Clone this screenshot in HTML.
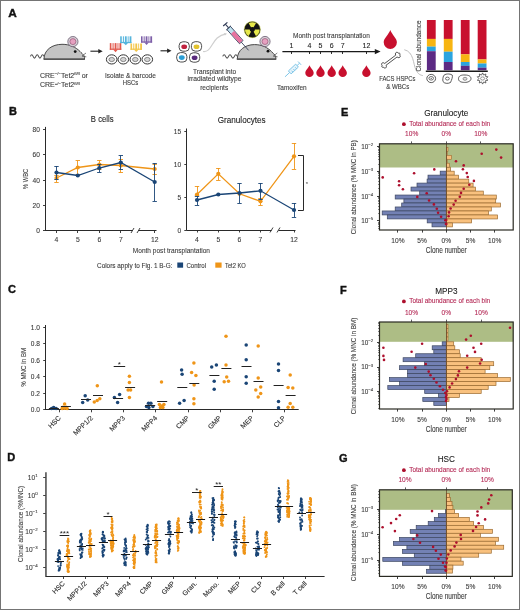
<!DOCTYPE html>
<html><head><meta charset="utf-8"><style>
html,body{margin:0;padding:0;background:#fff;}
svg{display:block;font-family:"Liberation Sans", sans-serif;will-change:transform;}
</style></head><body>
<svg width="520" height="610" viewBox="0 0 520 610">
<rect width="520" height="610" fill="#fff"/>
<rect x="0" y="0" width="520" height="1" fill="#747474"/>
<rect x="0" y="0" width="1" height="610" fill="#747474"/>
<rect x="519" y="0" width="1" height="610" fill="#747474"/>
<rect x="0" y="609" width="520" height="1" fill="#747474"/>
<text x="9" y="115.4" font-size="11" text-anchor="start" fill="#111" font-weight="bold"  stroke="#111" stroke-width="0.4">B</text>
<text x="8" y="293.4" font-size="11" text-anchor="start" fill="#111" font-weight="bold"  stroke="#111" stroke-width="0.4">C</text>
<text x="7.3" y="461.4" font-size="11" text-anchor="start" fill="#111" font-weight="bold"  stroke="#111" stroke-width="0.4">D</text>
<text x="341" y="115.5" font-size="11" text-anchor="start" fill="#111" font-weight="bold"  stroke="#111" stroke-width="0.4">E</text>
<text x="340" y="293.5" font-size="11" text-anchor="start" fill="#111" font-weight="bold"  stroke="#111" stroke-width="0.4">F</text>
<text x="339" y="461.5" font-size="11" text-anchor="start" fill="#111" font-weight="bold"  stroke="#111" stroke-width="0.4">G</text>
<text x="8.2" y="16.6" font-size="11.8" text-anchor="start" fill="#111" font-weight="bold"  stroke="#111" stroke-width="0.4">A</text>
<line x1="45.5" y1="126.9" x2="45.5" y2="231.0" stroke="#2a2a2a" stroke-width="1"/>
<line x1="43.0" y1="129.5" x2="45.5" y2="129.5" stroke="#2a2a2a" stroke-width="0.9"/>
<text x="39.9" y="131.9" font-size="6.6" text-anchor="end" fill="#3a3a3a" font-weight="normal"  stroke="#3a3a3a" stroke-width="0.1">80</text>
<line x1="43.0" y1="154.5" x2="45.5" y2="154.5" stroke="#2a2a2a" stroke-width="0.9"/>
<text x="39.9" y="157.2" font-size="6.6" text-anchor="end" fill="#3a3a3a" font-weight="normal"  stroke="#3a3a3a" stroke-width="0.1">60</text>
<line x1="43.0" y1="180.5" x2="45.5" y2="180.5" stroke="#2a2a2a" stroke-width="0.9"/>
<text x="39.9" y="182.5" font-size="6.6" text-anchor="end" fill="#3a3a3a" font-weight="normal"  stroke="#3a3a3a" stroke-width="0.1">40</text>
<line x1="43.0" y1="205.5" x2="45.5" y2="205.5" stroke="#2a2a2a" stroke-width="0.9"/>
<text x="39.9" y="207.7" font-size="6.6" text-anchor="end" fill="#3a3a3a" font-weight="normal"  stroke="#3a3a3a" stroke-width="0.1">20</text>
<line x1="43.0" y1="230.5" x2="45.5" y2="230.5" stroke="#2a2a2a" stroke-width="0.9"/>
<text x="39.9" y="233.0" font-size="6.6" text-anchor="end" fill="#3a3a3a" font-weight="normal"  stroke="#3a3a3a" stroke-width="0.1">0</text>
<line x1="45.5" y1="230.5" x2="132.5" y2="230.5" stroke="#2a2a2a" stroke-width="1"/>
<line x1="138.5" y1="230.5" x2="156.5" y2="230.5" stroke="#2a2a2a" stroke-width="1"/>
<line x1="131.0" y1="233.0" x2="134.0" y2="228.0" stroke="#2a2a2a" stroke-width="0.9"/>
<line x1="137.0" y1="233.0" x2="140.0" y2="228.0" stroke="#2a2a2a" stroke-width="0.9"/>
<line x1="56.5" y1="230.5" x2="56.5" y2="233.0" stroke="#2a2a2a" stroke-width="0.9"/>
<text x="56.5" y="242.3" font-size="6.8" text-anchor="middle" fill="#3a3a3a" font-weight="normal"  stroke="#3a3a3a" stroke-width="0.1">4</text>
<line x1="77.5" y1="230.5" x2="77.5" y2="233.0" stroke="#2a2a2a" stroke-width="0.9"/>
<text x="77.8" y="242.3" font-size="6.8" text-anchor="middle" fill="#3a3a3a" font-weight="normal"  stroke="#3a3a3a" stroke-width="0.1">5</text>
<line x1="99.5" y1="230.5" x2="99.5" y2="233.0" stroke="#2a2a2a" stroke-width="0.9"/>
<text x="99.3" y="242.3" font-size="6.8" text-anchor="middle" fill="#3a3a3a" font-weight="normal"  stroke="#3a3a3a" stroke-width="0.1">6</text>
<line x1="120.5" y1="230.5" x2="120.5" y2="233.0" stroke="#2a2a2a" stroke-width="0.9"/>
<text x="120.8" y="242.3" font-size="6.8" text-anchor="middle" fill="#3a3a3a" font-weight="normal"  stroke="#3a3a3a" stroke-width="0.1">7</text>
<line x1="154.5" y1="230.5" x2="154.5" y2="233.0" stroke="#2a2a2a" stroke-width="0.9"/>
<text x="154.7" y="242.3" font-size="6.8" text-anchor="middle" fill="#3a3a3a" font-weight="normal"  stroke="#3a3a3a" stroke-width="0.1">12</text>
<polyline points="56.5,178 77.8,167.5 99.3,164.5 120.8,165.5 154.7,169" fill="none" stroke="#ef9518" stroke-width="1.3"/>
<line x1="56.5" y1="175" x2="56.5" y2="182" stroke="#ef9518" stroke-width="0.9"/>
<line x1="54.3" y1="175.5" x2="58.7" y2="175.5" stroke="#ef9518" stroke-width="0.9"/>
<line x1="54.3" y1="182.5" x2="58.7" y2="182.5" stroke="#ef9518" stroke-width="0.9"/>
<circle cx="56.5" cy="178" r="2.1" fill="#ef9518"/>
<line x1="77.5" y1="160.5" x2="77.5" y2="174" stroke="#ef9518" stroke-width="0.9"/>
<line x1="75.6" y1="160.5" x2="80.0" y2="160.5" stroke="#ef9518" stroke-width="0.9"/>
<line x1="75.6" y1="174.5" x2="80.0" y2="174.5" stroke="#ef9518" stroke-width="0.9"/>
<circle cx="77.8" cy="167.5" r="2.1" fill="#ef9518"/>
<line x1="99.5" y1="160.5" x2="99.5" y2="169" stroke="#ef9518" stroke-width="0.9"/>
<line x1="97.1" y1="160.5" x2="101.5" y2="160.5" stroke="#ef9518" stroke-width="0.9"/>
<line x1="97.1" y1="169.5" x2="101.5" y2="169.5" stroke="#ef9518" stroke-width="0.9"/>
<circle cx="99.3" cy="164.5" r="2.1" fill="#ef9518"/>
<line x1="120.5" y1="159.5" x2="120.5" y2="172.5" stroke="#ef9518" stroke-width="0.9"/>
<line x1="118.6" y1="159.5" x2="123.0" y2="159.5" stroke="#ef9518" stroke-width="0.9"/>
<line x1="118.6" y1="172.5" x2="123.0" y2="172.5" stroke="#ef9518" stroke-width="0.9"/>
<circle cx="120.8" cy="165.5" r="2.1" fill="#ef9518"/>
<line x1="154.5" y1="164" x2="154.5" y2="174" stroke="#ef9518" stroke-width="0.9"/>
<line x1="152.5" y1="164.5" x2="156.89999999999998" y2="164.5" stroke="#ef9518" stroke-width="0.9"/>
<line x1="152.5" y1="174.5" x2="156.89999999999998" y2="174.5" stroke="#ef9518" stroke-width="0.9"/>
<circle cx="154.7" cy="169" r="2.1" fill="#ef9518"/>
<polyline points="56.5,172.5 77.8,175.5 99.3,168 120.8,162.5 154.7,182" fill="none" stroke="#1a4576" stroke-width="1.3"/>
<line x1="56.5" y1="166" x2="56.5" y2="179" stroke="#1a4576" stroke-width="0.9"/>
<line x1="54.3" y1="166.5" x2="58.7" y2="166.5" stroke="#1a4576" stroke-width="0.9"/>
<line x1="54.3" y1="179.5" x2="58.7" y2="179.5" stroke="#1a4576" stroke-width="0.9"/>
<circle cx="56.5" cy="172.5" r="2.1" fill="#1a4576"/>
<line x1="77.8" y1="175.5" x2="77.8" y2="175.5" stroke="#1a4576" stroke-width="0.9"/>
<line x1="75.6" y1="175.5" x2="80.0" y2="175.5" stroke="#1a4576" stroke-width="0.9"/>
<line x1="75.6" y1="175.5" x2="80.0" y2="175.5" stroke="#1a4576" stroke-width="0.9"/>
<circle cx="77.8" cy="175.5" r="2.1" fill="#1a4576"/>
<line x1="99.5" y1="164" x2="99.5" y2="172" stroke="#1a4576" stroke-width="0.9"/>
<line x1="97.1" y1="164.5" x2="101.5" y2="164.5" stroke="#1a4576" stroke-width="0.9"/>
<line x1="97.1" y1="172.5" x2="101.5" y2="172.5" stroke="#1a4576" stroke-width="0.9"/>
<circle cx="99.3" cy="168" r="2.1" fill="#1a4576"/>
<line x1="120.5" y1="155.5" x2="120.5" y2="169.5" stroke="#1a4576" stroke-width="0.9"/>
<line x1="118.6" y1="155.5" x2="123.0" y2="155.5" stroke="#1a4576" stroke-width="0.9"/>
<line x1="118.6" y1="169.5" x2="123.0" y2="169.5" stroke="#1a4576" stroke-width="0.9"/>
<circle cx="120.8" cy="162.5" r="2.1" fill="#1a4576"/>
<line x1="154.5" y1="163" x2="154.5" y2="201" stroke="#1a4576" stroke-width="0.9"/>
<line x1="152.5" y1="163.5" x2="156.89999999999998" y2="163.5" stroke="#1a4576" stroke-width="0.9"/>
<line x1="152.5" y1="201.5" x2="156.89999999999998" y2="201.5" stroke="#1a4576" stroke-width="0.9"/>
<circle cx="154.7" cy="182" r="2.1" fill="#1a4576"/>
<text x="102.2" y="122" font-size="8.6" text-anchor="middle" fill="#222" font-weight="normal" textLength="22.7" lengthAdjust="spacingAndGlyphs"  stroke="#222" stroke-width="0.1">B cells</text>
<text transform="translate(27.6,178.9) rotate(-90)" font-size="7.8" text-anchor="middle" fill="#3a3a3a" textLength="20.5" lengthAdjust="spacingAndGlyphs" stroke="#3a3a3a" stroke-width="0.1">% WBC</text>
<line x1="186.5" y1="128.5" x2="186.5" y2="230.5" stroke="#2a2a2a" stroke-width="1"/>
<line x1="184.3" y1="131.5" x2="186.8" y2="131.5" stroke="#2a2a2a" stroke-width="0.9"/>
<text x="181.20000000000002" y="133.5" font-size="6.6" text-anchor="end" fill="#3a3a3a" font-weight="normal"  stroke="#3a3a3a" stroke-width="0.1">15</text>
<line x1="184.3" y1="164.5" x2="186.8" y2="164.5" stroke="#2a2a2a" stroke-width="0.9"/>
<text x="181.20000000000002" y="166.7" font-size="6.6" text-anchor="end" fill="#3a3a3a" font-weight="normal"  stroke="#3a3a3a" stroke-width="0.1">10</text>
<line x1="184.3" y1="197.5" x2="186.8" y2="197.5" stroke="#2a2a2a" stroke-width="0.9"/>
<text x="181.20000000000002" y="199.7" font-size="6.6" text-anchor="end" fill="#3a3a3a" font-weight="normal"  stroke="#3a3a3a" stroke-width="0.1">5</text>
<line x1="184.3" y1="230.5" x2="186.8" y2="230.5" stroke="#2a2a2a" stroke-width="0.9"/>
<text x="181.20000000000002" y="232.5" font-size="6.6" text-anchor="end" fill="#3a3a3a" font-weight="normal"  stroke="#3a3a3a" stroke-width="0.1">0</text>
<line x1="186.8" y1="230.5" x2="271.5" y2="230.5" stroke="#2a2a2a" stroke-width="1"/>
<line x1="278.5" y1="230.5" x2="295.5" y2="230.5" stroke="#2a2a2a" stroke-width="1"/>
<line x1="270.0" y1="232.5" x2="273.0" y2="227.5" stroke="#2a2a2a" stroke-width="0.9"/>
<line x1="277.0" y1="232.5" x2="280.0" y2="227.5" stroke="#2a2a2a" stroke-width="0.9"/>
<line x1="197.5" y1="230" x2="197.5" y2="232.5" stroke="#2a2a2a" stroke-width="0.9"/>
<text x="197" y="241.8" font-size="6.8" text-anchor="middle" fill="#3a3a3a" font-weight="normal"  stroke="#3a3a3a" stroke-width="0.1">4</text>
<line x1="218.5" y1="230" x2="218.5" y2="232.5" stroke="#2a2a2a" stroke-width="0.9"/>
<text x="218.3" y="241.8" font-size="6.8" text-anchor="middle" fill="#3a3a3a" font-weight="normal"  stroke="#3a3a3a" stroke-width="0.1">5</text>
<line x1="239.5" y1="230" x2="239.5" y2="232.5" stroke="#2a2a2a" stroke-width="0.9"/>
<text x="239.5" y="241.8" font-size="6.8" text-anchor="middle" fill="#3a3a3a" font-weight="normal"  stroke="#3a3a3a" stroke-width="0.1">6</text>
<line x1="260.5" y1="230" x2="260.5" y2="232.5" stroke="#2a2a2a" stroke-width="0.9"/>
<text x="260.5" y="241.8" font-size="6.8" text-anchor="middle" fill="#3a3a3a" font-weight="normal"  stroke="#3a3a3a" stroke-width="0.1">7</text>
<line x1="294.5" y1="230" x2="294.5" y2="232.5" stroke="#2a2a2a" stroke-width="0.9"/>
<text x="294" y="241.8" font-size="6.8" text-anchor="middle" fill="#3a3a3a" font-weight="normal"  stroke="#3a3a3a" stroke-width="0.1">12</text>
<polyline points="197,194.5 218.3,173.8 239.5,193.8 260.5,201.3 294,156.3" fill="none" stroke="#ef9518" stroke-width="1.3"/>
<line x1="197.5" y1="186" x2="197.5" y2="195" stroke="#ef9518" stroke-width="0.9"/>
<line x1="194.8" y1="186.5" x2="199.2" y2="186.5" stroke="#ef9518" stroke-width="0.9"/>
<line x1="194.8" y1="195.5" x2="199.2" y2="195.5" stroke="#ef9518" stroke-width="0.9"/>
<circle cx="197" cy="194.5" r="2.1" fill="#ef9518"/>
<line x1="218.5" y1="168" x2="218.5" y2="180" stroke="#ef9518" stroke-width="0.9"/>
<line x1="216.10000000000002" y1="168.5" x2="220.5" y2="168.5" stroke="#ef9518" stroke-width="0.9"/>
<line x1="216.10000000000002" y1="180.5" x2="220.5" y2="180.5" stroke="#ef9518" stroke-width="0.9"/>
<circle cx="218.3" cy="173.8" r="2.1" fill="#ef9518"/>
<line x1="239.5" y1="193.5" x2="239.5" y2="193.5" stroke="#ef9518" stroke-width="0.9"/>
<line x1="237.3" y1="193.5" x2="241.7" y2="193.5" stroke="#ef9518" stroke-width="0.9"/>
<line x1="237.3" y1="193.5" x2="241.7" y2="193.5" stroke="#ef9518" stroke-width="0.9"/>
<circle cx="239.5" cy="193.8" r="2.1" fill="#ef9518"/>
<line x1="260.5" y1="198" x2="260.5" y2="205" stroke="#ef9518" stroke-width="0.9"/>
<line x1="258.3" y1="198.5" x2="262.7" y2="198.5" stroke="#ef9518" stroke-width="0.9"/>
<line x1="258.3" y1="205.5" x2="262.7" y2="205.5" stroke="#ef9518" stroke-width="0.9"/>
<circle cx="260.5" cy="201.3" r="2.1" fill="#ef9518"/>
<line x1="294.5" y1="143" x2="294.5" y2="169" stroke="#ef9518" stroke-width="0.9"/>
<line x1="291.8" y1="143.5" x2="296.2" y2="143.5" stroke="#ef9518" stroke-width="0.9"/>
<line x1="291.8" y1="169.5" x2="296.2" y2="169.5" stroke="#ef9518" stroke-width="0.9"/>
<circle cx="294" cy="156.3" r="2.1" fill="#ef9518"/>
<polyline points="197,200 218.3,194.5 239.5,193 260.5,190.8 294,210" fill="none" stroke="#1a4576" stroke-width="1.3"/>
<line x1="197.5" y1="196" x2="197.5" y2="205" stroke="#1a4576" stroke-width="0.9"/>
<line x1="194.8" y1="196.5" x2="199.2" y2="196.5" stroke="#1a4576" stroke-width="0.9"/>
<line x1="194.8" y1="205.5" x2="199.2" y2="205.5" stroke="#1a4576" stroke-width="0.9"/>
<circle cx="197" cy="200" r="2.1" fill="#1a4576"/>
<line x1="218.3" y1="194.5" x2="218.3" y2="194.5" stroke="#1a4576" stroke-width="0.9"/>
<line x1="216.10000000000002" y1="194.5" x2="220.5" y2="194.5" stroke="#1a4576" stroke-width="0.9"/>
<line x1="216.10000000000002" y1="194.5" x2="220.5" y2="194.5" stroke="#1a4576" stroke-width="0.9"/>
<circle cx="218.3" cy="194.5" r="2.1" fill="#1a4576"/>
<line x1="239.5" y1="183" x2="239.5" y2="203" stroke="#1a4576" stroke-width="0.9"/>
<line x1="237.3" y1="183.5" x2="241.7" y2="183.5" stroke="#1a4576" stroke-width="0.9"/>
<line x1="237.3" y1="203.5" x2="241.7" y2="203.5" stroke="#1a4576" stroke-width="0.9"/>
<circle cx="239.5" cy="193" r="2.1" fill="#1a4576"/>
<line x1="260.5" y1="183" x2="260.5" y2="199" stroke="#1a4576" stroke-width="0.9"/>
<line x1="258.3" y1="183.5" x2="262.7" y2="183.5" stroke="#1a4576" stroke-width="0.9"/>
<line x1="258.3" y1="199.5" x2="262.7" y2="199.5" stroke="#1a4576" stroke-width="0.9"/>
<circle cx="260.5" cy="190.8" r="2.1" fill="#1a4576"/>
<line x1="294.5" y1="203" x2="294.5" y2="217" stroke="#1a4576" stroke-width="0.9"/>
<line x1="291.8" y1="203.5" x2="296.2" y2="203.5" stroke="#1a4576" stroke-width="0.9"/>
<line x1="291.8" y1="217.5" x2="296.2" y2="217.5" stroke="#1a4576" stroke-width="0.9"/>
<circle cx="294" cy="210" r="2.1" fill="#1a4576"/>
<text x="241.7" y="122.5" font-size="8.6" text-anchor="middle" fill="#222" font-weight="normal" textLength="48" lengthAdjust="spacingAndGlyphs"  stroke="#222" stroke-width="0.1">Granulocytes</text>
<polyline points="298,155.5 303.5,155.5 303.5,210.5 298,210.5" fill="none" stroke="#2a2a2a" stroke-width="1"/>
<text x="306.8" y="186" font-size="6" text-anchor="middle" fill="#3a3a3a" font-weight="normal"  stroke="#3a3a3a" stroke-width="0">*</text>
<text x="132.8" y="253" font-size="8.1" text-anchor="start" fill="#3a3a3a" font-weight="normal" textLength="77.2" lengthAdjust="spacingAndGlyphs"  stroke="#3a3a3a" stroke-width="0.1">Month post transplantation</text>
<text x="97" y="267.5" font-size="7" text-anchor="start" fill="#3a3a3a" font-weight="normal" textLength="75.5" lengthAdjust="spacingAndGlyphs"  stroke="#3a3a3a" stroke-width="0.1">Colors apply to Fig. 1 B-G:</text>
<rect x="177.3" y="262.5" width="5.8" height="5.2" fill="#1a4576"/>
<text x="186.4" y="267.5" font-size="7" text-anchor="start" fill="#3a3a3a" font-weight="normal" textLength="19.6" lengthAdjust="spacingAndGlyphs"  stroke="#3a3a3a" stroke-width="0.1">Control</text>
<rect x="215.3" y="262.5" width="6.3" height="5.2" fill="#ef9518"/>
<text x="225" y="267.5" font-size="7" text-anchor="start" fill="#3a3a3a" font-weight="normal" textLength="20.8" lengthAdjust="spacingAndGlyphs"  stroke="#3a3a3a" stroke-width="0.1">Tet2 KO</text>
<line x1="45.5" y1="325" x2="45.5" y2="410.0" stroke="#2a2a2a" stroke-width="1"/>
<line x1="43.2" y1="327.5" x2="45.9" y2="327.5" stroke="#2a2a2a" stroke-width="0.9"/>
<text x="40" y="329.7" font-size="6.6" text-anchor="end" fill="#3a3a3a" font-weight="normal"  stroke="#3a3a3a" stroke-width="0.1">1.0</text>
<line x1="43.2" y1="343.5" x2="45.9" y2="343.5" stroke="#2a2a2a" stroke-width="0.9"/>
<text x="40" y="346.2" font-size="6.6" text-anchor="end" fill="#3a3a3a" font-weight="normal"  stroke="#3a3a3a" stroke-width="0.1">0.8</text>
<line x1="43.2" y1="360.5" x2="45.9" y2="360.5" stroke="#2a2a2a" stroke-width="0.9"/>
<text x="40" y="362.7" font-size="6.6" text-anchor="end" fill="#3a3a3a" font-weight="normal"  stroke="#3a3a3a" stroke-width="0.1">0.6</text>
<line x1="43.2" y1="376.5" x2="45.9" y2="376.5" stroke="#2a2a2a" stroke-width="0.9"/>
<text x="40" y="379.2" font-size="6.6" text-anchor="end" fill="#3a3a3a" font-weight="normal"  stroke="#3a3a3a" stroke-width="0.1">0.4</text>
<line x1="43.2" y1="393.5" x2="45.9" y2="393.5" stroke="#2a2a2a" stroke-width="0.9"/>
<text x="40" y="395.7" font-size="6.6" text-anchor="end" fill="#3a3a3a" font-weight="normal"  stroke="#3a3a3a" stroke-width="0.1">0.2</text>
<line x1="43.2" y1="409.5" x2="45.9" y2="409.5" stroke="#2a2a2a" stroke-width="0.9"/>
<text x="40" y="411.9" font-size="6.6" text-anchor="end" fill="#3a3a3a" font-weight="normal"  stroke="#3a3a3a" stroke-width="0.1">0.0</text>
<line x1="45.9" y1="409.5" x2="298.7" y2="409.5" stroke="#2a2a2a" stroke-width="1"/>
<text transform="translate(26,367.3) rotate(-90)" font-size="7.8" text-anchor="middle" fill="#3a3a3a" textLength="39" lengthAdjust="spacingAndGlyphs" stroke="#3a3a3a" stroke-width="0.1">% MNC in BM</text>
<line x1="59.5" y1="409.5" x2="59.5" y2="412.3" stroke="#2a2a2a" stroke-width="0.9"/>
<circle cx="51.6" cy="408.6" r="1.75" fill="#1a4576"/>
<circle cx="54.1" cy="408.3" r="1.75" fill="#1a4576"/>
<circle cx="56.1" cy="408.6" r="1.75" fill="#1a4576"/>
<circle cx="53.6" cy="407.4" r="1.75" fill="#1a4576"/>
<circle cx="62.1" cy="408.6" r="1.75" fill="#ef9518"/>
<circle cx="64.6" cy="408.3" r="1.75" fill="#ef9518"/>
<circle cx="67.1" cy="408.6" r="1.75" fill="#ef9518"/>
<circle cx="64.6" cy="404" r="1.75" fill="#ef9518"/>
<circle cx="63.1" cy="407.3" r="1.75" fill="#ef9518"/>
<circle cx="66.1" cy="407.3" r="1.75" fill="#ef9518"/>
<line x1="48.900000000000006" y1="408.5" x2="58.9" y2="408.5" stroke="#222" stroke-width="1"/>
<line x1="60.9" y1="406.5" x2="70.9" y2="406.5" stroke="#222" stroke-width="1"/>
<text transform="translate(61.300000000000004,418.5) rotate(-45)" font-size="6.9" text-anchor="end" fill="#2a2a2a" stroke="#2a2a2a" stroke-width="0.1">HSC</text>
<line x1="91.5" y1="409.5" x2="91.5" y2="412.3" stroke="#2a2a2a" stroke-width="0.9"/>
<circle cx="82.7" cy="402.5" r="1.75" fill="#1a4576"/>
<circle cx="85.2" cy="395.8" r="1.75" fill="#1a4576"/>
<circle cx="87.7" cy="400" r="1.75" fill="#1a4576"/>
<circle cx="94.3" cy="402" r="1.75" fill="#ef9518"/>
<circle cx="97.3" cy="385.8" r="1.75" fill="#ef9518"/>
<circle cx="99.8" cy="398.8" r="1.75" fill="#ef9518"/>
<circle cx="97.2" cy="400.5" r="1.75" fill="#ef9518"/>
<line x1="81.0" y1="399.5" x2="91.0" y2="399.5" stroke="#222" stroke-width="1"/>
<line x1="93.0" y1="395.5" x2="103.0" y2="395.5" stroke="#222" stroke-width="1"/>
<text transform="translate(93.4,418.5) rotate(-45)" font-size="6.9" text-anchor="end" fill="#2a2a2a" stroke="#2a2a2a" stroke-width="0.1">MPP1/2</text>
<line x1="123.5" y1="409.5" x2="123.5" y2="412.3" stroke="#2a2a2a" stroke-width="0.9"/>
<circle cx="114.4" cy="397.5" r="1.75" fill="#1a4576"/>
<circle cx="117.60000000000001" cy="402.5" r="1.75" fill="#1a4576"/>
<circle cx="119.60000000000001" cy="394.5" r="1.75" fill="#1a4576"/>
<circle cx="129.4" cy="376.3" r="1.75" fill="#ef9518"/>
<circle cx="129.4" cy="382.5" r="1.75" fill="#ef9518"/>
<circle cx="128.10000000000002" cy="390" r="1.75" fill="#ef9518"/>
<circle cx="130.60000000000002" cy="390" r="1.75" fill="#ef9518"/>
<circle cx="129.4" cy="397.5" r="1.75" fill="#ef9518"/>
<line x1="113.10000000000001" y1="398.5" x2="123.10000000000001" y2="398.5" stroke="#222" stroke-width="1"/>
<line x1="125.10000000000001" y1="387.5" x2="135.10000000000002" y2="387.5" stroke="#222" stroke-width="1"/>
<text transform="translate(125.50000000000001,418.5) rotate(-45)" font-size="6.9" text-anchor="end" fill="#2a2a2a" stroke="#2a2a2a" stroke-width="0.1">MPP3</text>
<line x1="155.5" y1="409.5" x2="155.5" y2="412.3" stroke="#2a2a2a" stroke-width="0.9"/>
<circle cx="146.5" cy="406.5" r="1.75" fill="#1a4576"/>
<circle cx="148.5" cy="403.3" r="1.75" fill="#1a4576"/>
<circle cx="150.9" cy="403.3" r="1.75" fill="#1a4576"/>
<circle cx="152.9" cy="406.5" r="1.75" fill="#1a4576"/>
<circle cx="148.9" cy="407.6" r="1.75" fill="#1a4576"/>
<circle cx="161.5" cy="382" r="1.75" fill="#ef9518"/>
<circle cx="159.4" cy="404.5" r="1.75" fill="#ef9518"/>
<circle cx="161.9" cy="406" r="1.75" fill="#ef9518"/>
<circle cx="163.9" cy="404.5" r="1.75" fill="#ef9518"/>
<circle cx="160.4" cy="407.6" r="1.75" fill="#ef9518"/>
<circle cx="162.9" cy="407.6" r="1.75" fill="#ef9518"/>
<line x1="145.20000000000002" y1="405.5" x2="155.20000000000002" y2="405.5" stroke="#222" stroke-width="1"/>
<line x1="157.20000000000002" y1="401.5" x2="167.20000000000002" y2="401.5" stroke="#222" stroke-width="1"/>
<text transform="translate(157.6,418.5) rotate(-45)" font-size="6.9" text-anchor="end" fill="#2a2a2a" stroke="#2a2a2a" stroke-width="0.1">MPP4</text>
<line x1="188.5" y1="409.5" x2="188.5" y2="412.3" stroke="#2a2a2a" stroke-width="0.9"/>
<circle cx="181.6" cy="370" r="1.75" fill="#1a4576"/>
<circle cx="182.1" cy="374.3" r="1.75" fill="#1a4576"/>
<circle cx="179.6" cy="403.3" r="1.75" fill="#1a4576"/>
<circle cx="184.1" cy="400.5" r="1.75" fill="#1a4576"/>
<circle cx="193.9" cy="363" r="1.75" fill="#ef9518"/>
<circle cx="191.6" cy="372.5" r="1.75" fill="#ef9518"/>
<circle cx="195.9" cy="375.5" r="1.75" fill="#ef9518"/>
<circle cx="194.1" cy="385" r="1.75" fill="#ef9518"/>
<circle cx="193.9" cy="398.8" r="1.75" fill="#ef9518"/>
<circle cx="193.9" cy="403.8" r="1.75" fill="#ef9518"/>
<line x1="177.3" y1="387.5" x2="187.3" y2="387.5" stroke="#222" stroke-width="1"/>
<line x1="189.3" y1="383.5" x2="199.3" y2="383.5" stroke="#222" stroke-width="1"/>
<text transform="translate(189.7,418.5) rotate(-45)" font-size="6.9" text-anchor="end" fill="#2a2a2a" stroke="#2a2a2a" stroke-width="0.1">CMP</text>
<line x1="220.5" y1="409.5" x2="220.5" y2="412.3" stroke="#2a2a2a" stroke-width="0.9"/>
<circle cx="211.7" cy="367" r="1.75" fill="#1a4576"/>
<circle cx="216.4" cy="365" r="1.75" fill="#1a4576"/>
<circle cx="214.2" cy="381.3" r="1.75" fill="#1a4576"/>
<circle cx="214.2" cy="389.3" r="1.75" fill="#1a4576"/>
<circle cx="226.0" cy="336.3" r="1.75" fill="#ef9518"/>
<circle cx="226.0" cy="365" r="1.75" fill="#ef9518"/>
<circle cx="226.7" cy="377" r="1.75" fill="#ef9518"/>
<circle cx="224.2" cy="381.8" r="1.75" fill="#ef9518"/>
<circle cx="228.5" cy="381.3" r="1.75" fill="#ef9518"/>
<line x1="209.4" y1="375.5" x2="219.4" y2="375.5" stroke="#222" stroke-width="1"/>
<line x1="221.4" y1="368.5" x2="231.4" y2="368.5" stroke="#222" stroke-width="1"/>
<text transform="translate(221.79999999999998,418.5) rotate(-45)" font-size="6.9" text-anchor="end" fill="#2a2a2a" stroke="#2a2a2a" stroke-width="0.1">GMP</text>
<line x1="252.5" y1="409.5" x2="252.5" y2="412.3" stroke="#2a2a2a" stroke-width="0.9"/>
<circle cx="246.20000000000002" cy="344.9" r="1.75" fill="#1a4576"/>
<circle cx="246.20000000000002" cy="359.8" r="1.75" fill="#1a4576"/>
<circle cx="246.20000000000002" cy="376.8" r="1.75" fill="#1a4576"/>
<circle cx="246.20000000000002" cy="383.2" r="1.75" fill="#1a4576"/>
<circle cx="258.20000000000005" cy="345.9" r="1.75" fill="#ef9518"/>
<circle cx="258.20000000000005" cy="377.9" r="1.75" fill="#ef9518"/>
<circle cx="260.70000000000005" cy="386.9" r="1.75" fill="#ef9518"/>
<circle cx="255.8" cy="390" r="1.75" fill="#ef9518"/>
<circle cx="260.70000000000005" cy="393.5" r="1.75" fill="#ef9518"/>
<circle cx="258.20000000000005" cy="397" r="1.75" fill="#ef9518"/>
<line x1="241.50000000000003" y1="366.5" x2="251.50000000000003" y2="366.5" stroke="#222" stroke-width="1"/>
<line x1="253.50000000000003" y1="381.5" x2="263.5" y2="381.5" stroke="#222" stroke-width="1"/>
<text transform="translate(253.9,418.5) rotate(-45)" font-size="6.9" text-anchor="end" fill="#2a2a2a" stroke="#2a2a2a" stroke-width="0.1">MEP</text>
<line x1="284.5" y1="409.5" x2="284.5" y2="412.3" stroke="#2a2a2a" stroke-width="0.9"/>
<circle cx="278.5" cy="364" r="1.75" fill="#1a4576"/>
<circle cx="278.5" cy="370.4" r="1.75" fill="#1a4576"/>
<circle cx="278.5" cy="401.4" r="1.75" fill="#1a4576"/>
<circle cx="278.5" cy="407.7" r="1.75" fill="#1a4576"/>
<circle cx="290.2" cy="375.1" r="1.75" fill="#ef9518"/>
<circle cx="288.1" cy="387.5" r="1.75" fill="#ef9518"/>
<circle cx="292.8" cy="388.1" r="1.75" fill="#ef9518"/>
<circle cx="290.2" cy="403.5" r="1.75" fill="#ef9518"/>
<circle cx="288.1" cy="407.3" r="1.75" fill="#ef9518"/>
<circle cx="292.8" cy="407.3" r="1.75" fill="#ef9518"/>
<line x1="273.6" y1="385.5" x2="283.6" y2="385.5" stroke="#222" stroke-width="1"/>
<line x1="285.6" y1="395.5" x2="295.6" y2="395.5" stroke="#222" stroke-width="1"/>
<text transform="translate(286.0,418.5) rotate(-45)" font-size="6.9" text-anchor="end" fill="#2a2a2a" stroke="#2a2a2a" stroke-width="0.1">CLP</text>
<line x1="113.7" y1="366.5" x2="125.2" y2="366.5" stroke="#222" stroke-width="1"/>
<text x="119.3" y="367" font-size="8" text-anchor="middle" fill="#222" font-weight="normal"  stroke="#222" stroke-width="0">*</text>
<line x1="45.95" y1="472.3" x2="45.95" y2="576.8000000000001" stroke="#2a2a2a" stroke-width="1.3"/>
<line x1="43.2" y1="477.5" x2="45.6" y2="477.5" stroke="#2a2a2a" stroke-width="0.9"/>
<text x="37.6" y="479.8" font-size="6.6" text-anchor="end" fill="#3a3a3a" stroke="#3a3a3a" stroke-width="0.1">10<tspan dy="-2.8" font-size="4.4">1</tspan></text>
<line x1="43.2" y1="495.5" x2="45.6" y2="495.5" stroke="#2a2a2a" stroke-width="0.9"/>
<text x="37.6" y="497.8" font-size="6.6" text-anchor="end" fill="#3a3a3a" stroke="#3a3a3a" stroke-width="0.1">10<tspan dy="-2.8" font-size="4.4">0</tspan></text>
<line x1="43.2" y1="513.5" x2="45.6" y2="513.5" stroke="#2a2a2a" stroke-width="0.9"/>
<text x="37.6" y="515.8" font-size="6.6" text-anchor="end" fill="#3a3a3a" stroke="#3a3a3a" stroke-width="0.1">10<tspan dy="-2.8" font-size="4.4">&#8722;1</tspan></text>
<line x1="43.2" y1="531.5" x2="45.6" y2="531.5" stroke="#2a2a2a" stroke-width="0.9"/>
<text x="37.6" y="533.8" font-size="6.6" text-anchor="end" fill="#3a3a3a" stroke="#3a3a3a" stroke-width="0.1">10<tspan dy="-2.8" font-size="4.4">&#8722;2</tspan></text>
<line x1="43.2" y1="549.5" x2="45.6" y2="549.5" stroke="#2a2a2a" stroke-width="0.9"/>
<text x="37.6" y="551.6999999999999" font-size="6.6" text-anchor="end" fill="#3a3a3a" stroke="#3a3a3a" stroke-width="0.1">10<tspan dy="-2.8" font-size="4.4">&#8722;3</tspan></text>
<line x1="43.2" y1="567.5" x2="45.6" y2="567.5" stroke="#2a2a2a" stroke-width="0.9"/>
<text x="37.6" y="569.5999999999999" font-size="6.6" text-anchor="end" fill="#3a3a3a" stroke="#3a3a3a" stroke-width="0.1">10<tspan dy="-2.8" font-size="4.4">&#8722;4</tspan></text>
<line x1="45.6" y1="576.5" x2="324.6" y2="576.5" stroke="#2a2a2a" stroke-width="1"/>
<text transform="translate(22.6,524) rotate(-90)" font-size="7.8" text-anchor="middle" fill="#3a3a3a" textLength="76" lengthAdjust="spacingAndGlyphs" stroke="#3a3a3a" stroke-width="0.1">Clonal abundance (%MNC)</text>
<line x1="63.5" y1="576.2" x2="63.5" y2="579.0" stroke="#2a2a2a" stroke-width="0.9"/>
<g fill="#1a4576"><circle cx="59.7" cy="556.7" r="0.9"/><circle cx="58.7" cy="562.0" r="0.9"/><circle cx="57.4" cy="561.8" r="0.9"/><circle cx="58.1" cy="555.3" r="0.9"/><circle cx="58.1" cy="566.1" r="0.9"/><circle cx="60.7" cy="563.9" r="0.9"/><circle cx="60.3" cy="553.7" r="0.9"/><circle cx="58.4" cy="561.7" r="0.9"/><circle cx="58.5" cy="558.9" r="0.9"/><circle cx="59.3" cy="551.0" r="0.9"/><circle cx="59.3" cy="553.0" r="0.9"/><circle cx="58.1" cy="560.0" r="0.9"/><circle cx="58.8" cy="552.5" r="0.9"/><circle cx="58.7" cy="553.6" r="0.9"/><circle cx="58.7" cy="569.9" r="0.9"/><circle cx="60.1" cy="567.7" r="0.9"/><circle cx="60.1" cy="552.0" r="0.9"/><circle cx="60.1" cy="559.2" r="0.9"/><circle cx="57.6" cy="558.8" r="0.9"/><circle cx="59.4" cy="568.7" r="0.9"/><circle cx="59.5" cy="550.4" r="0.9"/><circle cx="59.1" cy="567.9" r="0.9"/><circle cx="59.2" cy="570.4" r="0.9"/><circle cx="59.6" cy="552.7" r="0.9"/><circle cx="59.9" cy="568.4" r="0.9"/><circle cx="59.7" cy="557.1" r="0.9"/><circle cx="57.9" cy="560.6" r="0.9"/><circle cx="60.2" cy="559.3" r="0.9"/><circle cx="58.8" cy="559.1" r="0.9"/><circle cx="59.1" cy="550.4" r="0.9"/><circle cx="60.0" cy="567.4" r="0.9"/><circle cx="59.1" cy="550.5" r="0.9"/><circle cx="60.6" cy="565.4" r="0.9"/><circle cx="58.3" cy="558.8" r="0.9"/><circle cx="59.5" cy="557.8" r="0.9"/><circle cx="58.9" cy="557.4" r="0.9"/><circle cx="60.6" cy="565.5" r="0.9"/><circle cx="59.5" cy="568.9" r="0.9"/><circle cx="60.0" cy="552.6" r="0.9"/><circle cx="59.8" cy="569.8" r="0.9"/><circle cx="58.1" cy="555.8" r="0.9"/><circle cx="58.2" cy="553.0" r="0.9"/><circle cx="58.7" cy="558.1" r="0.9"/><circle cx="57.9" cy="560.2" r="0.9"/><circle cx="57.5" cy="559.5" r="0.9"/><circle cx="58.6" cy="570.7" r="0.9"/><circle cx="58.8" cy="557.5" r="0.9"/><circle cx="61.0" cy="562.7" r="0.9"/><circle cx="58.1" cy="555.0" r="0.9"/></g>
<g fill="#ef9518"><circle cx="67.3" cy="554.0" r="0.9"/><circle cx="67.4" cy="540.8" r="0.9"/><circle cx="67.6" cy="571.3" r="0.9"/><circle cx="68.2" cy="545.7" r="0.9"/><circle cx="68.4" cy="571.7" r="0.9"/><circle cx="67.2" cy="550.8" r="0.9"/><circle cx="68.6" cy="568.7" r="0.9"/><circle cx="68.9" cy="549.6" r="0.9"/><circle cx="68.5" cy="571.8" r="0.9"/><circle cx="67.6" cy="569.4" r="0.9"/><circle cx="67.1" cy="546.2" r="0.9"/><circle cx="67.3" cy="555.6" r="0.9"/><circle cx="68.0" cy="567.6" r="0.9"/><circle cx="68.8" cy="571.1" r="0.9"/><circle cx="67.4" cy="548.9" r="0.9"/><circle cx="68.5" cy="552.1" r="0.9"/><circle cx="68.1" cy="570.6" r="0.9"/><circle cx="67.2" cy="567.0" r="0.9"/><circle cx="68.7" cy="567.1" r="0.9"/><circle cx="67.6" cy="542.2" r="0.9"/><circle cx="68.6" cy="541.5" r="0.9"/><circle cx="68.0" cy="538.5" r="0.9"/><circle cx="67.6" cy="571.2" r="0.9"/><circle cx="69.4" cy="553.4" r="0.9"/><circle cx="68.6" cy="541.2" r="0.9"/><circle cx="67.9" cy="571.7" r="0.9"/><circle cx="67.1" cy="545.6" r="0.9"/><circle cx="68.1" cy="571.6" r="0.9"/><circle cx="68.6" cy="539.1" r="0.9"/><circle cx="67.7" cy="540.9" r="0.9"/><circle cx="68.3" cy="550.2" r="0.9"/><circle cx="67.0" cy="550.9" r="0.9"/><circle cx="68.0" cy="539.5" r="0.9"/><circle cx="67.9" cy="566.0" r="0.9"/><circle cx="68.2" cy="570.8" r="0.9"/><circle cx="68.0" cy="546.1" r="0.9"/><circle cx="69.0" cy="552.3" r="0.9"/><circle cx="68.8" cy="552.5" r="0.9"/><circle cx="68.1" cy="545.5" r="0.9"/><circle cx="67.2" cy="565.5" r="0.9"/><circle cx="67.6" cy="545.4" r="0.9"/><circle cx="68.2" cy="568.7" r="0.9"/><circle cx="68.0" cy="568.6" r="0.9"/><circle cx="68.1" cy="566.4" r="0.9"/><circle cx="68.2" cy="543.1" r="0.9"/><circle cx="68.6" cy="564.4" r="0.9"/><circle cx="67.7" cy="570.2" r="0.9"/><circle cx="68.9" cy="565.6" r="0.9"/><circle cx="67.9" cy="553.2" r="0.9"/><circle cx="66.7" cy="554.6" r="0.9"/><circle cx="68.9" cy="567.2" r="0.9"/><circle cx="68.6" cy="559.2" r="0.9"/><circle cx="69.6" cy="559.0" r="0.9"/><circle cx="67.8" cy="560.3" r="0.9"/><circle cx="68.9" cy="564.5" r="0.9"/><circle cx="68.1" cy="552.8" r="0.9"/><circle cx="67.6" cy="549.4" r="0.9"/><circle cx="68.2" cy="542.6" r="0.9"/><circle cx="67.7" cy="547.6" r="0.9"/><circle cx="67.1" cy="566.6" r="0.9"/><circle cx="68.8" cy="571.8" r="0.9"/><circle cx="66.6" cy="553.9" r="0.9"/><circle cx="67.5" cy="541.7" r="0.9"/><circle cx="68.9" cy="563.5" r="0.9"/><circle cx="69.3" cy="550.9" r="0.9"/><circle cx="67.2" cy="565.8" r="0.9"/><circle cx="67.8" cy="557.5" r="0.9"/><circle cx="68.6" cy="557.8" r="0.9"/><circle cx="68.6" cy="541.3" r="0.9"/><circle cx="67.9" cy="557.7" r="0.9"/><circle cx="69.3" cy="562.2" r="0.9"/><circle cx="68.2" cy="550.7" r="0.9"/><circle cx="67.1" cy="551.3" r="0.9"/><circle cx="67.5" cy="555.1" r="0.9"/><circle cx="67.5" cy="561.7" r="0.9"/><circle cx="67.8" cy="546.5" r="0.9"/><circle cx="66.4" cy="555.8" r="0.9"/><circle cx="67.5" cy="568.2" r="0.9"/><circle cx="67.1" cy="564.3" r="0.9"/><circle cx="68.1" cy="541.0" r="0.9"/></g>
<line x1="54.9" y1="561.5" x2="64.0" y2="561.5" stroke="#1a1a1a" stroke-width="1.0"/>
<line x1="64.0" y1="556.5" x2="73.1" y2="556.5" stroke="#1a1a1a" stroke-width="1.0"/>
<text transform="translate(65.3,584) rotate(-45)" font-size="6.9" text-anchor="end" fill="#2a2a2a" stroke="#2a2a2a" stroke-width="0.1">HSC</text>
<line x1="85.5" y1="576.2" x2="85.5" y2="579.0" stroke="#2a2a2a" stroke-width="0.9"/>
<g fill="#1a4576"><circle cx="81.2" cy="535.4" r="0.9"/><circle cx="80.9" cy="554.9" r="0.9"/><circle cx="81.5" cy="556.5" r="0.9"/><circle cx="79.9" cy="540.6" r="0.9"/><circle cx="82.1" cy="544.2" r="0.9"/><circle cx="79.9" cy="542.5" r="0.9"/><circle cx="81.5" cy="556.6" r="0.9"/><circle cx="80.5" cy="542.1" r="0.9"/><circle cx="81.1" cy="539.9" r="0.9"/><circle cx="82.7" cy="549.9" r="0.9"/><circle cx="82.3" cy="538.8" r="0.9"/><circle cx="79.7" cy="541.8" r="0.9"/><circle cx="81.2" cy="540.9" r="0.9"/><circle cx="79.5" cy="549.1" r="0.9"/><circle cx="80.9" cy="542.4" r="0.9"/><circle cx="80.4" cy="545.5" r="0.9"/><circle cx="81.3" cy="549.5" r="0.9"/><circle cx="81.6" cy="555.6" r="0.9"/><circle cx="80.9" cy="534.9" r="0.9"/><circle cx="81.5" cy="533.7" r="0.9"/><circle cx="81.9" cy="537.7" r="0.9"/><circle cx="81.6" cy="557.2" r="0.9"/><circle cx="81.2" cy="535.7" r="0.9"/><circle cx="82.0" cy="552.8" r="0.9"/><circle cx="81.9" cy="556.5" r="0.9"/><circle cx="80.6" cy="554.9" r="0.9"/><circle cx="80.7" cy="545.6" r="0.9"/><circle cx="81.4" cy="547.8" r="0.9"/><circle cx="81.6" cy="554.2" r="0.9"/><circle cx="82.0" cy="539.5" r="0.9"/><circle cx="81.3" cy="555.6" r="0.9"/><circle cx="81.7" cy="537.5" r="0.9"/><circle cx="80.4" cy="542.5" r="0.9"/><circle cx="81.7" cy="536.6" r="0.9"/><circle cx="81.0" cy="533.8" r="0.9"/><circle cx="81.9" cy="552.5" r="0.9"/><circle cx="80.2" cy="554.1" r="0.9"/><circle cx="82.1" cy="543.9" r="0.9"/><circle cx="79.7" cy="550.4" r="0.9"/><circle cx="81.9" cy="545.2" r="0.9"/><circle cx="80.7" cy="555.0" r="0.9"/><circle cx="81.1" cy="539.2" r="0.9"/><circle cx="80.1" cy="548.0" r="0.9"/><circle cx="80.5" cy="558.2" r="0.9"/><circle cx="82.5" cy="552.3" r="0.9"/><circle cx="80.4" cy="540.0" r="0.9"/><circle cx="81.3" cy="534.1" r="0.9"/><circle cx="82.8" cy="548.3" r="0.9"/><circle cx="81.2" cy="548.2" r="0.9"/><circle cx="80.7" cy="557.2" r="0.9"/><circle cx="80.4" cy="534.7" r="0.9"/><circle cx="81.0" cy="546.1" r="0.9"/></g>
<g fill="#ef9518"><circle cx="89.7" cy="540.1" r="0.9"/><circle cx="88.7" cy="549.4" r="0.9"/><circle cx="89.3" cy="554.3" r="0.9"/><circle cx="90.8" cy="556.2" r="0.9"/><circle cx="89.8" cy="540.3" r="0.9"/><circle cx="89.9" cy="557.0" r="0.9"/><circle cx="89.0" cy="538.2" r="0.9"/><circle cx="89.4" cy="546.8" r="0.9"/><circle cx="89.8" cy="530.9" r="0.9"/><circle cx="89.8" cy="536.9" r="0.9"/><circle cx="90.6" cy="556.5" r="0.9"/><circle cx="91.1" cy="553.0" r="0.9"/><circle cx="89.0" cy="552.1" r="0.9"/><circle cx="90.5" cy="533.7" r="0.9"/><circle cx="89.3" cy="535.0" r="0.9"/><circle cx="90.1" cy="531.0" r="0.9"/><circle cx="90.7" cy="539.4" r="0.9"/><circle cx="90.3" cy="530.3" r="0.9"/><circle cx="89.8" cy="549.3" r="0.9"/><circle cx="89.2" cy="542.2" r="0.9"/><circle cx="89.7" cy="531.3" r="0.9"/><circle cx="90.0" cy="556.0" r="0.9"/><circle cx="88.8" cy="542.7" r="0.9"/><circle cx="89.4" cy="539.5" r="0.9"/><circle cx="91.3" cy="548.8" r="0.9"/><circle cx="90.0" cy="533.5" r="0.9"/><circle cx="89.8" cy="536.7" r="0.9"/><circle cx="91.7" cy="544.0" r="0.9"/><circle cx="90.5" cy="547.1" r="0.9"/><circle cx="89.8" cy="531.9" r="0.9"/><circle cx="89.9" cy="540.9" r="0.9"/><circle cx="90.7" cy="556.5" r="0.9"/><circle cx="90.8" cy="544.8" r="0.9"/><circle cx="90.2" cy="531.4" r="0.9"/><circle cx="91.6" cy="545.3" r="0.9"/><circle cx="91.0" cy="555.1" r="0.9"/><circle cx="89.1" cy="540.9" r="0.9"/><circle cx="91.2" cy="551.8" r="0.9"/><circle cx="90.7" cy="554.0" r="0.9"/><circle cx="88.9" cy="551.1" r="0.9"/><circle cx="90.7" cy="533.0" r="0.9"/><circle cx="89.4" cy="535.0" r="0.9"/><circle cx="90.7" cy="548.7" r="0.9"/><circle cx="90.2" cy="543.2" r="0.9"/><circle cx="89.6" cy="535.9" r="0.9"/><circle cx="89.7" cy="535.6" r="0.9"/><circle cx="90.5" cy="551.1" r="0.9"/><circle cx="89.8" cy="531.6" r="0.9"/><circle cx="90.7" cy="548.6" r="0.9"/><circle cx="90.1" cy="540.0" r="0.9"/><circle cx="89.7" cy="534.6" r="0.9"/><circle cx="89.5" cy="553.4" r="0.9"/><circle cx="89.8" cy="544.6" r="0.9"/><circle cx="90.6" cy="534.5" r="0.9"/><circle cx="89.5" cy="554.2" r="0.9"/><circle cx="90.5" cy="530.4" r="0.9"/><circle cx="90.9" cy="541.2" r="0.9"/><circle cx="90.1" cy="549.2" r="0.9"/><circle cx="89.9" cy="541.9" r="0.9"/><circle cx="89.3" cy="553.4" r="0.9"/><circle cx="91.3" cy="538.7" r="0.9"/><circle cx="88.7" cy="542.7" r="0.9"/><circle cx="91.1" cy="550.4" r="0.9"/><circle cx="91.0" cy="554.1" r="0.9"/><circle cx="91.2" cy="539.7" r="0.9"/><circle cx="90.4" cy="533.5" r="0.9"/></g>
<line x1="76.9" y1="546.5" x2="86.0" y2="546.5" stroke="#1a1a1a" stroke-width="1.0"/>
<line x1="86.0" y1="545.5" x2="95.1" y2="545.5" stroke="#1a1a1a" stroke-width="1.0"/>
<text transform="translate(87.3,584) rotate(-45)" font-size="6.9" text-anchor="end" fill="#2a2a2a" stroke="#2a2a2a" stroke-width="0.1">MPP1/2</text>
<line x1="107.5" y1="576.2" x2="107.5" y2="579.0" stroke="#2a2a2a" stroke-width="0.9"/>
<g fill="#1a4576"><circle cx="102.7" cy="537.7" r="0.9"/><circle cx="102.4" cy="540.0" r="0.9"/><circle cx="102.2" cy="548.5" r="0.9"/><circle cx="102.9" cy="531.7" r="0.9"/><circle cx="103.1" cy="555.8" r="0.9"/><circle cx="102.7" cy="541.5" r="0.9"/><circle cx="102.9" cy="532.2" r="0.9"/><circle cx="103.0" cy="532.4" r="0.9"/><circle cx="102.6" cy="555.6" r="0.9"/><circle cx="104.8" cy="541.7" r="0.9"/><circle cx="104.4" cy="547.0" r="0.9"/><circle cx="104.7" cy="538.1" r="0.9"/><circle cx="103.8" cy="535.2" r="0.9"/><circle cx="101.6" cy="538.4" r="0.9"/><circle cx="103.4" cy="554.8" r="0.9"/><circle cx="102.7" cy="532.0" r="0.9"/><circle cx="104.3" cy="550.5" r="0.9"/><circle cx="103.0" cy="537.6" r="0.9"/><circle cx="102.5" cy="550.8" r="0.9"/><circle cx="103.7" cy="555.5" r="0.9"/><circle cx="102.9" cy="555.0" r="0.9"/><circle cx="104.1" cy="538.3" r="0.9"/><circle cx="104.2" cy="541.1" r="0.9"/><circle cx="101.6" cy="539.1" r="0.9"/><circle cx="104.5" cy="535.9" r="0.9"/><circle cx="102.9" cy="556.7" r="0.9"/><circle cx="103.2" cy="541.0" r="0.9"/><circle cx="102.5" cy="534.3" r="0.9"/><circle cx="103.6" cy="549.6" r="0.9"/><circle cx="103.5" cy="554.7" r="0.9"/><circle cx="102.5" cy="544.6" r="0.9"/><circle cx="103.9" cy="535.7" r="0.9"/><circle cx="102.3" cy="539.7" r="0.9"/><circle cx="103.5" cy="545.2" r="0.9"/><circle cx="104.8" cy="538.3" r="0.9"/><circle cx="104.1" cy="536.3" r="0.9"/><circle cx="102.5" cy="553.2" r="0.9"/><circle cx="104.0" cy="550.5" r="0.9"/><circle cx="102.8" cy="532.2" r="0.9"/><circle cx="104.9" cy="540.6" r="0.9"/><circle cx="102.9" cy="552.2" r="0.9"/><circle cx="102.7" cy="532.7" r="0.9"/><circle cx="102.6" cy="555.1" r="0.9"/><circle cx="102.6" cy="552.4" r="0.9"/><circle cx="102.3" cy="537.8" r="0.9"/><circle cx="103.7" cy="546.9" r="0.9"/><circle cx="102.6" cy="539.6" r="0.9"/><circle cx="102.7" cy="534.6" r="0.9"/><circle cx="103.4" cy="546.1" r="0.9"/><circle cx="102.8" cy="541.3" r="0.9"/><circle cx="102.3" cy="551.7" r="0.9"/><circle cx="102.9" cy="545.4" r="0.9"/><circle cx="104.7" cy="538.7" r="0.9"/><circle cx="102.8" cy="547.9" r="0.9"/><circle cx="104.5" cy="549.6" r="0.9"/></g>
<g fill="#ef9518"><circle cx="112.6" cy="531.1" r="0.9"/><circle cx="113.2" cy="535.0" r="0.9"/><circle cx="111.8" cy="545.7" r="0.9"/><circle cx="111.7" cy="519.5" r="0.9"/><circle cx="112.6" cy="540.8" r="0.9"/><circle cx="112.3" cy="518.9" r="0.9"/><circle cx="111.0" cy="545.1" r="0.9"/><circle cx="113.4" cy="544.1" r="0.9"/><circle cx="113.1" cy="537.4" r="0.9"/><circle cx="111.6" cy="517.7" r="0.9"/><circle cx="112.1" cy="551.0" r="0.9"/><circle cx="111.7" cy="541.4" r="0.9"/><circle cx="112.8" cy="550.6" r="0.9"/><circle cx="111.2" cy="542.7" r="0.9"/><circle cx="113.1" cy="545.5" r="0.9"/><circle cx="111.8" cy="535.5" r="0.9"/><circle cx="111.4" cy="527.5" r="0.9"/><circle cx="113.4" cy="543.7" r="0.9"/><circle cx="113.0" cy="541.2" r="0.9"/><circle cx="110.8" cy="541.2" r="0.9"/><circle cx="112.4" cy="547.5" r="0.9"/><circle cx="112.3" cy="532.5" r="0.9"/><circle cx="111.9" cy="545.7" r="0.9"/><circle cx="112.3" cy="529.4" r="0.9"/><circle cx="112.6" cy="528.2" r="0.9"/><circle cx="111.7" cy="521.7" r="0.9"/><circle cx="111.4" cy="528.6" r="0.9"/><circle cx="112.0" cy="529.5" r="0.9"/><circle cx="112.4" cy="527.7" r="0.9"/><circle cx="113.1" cy="541.8" r="0.9"/><circle cx="112.1" cy="527.7" r="0.9"/><circle cx="111.0" cy="545.2" r="0.9"/><circle cx="112.6" cy="550.2" r="0.9"/><circle cx="112.7" cy="521.0" r="0.9"/><circle cx="113.3" cy="546.4" r="0.9"/><circle cx="113.5" cy="542.8" r="0.9"/><circle cx="113.0" cy="538.6" r="0.9"/><circle cx="111.4" cy="542.7" r="0.9"/><circle cx="112.1" cy="521.0" r="0.9"/><circle cx="111.8" cy="518.7" r="0.9"/><circle cx="111.2" cy="527.8" r="0.9"/><circle cx="113.4" cy="535.5" r="0.9"/><circle cx="111.3" cy="548.4" r="0.9"/><circle cx="112.1" cy="521.6" r="0.9"/><circle cx="112.7" cy="524.9" r="0.9"/><circle cx="113.1" cy="547.1" r="0.9"/><circle cx="112.5" cy="542.0" r="0.9"/><circle cx="111.4" cy="545.4" r="0.9"/><circle cx="111.8" cy="551.5" r="0.9"/><circle cx="111.7" cy="522.1" r="0.9"/><circle cx="112.5" cy="522.5" r="0.9"/><circle cx="113.6" cy="543.8" r="0.9"/><circle cx="111.6" cy="547.4" r="0.9"/><circle cx="110.8" cy="540.5" r="0.9"/><circle cx="112.1" cy="525.3" r="0.9"/><circle cx="111.8" cy="519.2" r="0.9"/><circle cx="111.4" cy="524.5" r="0.9"/><circle cx="111.8" cy="531.3" r="0.9"/><circle cx="112.4" cy="543.5" r="0.9"/><circle cx="112.0" cy="543.2" r="0.9"/><circle cx="111.2" cy="542.4" r="0.9"/><circle cx="112.5" cy="536.3" r="0.9"/><circle cx="111.9" cy="550.3" r="0.9"/><circle cx="112.5" cy="533.5" r="0.9"/><circle cx="112.3" cy="526.5" r="0.9"/><circle cx="112.8" cy="545.9" r="0.9"/><circle cx="110.7" cy="543.7" r="0.9"/><circle cx="111.6" cy="527.2" r="0.9"/><circle cx="110.4" cy="541.5" r="0.9"/><circle cx="111.1" cy="547.0" r="0.9"/><circle cx="112.1" cy="543.2" r="0.9"/><circle cx="111.3" cy="548.0" r="0.9"/><circle cx="111.0" cy="532.4" r="0.9"/><circle cx="112.6" cy="550.5" r="0.9"/><circle cx="113.0" cy="540.7" r="0.9"/><circle cx="112.0" cy="546.1" r="0.9"/><circle cx="111.4" cy="534.4" r="0.9"/><circle cx="113.0" cy="539.3" r="0.9"/><circle cx="112.6" cy="548.5" r="0.9"/><circle cx="111.9" cy="543.9" r="0.9"/><circle cx="111.5" cy="549.5" r="0.9"/></g>
<line x1="98.9" y1="542.5" x2="108.0" y2="542.5" stroke="#1a1a1a" stroke-width="1.0"/>
<line x1="108.0" y1="540.5" x2="117.1" y2="540.5" stroke="#1a1a1a" stroke-width="1.0"/>
<text transform="translate(109.3,584) rotate(-45)" font-size="6.9" text-anchor="end" fill="#2a2a2a" stroke="#2a2a2a" stroke-width="0.1">MPP3</text>
<line x1="129.5" y1="576.2" x2="129.5" y2="579.0" stroke="#2a2a2a" stroke-width="0.9"/>
<g fill="#1a4576"><circle cx="124.5" cy="562.1" r="0.9"/><circle cx="124.9" cy="539.8" r="0.9"/><circle cx="126.7" cy="557.4" r="0.9"/><circle cx="125.8" cy="541.8" r="0.9"/><circle cx="126.4" cy="548.3" r="0.9"/><circle cx="125.6" cy="562.0" r="0.9"/><circle cx="125.7" cy="538.3" r="0.9"/><circle cx="125.0" cy="562.7" r="0.9"/><circle cx="124.7" cy="563.0" r="0.9"/><circle cx="123.7" cy="557.1" r="0.9"/><circle cx="124.5" cy="539.3" r="0.9"/><circle cx="124.6" cy="555.8" r="0.9"/><circle cx="123.6" cy="551.4" r="0.9"/><circle cx="125.7" cy="562.7" r="0.9"/><circle cx="125.4" cy="541.9" r="0.9"/><circle cx="126.2" cy="558.9" r="0.9"/><circle cx="125.7" cy="539.6" r="0.9"/><circle cx="124.4" cy="565.1" r="0.9"/><circle cx="123.7" cy="550.3" r="0.9"/><circle cx="125.5" cy="564.4" r="0.9"/><circle cx="124.7" cy="564.1" r="0.9"/><circle cx="126.1" cy="552.2" r="0.9"/><circle cx="125.0" cy="550.3" r="0.9"/><circle cx="124.4" cy="553.7" r="0.9"/><circle cx="124.9" cy="542.2" r="0.9"/><circle cx="125.9" cy="565.6" r="0.9"/><circle cx="125.0" cy="543.7" r="0.9"/><circle cx="124.7" cy="559.8" r="0.9"/><circle cx="124.5" cy="562.8" r="0.9"/><circle cx="125.6" cy="540.0" r="0.9"/><circle cx="124.2" cy="550.9" r="0.9"/><circle cx="124.1" cy="563.4" r="0.9"/><circle cx="125.9" cy="545.7" r="0.9"/><circle cx="124.7" cy="550.7" r="0.9"/><circle cx="125.8" cy="540.5" r="0.9"/><circle cx="125.8" cy="549.0" r="0.9"/><circle cx="125.5" cy="545.5" r="0.9"/><circle cx="125.9" cy="555.4" r="0.9"/><circle cx="124.9" cy="563.7" r="0.9"/><circle cx="126.2" cy="547.1" r="0.9"/><circle cx="123.4" cy="555.5" r="0.9"/><circle cx="126.5" cy="550.3" r="0.9"/><circle cx="126.1" cy="545.5" r="0.9"/><circle cx="125.3" cy="549.8" r="0.9"/><circle cx="125.5" cy="563.4" r="0.9"/><circle cx="124.2" cy="547.9" r="0.9"/><circle cx="125.7" cy="564.3" r="0.9"/><circle cx="126.1" cy="550.9" r="0.9"/><circle cx="125.1" cy="544.3" r="0.9"/><circle cx="124.8" cy="539.7" r="0.9"/><circle cx="126.3" cy="558.2" r="0.9"/><circle cx="124.3" cy="551.2" r="0.9"/><circle cx="124.1" cy="558.5" r="0.9"/><circle cx="126.6" cy="548.3" r="0.9"/><circle cx="126.0" cy="542.0" r="0.9"/><circle cx="126.9" cy="552.1" r="0.9"/><circle cx="125.1" cy="563.8" r="0.9"/></g>
<g fill="#ef9518"><circle cx="132.9" cy="555.2" r="0.9"/><circle cx="132.7" cy="547.1" r="0.9"/><circle cx="134.6" cy="558.8" r="0.9"/><circle cx="134.0" cy="560.5" r="0.9"/><circle cx="133.8" cy="554.2" r="0.9"/><circle cx="134.0" cy="564.4" r="0.9"/><circle cx="133.9" cy="561.7" r="0.9"/><circle cx="135.2" cy="555.8" r="0.9"/><circle cx="134.7" cy="564.9" r="0.9"/><circle cx="134.0" cy="563.4" r="0.9"/><circle cx="133.0" cy="557.3" r="0.9"/><circle cx="134.6" cy="559.1" r="0.9"/><circle cx="133.9" cy="540.1" r="0.9"/><circle cx="133.9" cy="559.7" r="0.9"/><circle cx="133.5" cy="563.3" r="0.9"/><circle cx="133.9" cy="563.0" r="0.9"/><circle cx="133.0" cy="560.3" r="0.9"/><circle cx="134.7" cy="541.4" r="0.9"/><circle cx="133.6" cy="567.6" r="0.9"/><circle cx="134.6" cy="561.7" r="0.9"/><circle cx="134.9" cy="560.7" r="0.9"/><circle cx="135.1" cy="541.8" r="0.9"/><circle cx="133.8" cy="555.4" r="0.9"/><circle cx="135.0" cy="538.0" r="0.9"/><circle cx="133.5" cy="544.5" r="0.9"/><circle cx="133.9" cy="543.8" r="0.9"/><circle cx="133.7" cy="559.1" r="0.9"/><circle cx="134.8" cy="546.1" r="0.9"/><circle cx="133.7" cy="567.6" r="0.9"/><circle cx="133.6" cy="537.4" r="0.9"/><circle cx="135.1" cy="553.9" r="0.9"/><circle cx="134.2" cy="540.0" r="0.9"/><circle cx="133.7" cy="555.7" r="0.9"/><circle cx="134.7" cy="562.8" r="0.9"/><circle cx="134.2" cy="542.7" r="0.9"/><circle cx="133.6" cy="553.9" r="0.9"/><circle cx="133.9" cy="536.6" r="0.9"/><circle cx="133.2" cy="546.3" r="0.9"/><circle cx="133.3" cy="551.3" r="0.9"/><circle cx="134.0" cy="546.4" r="0.9"/><circle cx="134.5" cy="559.3" r="0.9"/><circle cx="135.0" cy="558.1" r="0.9"/><circle cx="135.5" cy="552.5" r="0.9"/><circle cx="134.7" cy="537.6" r="0.9"/><circle cx="133.1" cy="540.0" r="0.9"/><circle cx="133.8" cy="567.7" r="0.9"/><circle cx="133.2" cy="549.0" r="0.9"/><circle cx="133.5" cy="537.7" r="0.9"/><circle cx="133.6" cy="567.0" r="0.9"/><circle cx="134.5" cy="566.8" r="0.9"/><circle cx="134.7" cy="563.2" r="0.9"/><circle cx="134.4" cy="536.8" r="0.9"/><circle cx="134.0" cy="561.0" r="0.9"/><circle cx="133.8" cy="566.7" r="0.9"/><circle cx="134.1" cy="546.6" r="0.9"/><circle cx="132.9" cy="549.9" r="0.9"/><circle cx="134.2" cy="542.3" r="0.9"/><circle cx="134.6" cy="536.4" r="0.9"/><circle cx="134.5" cy="559.9" r="0.9"/><circle cx="134.0" cy="536.7" r="0.9"/><circle cx="134.3" cy="534.9" r="0.9"/><circle cx="134.3" cy="540.0" r="0.9"/><circle cx="133.8" cy="563.5" r="0.9"/><circle cx="134.1" cy="568.2" r="0.9"/><circle cx="134.4" cy="535.9" r="0.9"/><circle cx="134.9" cy="540.1" r="0.9"/><circle cx="134.2" cy="544.4" r="0.9"/><circle cx="134.0" cy="537.8" r="0.9"/><circle cx="134.9" cy="559.2" r="0.9"/><circle cx="133.8" cy="556.9" r="0.9"/><circle cx="134.1" cy="542.1" r="0.9"/><circle cx="134.5" cy="568.1" r="0.9"/><circle cx="133.5" cy="545.0" r="0.9"/><circle cx="134.7" cy="561.9" r="0.9"/><circle cx="135.4" cy="552.2" r="0.9"/><circle cx="133.6" cy="541.4" r="0.9"/><circle cx="135.6" cy="551.0" r="0.9"/><circle cx="134.7" cy="562.3" r="0.9"/><circle cx="134.3" cy="567.1" r="0.9"/><circle cx="134.3" cy="562.6" r="0.9"/></g>
<line x1="120.9" y1="554.5" x2="130.0" y2="554.5" stroke="#1a1a1a" stroke-width="1.0"/>
<line x1="130.0" y1="551.5" x2="139.1" y2="551.5" stroke="#1a1a1a" stroke-width="1.0"/>
<text transform="translate(131.3,584) rotate(-45)" font-size="6.9" text-anchor="end" fill="#2a2a2a" stroke="#2a2a2a" stroke-width="0.1">MPP4</text>
<line x1="151.5" y1="576.2" x2="151.5" y2="579.0" stroke="#2a2a2a" stroke-width="0.9"/>
<g fill="#1a4576"><circle cx="147.5" cy="530.1" r="0.9"/><circle cx="145.9" cy="549.8" r="0.9"/><circle cx="148.1" cy="540.3" r="0.9"/><circle cx="146.9" cy="554.2" r="0.9"/><circle cx="147.4" cy="553.4" r="0.9"/><circle cx="147.0" cy="538.7" r="0.9"/><circle cx="147.6" cy="537.4" r="0.9"/><circle cx="147.3" cy="525.2" r="0.9"/><circle cx="148.4" cy="543.7" r="0.9"/><circle cx="147.0" cy="551.0" r="0.9"/><circle cx="147.6" cy="544.4" r="0.9"/><circle cx="147.1" cy="554.4" r="0.9"/><circle cx="147.6" cy="535.4" r="0.9"/><circle cx="145.7" cy="539.6" r="0.9"/><circle cx="145.7" cy="544.9" r="0.9"/><circle cx="147.7" cy="524.6" r="0.9"/><circle cx="148.0" cy="541.5" r="0.9"/><circle cx="146.1" cy="547.6" r="0.9"/><circle cx="148.0" cy="545.5" r="0.9"/><circle cx="146.2" cy="553.7" r="0.9"/><circle cx="147.1" cy="551.5" r="0.9"/><circle cx="147.9" cy="525.3" r="0.9"/><circle cx="146.5" cy="529.4" r="0.9"/><circle cx="146.0" cy="551.7" r="0.9"/><circle cx="146.1" cy="548.4" r="0.9"/><circle cx="146.6" cy="526.6" r="0.9"/><circle cx="147.0" cy="548.9" r="0.9"/><circle cx="147.7" cy="530.2" r="0.9"/><circle cx="147.6" cy="548.9" r="0.9"/><circle cx="147.9" cy="535.3" r="0.9"/><circle cx="147.4" cy="554.5" r="0.9"/><circle cx="148.5" cy="537.9" r="0.9"/><circle cx="146.7" cy="552.2" r="0.9"/><circle cx="148.2" cy="551.3" r="0.9"/><circle cx="147.1" cy="531.6" r="0.9"/><circle cx="147.5" cy="526.1" r="0.9"/><circle cx="148.1" cy="551.3" r="0.9"/><circle cx="146.5" cy="538.1" r="0.9"/><circle cx="148.2" cy="549.5" r="0.9"/><circle cx="147.7" cy="526.1" r="0.9"/><circle cx="147.4" cy="553.3" r="0.9"/><circle cx="148.3" cy="548.0" r="0.9"/><circle cx="146.8" cy="552.1" r="0.9"/><circle cx="148.3" cy="545.9" r="0.9"/><circle cx="148.8" cy="547.2" r="0.9"/><circle cx="147.8" cy="547.6" r="0.9"/><circle cx="146.6" cy="534.4" r="0.9"/><circle cx="147.1" cy="552.7" r="0.9"/><circle cx="148.2" cy="545.9" r="0.9"/><circle cx="148.6" cy="547.5" r="0.9"/><circle cx="147.1" cy="553.9" r="0.9"/><circle cx="146.6" cy="531.9" r="0.9"/><circle cx="146.7" cy="547.0" r="0.9"/><circle cx="147.2" cy="532.4" r="0.9"/><circle cx="148.9" cy="541.1" r="0.9"/><circle cx="147.5" cy="536.2" r="0.9"/><circle cx="147.3" cy="528.0" r="0.9"/><circle cx="145.6" cy="548.7" r="0.9"/><circle cx="148.6" cy="545.3" r="0.9"/><circle cx="146.5" cy="550.1" r="0.9"/><circle cx="147.8" cy="528.2" r="0.9"/><circle cx="148.4" cy="552.8" r="0.9"/></g>
<g fill="#ef9518"><circle cx="155.2" cy="535.6" r="0.9"/><circle cx="154.7" cy="536.8" r="0.9"/><circle cx="156.0" cy="553.7" r="0.9"/><circle cx="155.6" cy="561.9" r="0.9"/><circle cx="155.2" cy="530.0" r="0.9"/><circle cx="156.2" cy="524.6" r="0.9"/><circle cx="156.4" cy="555.5" r="0.9"/><circle cx="155.2" cy="533.3" r="0.9"/><circle cx="155.7" cy="562.3" r="0.9"/><circle cx="155.6" cy="539.4" r="0.9"/><circle cx="156.5" cy="561.0" r="0.9"/><circle cx="156.8" cy="541.7" r="0.9"/><circle cx="155.3" cy="555.6" r="0.9"/><circle cx="157.5" cy="544.3" r="0.9"/><circle cx="156.3" cy="528.8" r="0.9"/><circle cx="155.7" cy="527.6" r="0.9"/><circle cx="156.0" cy="535.5" r="0.9"/><circle cx="155.0" cy="537.0" r="0.9"/><circle cx="156.6" cy="528.8" r="0.9"/><circle cx="157.4" cy="536.6" r="0.9"/><circle cx="157.2" cy="546.1" r="0.9"/><circle cx="156.0" cy="525.6" r="0.9"/><circle cx="157.2" cy="543.1" r="0.9"/><circle cx="155.7" cy="529.6" r="0.9"/><circle cx="156.4" cy="526.6" r="0.9"/><circle cx="154.7" cy="537.5" r="0.9"/><circle cx="155.5" cy="557.1" r="0.9"/><circle cx="155.9" cy="525.9" r="0.9"/><circle cx="157.2" cy="537.2" r="0.9"/><circle cx="156.1" cy="534.2" r="0.9"/><circle cx="155.1" cy="548.4" r="0.9"/><circle cx="156.8" cy="524.3" r="0.9"/><circle cx="156.0" cy="529.0" r="0.9"/><circle cx="155.2" cy="535.0" r="0.9"/><circle cx="157.3" cy="549.4" r="0.9"/><circle cx="155.7" cy="525.1" r="0.9"/><circle cx="156.5" cy="525.5" r="0.9"/><circle cx="154.8" cy="547.8" r="0.9"/><circle cx="155.4" cy="526.9" r="0.9"/><circle cx="156.2" cy="540.4" r="0.9"/><circle cx="157.4" cy="536.7" r="0.9"/><circle cx="155.0" cy="546.1" r="0.9"/><circle cx="156.7" cy="545.2" r="0.9"/><circle cx="154.8" cy="536.5" r="0.9"/><circle cx="155.6" cy="529.9" r="0.9"/><circle cx="156.7" cy="545.8" r="0.9"/><circle cx="155.7" cy="559.1" r="0.9"/><circle cx="155.8" cy="542.3" r="0.9"/><circle cx="156.8" cy="528.1" r="0.9"/><circle cx="157.0" cy="548.8" r="0.9"/><circle cx="157.2" cy="531.7" r="0.9"/><circle cx="155.6" cy="552.0" r="0.9"/><circle cx="155.7" cy="545.3" r="0.9"/><circle cx="156.4" cy="537.1" r="0.9"/><circle cx="155.9" cy="540.5" r="0.9"/><circle cx="156.6" cy="531.3" r="0.9"/><circle cx="155.9" cy="559.2" r="0.9"/><circle cx="156.6" cy="528.3" r="0.9"/><circle cx="157.6" cy="542.1" r="0.9"/><circle cx="156.2" cy="552.4" r="0.9"/><circle cx="157.3" cy="531.0" r="0.9"/><circle cx="154.9" cy="536.1" r="0.9"/><circle cx="154.8" cy="546.8" r="0.9"/><circle cx="155.1" cy="543.1" r="0.9"/><circle cx="156.4" cy="540.9" r="0.9"/><circle cx="155.3" cy="553.0" r="0.9"/><circle cx="155.5" cy="560.3" r="0.9"/><circle cx="156.1" cy="537.8" r="0.9"/><circle cx="155.8" cy="535.1" r="0.9"/><circle cx="157.2" cy="544.1" r="0.9"/><circle cx="156.9" cy="544.3" r="0.9"/><circle cx="157.4" cy="544.8" r="0.9"/><circle cx="157.0" cy="533.3" r="0.9"/><circle cx="157.2" cy="531.2" r="0.9"/><circle cx="155.6" cy="527.3" r="0.9"/><circle cx="157.5" cy="534.2" r="0.9"/><circle cx="156.5" cy="559.0" r="0.9"/><circle cx="156.1" cy="526.3" r="0.9"/><circle cx="155.8" cy="562.1" r="0.9"/><circle cx="155.8" cy="550.7" r="0.9"/><circle cx="155.9" cy="531.1" r="0.9"/><circle cx="155.2" cy="531.5" r="0.9"/><circle cx="156.7" cy="562.4" r="0.9"/><circle cx="156.8" cy="555.3" r="0.9"/><circle cx="156.4" cy="525.7" r="0.9"/><circle cx="155.5" cy="547.2" r="0.9"/><circle cx="156.3" cy="553.4" r="0.9"/><circle cx="155.9" cy="546.8" r="0.9"/><circle cx="155.8" cy="524.7" r="0.9"/><circle cx="156.3" cy="529.3" r="0.9"/></g>
<line x1="142.9" y1="544.5" x2="152.0" y2="544.5" stroke="#1a1a1a" stroke-width="1.0"/>
<line x1="152.0" y1="540.5" x2="161.1" y2="540.5" stroke="#1a1a1a" stroke-width="1.0"/>
<text transform="translate(153.3,584) rotate(-45)" font-size="6.9" text-anchor="end" fill="#2a2a2a" stroke="#2a2a2a" stroke-width="0.1">CMP</text>
<line x1="173.5" y1="576.2" x2="173.5" y2="579.0" stroke="#2a2a2a" stroke-width="0.9"/>
<g fill="#1a4576"><circle cx="168.9" cy="552.7" r="0.9"/><circle cx="168.3" cy="544.0" r="0.9"/><circle cx="168.4" cy="532.3" r="0.9"/><circle cx="168.4" cy="528.3" r="0.9"/><circle cx="170.4" cy="536.5" r="0.9"/><circle cx="169.5" cy="546.6" r="0.9"/><circle cx="169.1" cy="538.9" r="0.9"/><circle cx="169.1" cy="545.5" r="0.9"/><circle cx="168.3" cy="529.6" r="0.9"/><circle cx="169.4" cy="526.8" r="0.9"/><circle cx="170.6" cy="534.1" r="0.9"/><circle cx="169.2" cy="539.7" r="0.9"/><circle cx="168.6" cy="540.6" r="0.9"/><circle cx="168.2" cy="523.5" r="0.9"/><circle cx="168.3" cy="522.2" r="0.9"/><circle cx="169.9" cy="528.5" r="0.9"/><circle cx="170.9" cy="532.5" r="0.9"/><circle cx="168.8" cy="523.9" r="0.9"/><circle cx="169.5" cy="541.9" r="0.9"/><circle cx="169.2" cy="550.9" r="0.9"/><circle cx="169.6" cy="548.9" r="0.9"/><circle cx="169.7" cy="544.2" r="0.9"/><circle cx="169.9" cy="521.7" r="0.9"/><circle cx="169.5" cy="534.5" r="0.9"/><circle cx="169.4" cy="544.6" r="0.9"/><circle cx="170.2" cy="543.1" r="0.9"/><circle cx="169.1" cy="525.6" r="0.9"/><circle cx="168.7" cy="543.9" r="0.9"/><circle cx="168.9" cy="542.6" r="0.9"/><circle cx="170.2" cy="541.3" r="0.9"/><circle cx="168.3" cy="527.0" r="0.9"/><circle cx="169.4" cy="529.7" r="0.9"/><circle cx="170.3" cy="525.9" r="0.9"/><circle cx="170.2" cy="541.3" r="0.9"/><circle cx="169.1" cy="521.1" r="0.9"/><circle cx="168.3" cy="521.7" r="0.9"/><circle cx="170.3" cy="526.1" r="0.9"/><circle cx="170.0" cy="549.6" r="0.9"/><circle cx="169.6" cy="545.0" r="0.9"/><circle cx="169.5" cy="528.5" r="0.9"/><circle cx="169.7" cy="541.8" r="0.9"/><circle cx="168.9" cy="526.7" r="0.9"/><circle cx="169.4" cy="542.8" r="0.9"/><circle cx="169.2" cy="551.4" r="0.9"/><circle cx="170.5" cy="543.5" r="0.9"/><circle cx="170.1" cy="541.7" r="0.9"/><circle cx="170.9" cy="531.6" r="0.9"/><circle cx="168.6" cy="550.5" r="0.9"/><circle cx="169.6" cy="551.7" r="0.9"/><circle cx="169.1" cy="553.3" r="0.9"/><circle cx="169.2" cy="531.8" r="0.9"/><circle cx="168.3" cy="526.9" r="0.9"/><circle cx="168.9" cy="547.0" r="0.9"/><circle cx="168.6" cy="553.4" r="0.9"/><circle cx="168.7" cy="543.0" r="0.9"/><circle cx="168.7" cy="524.5" r="0.9"/><circle cx="169.4" cy="550.8" r="0.9"/><circle cx="169.4" cy="531.2" r="0.9"/><circle cx="169.3" cy="540.2" r="0.9"/><circle cx="169.1" cy="553.5" r="0.9"/><circle cx="170.2" cy="532.3" r="0.9"/><circle cx="168.0" cy="532.6" r="0.9"/><circle cx="169.5" cy="545.0" r="0.9"/><circle cx="168.1" cy="523.0" r="0.9"/><circle cx="169.7" cy="523.5" r="0.9"/></g>
<g fill="#ef9518"><circle cx="177.4" cy="526.9" r="0.9"/><circle cx="178.4" cy="535.1" r="0.9"/><circle cx="177.8" cy="527.0" r="0.9"/><circle cx="178.4" cy="534.1" r="0.9"/><circle cx="178.3" cy="518.5" r="0.9"/><circle cx="179.4" cy="528.5" r="0.9"/><circle cx="178.8" cy="519.9" r="0.9"/><circle cx="178.3" cy="520.5" r="0.9"/><circle cx="178.8" cy="518.5" r="0.9"/><circle cx="178.8" cy="528.6" r="0.9"/><circle cx="179.3" cy="528.9" r="0.9"/><circle cx="177.5" cy="542.6" r="0.9"/><circle cx="177.1" cy="529.7" r="0.9"/><circle cx="178.2" cy="518.4" r="0.9"/><circle cx="177.7" cy="535.4" r="0.9"/><circle cx="177.1" cy="526.2" r="0.9"/><circle cx="177.6" cy="520.3" r="0.9"/><circle cx="177.3" cy="529.4" r="0.9"/><circle cx="177.5" cy="533.6" r="0.9"/><circle cx="176.8" cy="536.3" r="0.9"/><circle cx="177.1" cy="538.5" r="0.9"/><circle cx="178.8" cy="541.8" r="0.9"/><circle cx="178.8" cy="529.9" r="0.9"/><circle cx="177.4" cy="540.6" r="0.9"/><circle cx="177.8" cy="550.9" r="0.9"/><circle cx="178.6" cy="525.5" r="0.9"/><circle cx="178.3" cy="538.4" r="0.9"/><circle cx="178.4" cy="526.7" r="0.9"/><circle cx="177.0" cy="537.4" r="0.9"/><circle cx="177.6" cy="543.1" r="0.9"/><circle cx="178.4" cy="521.1" r="0.9"/><circle cx="177.8" cy="523.9" r="0.9"/><circle cx="179.3" cy="531.1" r="0.9"/><circle cx="177.1" cy="539.5" r="0.9"/><circle cx="178.1" cy="523.9" r="0.9"/><circle cx="177.5" cy="527.8" r="0.9"/><circle cx="178.8" cy="528.8" r="0.9"/><circle cx="179.3" cy="528.0" r="0.9"/><circle cx="178.6" cy="547.8" r="0.9"/><circle cx="176.6" cy="530.3" r="0.9"/><circle cx="177.8" cy="546.1" r="0.9"/><circle cx="178.6" cy="541.3" r="0.9"/><circle cx="177.7" cy="538.1" r="0.9"/><circle cx="177.2" cy="523.0" r="0.9"/><circle cx="178.4" cy="550.2" r="0.9"/><circle cx="176.9" cy="531.9" r="0.9"/><circle cx="177.7" cy="529.3" r="0.9"/><circle cx="178.6" cy="531.9" r="0.9"/><circle cx="178.3" cy="536.8" r="0.9"/><circle cx="178.0" cy="521.8" r="0.9"/><circle cx="177.0" cy="522.3" r="0.9"/><circle cx="177.8" cy="548.8" r="0.9"/><circle cx="178.5" cy="533.8" r="0.9"/><circle cx="176.8" cy="531.8" r="0.9"/><circle cx="178.9" cy="520.8" r="0.9"/><circle cx="178.5" cy="521.4" r="0.9"/><circle cx="178.9" cy="540.9" r="0.9"/><circle cx="179.4" cy="528.0" r="0.9"/><circle cx="178.6" cy="541.5" r="0.9"/><circle cx="178.3" cy="547.2" r="0.9"/><circle cx="178.6" cy="525.5" r="0.9"/><circle cx="179.1" cy="541.6" r="0.9"/><circle cx="176.6" cy="535.7" r="0.9"/><circle cx="177.7" cy="546.5" r="0.9"/><circle cx="178.4" cy="543.7" r="0.9"/><circle cx="177.0" cy="524.2" r="0.9"/><circle cx="177.3" cy="526.9" r="0.9"/><circle cx="178.7" cy="527.6" r="0.9"/><circle cx="177.5" cy="522.4" r="0.9"/><circle cx="179.2" cy="524.6" r="0.9"/><circle cx="179.2" cy="527.0" r="0.9"/><circle cx="177.6" cy="536.0" r="0.9"/><circle cx="178.5" cy="548.5" r="0.9"/><circle cx="178.4" cy="536.5" r="0.9"/><circle cx="178.9" cy="542.2" r="0.9"/><circle cx="177.6" cy="530.6" r="0.9"/><circle cx="177.4" cy="529.1" r="0.9"/><circle cx="177.9" cy="537.1" r="0.9"/><circle cx="178.0" cy="530.6" r="0.9"/></g>
<line x1="164.9" y1="534.5" x2="174.0" y2="534.5" stroke="#1a1a1a" stroke-width="1.0"/>
<line x1="174.0" y1="532.5" x2="183.1" y2="532.5" stroke="#1a1a1a" stroke-width="1.0"/>
<text transform="translate(175.3,584) rotate(-45)" font-size="6.9" text-anchor="end" fill="#2a2a2a" stroke="#2a2a2a" stroke-width="0.1">GMP</text>
<line x1="195.5" y1="576.2" x2="195.5" y2="579.0" stroke="#2a2a2a" stroke-width="0.9"/>
<g fill="#1a4576"><circle cx="189.9" cy="518.2" r="0.9"/><circle cx="192.2" cy="522.5" r="0.9"/><circle cx="193.0" cy="523.4" r="0.9"/><circle cx="191.2" cy="516.2" r="0.9"/><circle cx="191.3" cy="517.4" r="0.9"/><circle cx="191.8" cy="522.4" r="0.9"/><circle cx="191.5" cy="529.1" r="0.9"/><circle cx="190.0" cy="519.3" r="0.9"/><circle cx="192.5" cy="522.7" r="0.9"/><circle cx="191.6" cy="518.9" r="0.9"/><circle cx="190.6" cy="531.2" r="0.9"/><circle cx="191.7" cy="530.7" r="0.9"/><circle cx="192.2" cy="518.5" r="0.9"/><circle cx="191.4" cy="518.6" r="0.9"/><circle cx="190.4" cy="526.5" r="0.9"/><circle cx="191.7" cy="522.9" r="0.9"/><circle cx="191.9" cy="531.0" r="0.9"/><circle cx="191.2" cy="512.5" r="0.9"/><circle cx="191.5" cy="520.3" r="0.9"/><circle cx="189.9" cy="523.4" r="0.9"/><circle cx="190.1" cy="527.3" r="0.9"/><circle cx="190.0" cy="521.7" r="0.9"/><circle cx="191.9" cy="514.6" r="0.9"/><circle cx="191.1" cy="531.3" r="0.9"/><circle cx="191.2" cy="525.6" r="0.9"/><circle cx="191.0" cy="517.6" r="0.9"/><circle cx="192.1" cy="529.5" r="0.9"/><circle cx="191.0" cy="520.3" r="0.9"/><circle cx="190.5" cy="516.2" r="0.9"/><circle cx="191.1" cy="521.2" r="0.9"/><circle cx="191.7" cy="532.4" r="0.9"/><circle cx="191.4" cy="532.5" r="0.9"/><circle cx="191.5" cy="513.8" r="0.9"/><circle cx="191.4" cy="515.7" r="0.9"/><circle cx="191.4" cy="512.4" r="0.9"/><circle cx="192.4" cy="518.8" r="0.9"/><circle cx="191.9" cy="521.9" r="0.9"/><circle cx="191.6" cy="517.3" r="0.9"/><circle cx="191.0" cy="526.6" r="0.9"/><circle cx="190.9" cy="528.2" r="0.9"/><circle cx="192.6" cy="520.8" r="0.9"/><circle cx="192.1" cy="516.3" r="0.9"/><circle cx="191.3" cy="519.3" r="0.9"/><circle cx="191.4" cy="519.3" r="0.9"/><circle cx="189.9" cy="525.0" r="0.9"/></g>
<g fill="#ef9518"><circle cx="198.9" cy="527.1" r="0.9"/><circle cx="200.0" cy="506.6" r="0.9"/><circle cx="200.6" cy="531.7" r="0.9"/><circle cx="200.7" cy="496.9" r="0.9"/><circle cx="200.5" cy="497.9" r="0.9"/><circle cx="201.1" cy="507.0" r="0.9"/><circle cx="199.1" cy="527.8" r="0.9"/><circle cx="199.8" cy="496.4" r="0.9"/><circle cx="200.3" cy="507.6" r="0.9"/><circle cx="200.7" cy="512.3" r="0.9"/><circle cx="200.5" cy="525.9" r="0.9"/><circle cx="201.0" cy="531.8" r="0.9"/><circle cx="200.4" cy="493.9" r="0.9"/><circle cx="200.6" cy="524.8" r="0.9"/><circle cx="199.9" cy="495.1" r="0.9"/><circle cx="200.6" cy="530.1" r="0.9"/><circle cx="198.7" cy="520.3" r="0.9"/><circle cx="199.0" cy="527.6" r="0.9"/><circle cx="199.6" cy="532.5" r="0.9"/><circle cx="201.1" cy="512.9" r="0.9"/><circle cx="199.3" cy="501.7" r="0.9"/><circle cx="199.0" cy="521.4" r="0.9"/><circle cx="200.4" cy="502.4" r="0.9"/><circle cx="201.0" cy="507.3" r="0.9"/><circle cx="200.9" cy="527.5" r="0.9"/><circle cx="199.9" cy="491.8" r="0.9"/><circle cx="201.3" cy="522.0" r="0.9"/><circle cx="199.7" cy="495.8" r="0.9"/><circle cx="199.8" cy="531.1" r="0.9"/><circle cx="200.8" cy="504.6" r="0.9"/><circle cx="200.4" cy="525.5" r="0.9"/><circle cx="199.2" cy="516.7" r="0.9"/><circle cx="199.1" cy="532.1" r="0.9"/><circle cx="200.0" cy="513.6" r="0.9"/><circle cx="199.9" cy="501.8" r="0.9"/><circle cx="199.5" cy="519.6" r="0.9"/><circle cx="201.8" cy="518.6" r="0.9"/><circle cx="200.7" cy="517.7" r="0.9"/><circle cx="200.1" cy="510.5" r="0.9"/><circle cx="200.2" cy="523.7" r="0.9"/><circle cx="199.1" cy="532.9" r="0.9"/><circle cx="201.1" cy="527.8" r="0.9"/><circle cx="200.4" cy="530.5" r="0.9"/><circle cx="200.8" cy="507.9" r="0.9"/><circle cx="200.5" cy="531.8" r="0.9"/><circle cx="200.8" cy="524.3" r="0.9"/><circle cx="199.7" cy="527.1" r="0.9"/><circle cx="199.3" cy="502.5" r="0.9"/><circle cx="201.3" cy="508.6" r="0.9"/><circle cx="199.6" cy="504.5" r="0.9"/><circle cx="199.1" cy="511.6" r="0.9"/><circle cx="199.9" cy="519.7" r="0.9"/><circle cx="199.5" cy="526.2" r="0.9"/><circle cx="199.5" cy="513.6" r="0.9"/><circle cx="200.3" cy="524.3" r="0.9"/><circle cx="200.6" cy="492.1" r="0.9"/><circle cx="199.6" cy="501.6" r="0.9"/><circle cx="199.7" cy="528.0" r="0.9"/><circle cx="200.6" cy="496.5" r="0.9"/><circle cx="201.4" cy="516.9" r="0.9"/><circle cx="198.9" cy="510.4" r="0.9"/><circle cx="200.7" cy="513.8" r="0.9"/><circle cx="199.3" cy="512.1" r="0.9"/><circle cx="200.5" cy="528.3" r="0.9"/><circle cx="201.6" cy="522.7" r="0.9"/><circle cx="200.6" cy="501.2" r="0.9"/><circle cx="199.6" cy="493.8" r="0.9"/><circle cx="201.3" cy="522.6" r="0.9"/><circle cx="199.4" cy="528.8" r="0.9"/><circle cx="200.6" cy="524.6" r="0.9"/><circle cx="199.6" cy="525.7" r="0.9"/><circle cx="198.6" cy="517.3" r="0.9"/><circle cx="200.1" cy="500.5" r="0.9"/><circle cx="200.0" cy="501.2" r="0.9"/><circle cx="200.3" cy="519.8" r="0.9"/><circle cx="200.2" cy="490.8" r="0.9"/><circle cx="199.6" cy="497.8" r="0.9"/><circle cx="200.9" cy="514.0" r="0.9"/><circle cx="199.8" cy="521.1" r="0.9"/><circle cx="200.3" cy="527.5" r="0.9"/><circle cx="199.7" cy="529.0" r="0.9"/><circle cx="200.4" cy="497.4" r="0.9"/><circle cx="199.6" cy="530.4" r="0.9"/><circle cx="200.0" cy="530.5" r="0.9"/><circle cx="201.5" cy="523.9" r="0.9"/><circle cx="200.0" cy="514.8" r="0.9"/><circle cx="199.7" cy="529.0" r="0.9"/><circle cx="200.4" cy="490.8" r="0.9"/><circle cx="198.9" cy="516.2" r="0.9"/><circle cx="200.3" cy="520.6" r="0.9"/><circle cx="199.7" cy="522.5" r="0.9"/><circle cx="200.8" cy="514.3" r="0.9"/><circle cx="199.5" cy="492.6" r="0.9"/><circle cx="200.7" cy="496.4" r="0.9"/><circle cx="199.7" cy="526.9" r="0.9"/><circle cx="199.9" cy="495.8" r="0.9"/><circle cx="200.4" cy="493.0" r="0.9"/></g>
<line x1="186.9" y1="522.5" x2="196.0" y2="522.5" stroke="#1a1a1a" stroke-width="1.0"/>
<line x1="196.0" y1="519.5" x2="205.1" y2="519.5" stroke="#1a1a1a" stroke-width="1.0"/>
<text transform="translate(197.3,584) rotate(-45)" font-size="6.9" text-anchor="end" fill="#2a2a2a" stroke="#2a2a2a" stroke-width="0.1">Gran.</text>
<line x1="217.5" y1="576.2" x2="217.5" y2="579.0" stroke="#2a2a2a" stroke-width="0.9"/>
<g fill="#1a4576"><circle cx="212.8" cy="519.0" r="0.9"/><circle cx="213.3" cy="500.3" r="0.9"/><circle cx="214.4" cy="527.4" r="0.9"/><circle cx="212.6" cy="504.5" r="0.9"/><circle cx="212.3" cy="511.3" r="0.9"/><circle cx="213.7" cy="522.6" r="0.9"/><circle cx="212.3" cy="524.8" r="0.9"/><circle cx="214.1" cy="505.6" r="0.9"/><circle cx="213.7" cy="500.3" r="0.9"/><circle cx="212.9" cy="501.1" r="0.9"/><circle cx="212.4" cy="529.2" r="0.9"/><circle cx="213.1" cy="533.5" r="0.9"/><circle cx="212.5" cy="531.3" r="0.9"/><circle cx="213.7" cy="500.0" r="0.9"/><circle cx="213.9" cy="500.4" r="0.9"/><circle cx="212.4" cy="498.1" r="0.9"/><circle cx="211.4" cy="520.2" r="0.9"/><circle cx="213.6" cy="499.5" r="0.9"/><circle cx="213.9" cy="514.7" r="0.9"/><circle cx="214.8" cy="514.8" r="0.9"/><circle cx="214.1" cy="534.3" r="0.9"/><circle cx="214.3" cy="516.1" r="0.9"/><circle cx="213.2" cy="503.4" r="0.9"/><circle cx="211.9" cy="511.9" r="0.9"/><circle cx="212.5" cy="517.7" r="0.9"/><circle cx="213.2" cy="500.1" r="0.9"/><circle cx="212.0" cy="513.8" r="0.9"/><circle cx="213.8" cy="503.5" r="0.9"/><circle cx="212.8" cy="506.8" r="0.9"/><circle cx="212.8" cy="529.4" r="0.9"/><circle cx="214.5" cy="522.8" r="0.9"/><circle cx="212.5" cy="502.7" r="0.9"/><circle cx="211.7" cy="511.3" r="0.9"/><circle cx="213.4" cy="506.7" r="0.9"/><circle cx="213.8" cy="509.4" r="0.9"/><circle cx="213.3" cy="532.9" r="0.9"/><circle cx="213.9" cy="533.7" r="0.9"/><circle cx="212.8" cy="502.9" r="0.9"/><circle cx="212.9" cy="527.7" r="0.9"/><circle cx="212.1" cy="508.9" r="0.9"/><circle cx="213.4" cy="498.0" r="0.9"/><circle cx="213.4" cy="499.3" r="0.9"/><circle cx="212.3" cy="509.1" r="0.9"/><circle cx="214.2" cy="520.4" r="0.9"/><circle cx="213.6" cy="499.6" r="0.9"/><circle cx="213.3" cy="525.5" r="0.9"/><circle cx="211.7" cy="525.3" r="0.9"/><circle cx="213.2" cy="534.9" r="0.9"/><circle cx="212.6" cy="531.5" r="0.9"/><circle cx="212.9" cy="532.4" r="0.9"/><circle cx="213.3" cy="503.0" r="0.9"/><circle cx="212.8" cy="532.0" r="0.9"/><circle cx="212.6" cy="532.3" r="0.9"/><circle cx="214.2" cy="504.8" r="0.9"/><circle cx="213.3" cy="528.9" r="0.9"/><circle cx="212.2" cy="507.2" r="0.9"/><circle cx="213.2" cy="538.8" r="0.9"/><circle cx="212.6" cy="530.1" r="0.9"/><circle cx="213.1" cy="521.8" r="0.9"/><circle cx="214.0" cy="532.6" r="0.9"/><circle cx="213.0" cy="500.3" r="0.9"/><circle cx="212.6" cy="536.7" r="0.9"/><circle cx="211.8" cy="513.5" r="0.9"/><circle cx="213.3" cy="526.2" r="0.9"/><circle cx="212.9" cy="507.7" r="0.9"/><circle cx="213.1" cy="540.2" r="0.9"/><circle cx="213.9" cy="529.0" r="0.9"/><circle cx="212.7" cy="521.2" r="0.9"/><circle cx="212.9" cy="506.4" r="0.9"/><circle cx="211.7" cy="509.8" r="0.9"/><circle cx="211.7" cy="522.5" r="0.9"/><circle cx="212.4" cy="521.9" r="0.9"/><circle cx="214.3" cy="510.1" r="0.9"/><circle cx="214.5" cy="519.7" r="0.9"/><circle cx="214.2" cy="512.5" r="0.9"/><circle cx="212.1" cy="504.7" r="0.9"/><circle cx="213.8" cy="507.9" r="0.9"/><circle cx="213.7" cy="510.7" r="0.9"/><circle cx="213.0" cy="501.3" r="0.9"/><circle cx="212.5" cy="531.2" r="0.9"/><circle cx="213.0" cy="539.7" r="0.9"/></g>
<g fill="#ef9518"><circle cx="221.5" cy="495.9" r="0.9"/><circle cx="222.1" cy="493.6" r="0.9"/><circle cx="222.8" cy="520.4" r="0.9"/><circle cx="222.0" cy="514.7" r="0.9"/><circle cx="221.9" cy="520.0" r="0.9"/><circle cx="221.9" cy="520.2" r="0.9"/><circle cx="223.0" cy="520.4" r="0.9"/><circle cx="221.8" cy="522.3" r="0.9"/><circle cx="222.3" cy="514.9" r="0.9"/><circle cx="221.2" cy="523.4" r="0.9"/><circle cx="223.0" cy="507.5" r="0.9"/><circle cx="222.9" cy="510.9" r="0.9"/><circle cx="222.4" cy="498.4" r="0.9"/><circle cx="221.5" cy="494.7" r="0.9"/><circle cx="222.2" cy="495.2" r="0.9"/><circle cx="222.9" cy="525.8" r="0.9"/><circle cx="222.2" cy="509.6" r="0.9"/><circle cx="221.3" cy="514.4" r="0.9"/><circle cx="221.5" cy="506.3" r="0.9"/><circle cx="222.1" cy="524.3" r="0.9"/><circle cx="221.7" cy="502.1" r="0.9"/><circle cx="222.9" cy="524.4" r="0.9"/><circle cx="220.9" cy="506.5" r="0.9"/><circle cx="222.0" cy="499.1" r="0.9"/><circle cx="221.7" cy="520.3" r="0.9"/><circle cx="222.6" cy="492.5" r="0.9"/><circle cx="221.8" cy="498.6" r="0.9"/><circle cx="222.2" cy="499.2" r="0.9"/><circle cx="222.8" cy="504.7" r="0.9"/><circle cx="223.0" cy="518.1" r="0.9"/><circle cx="222.8" cy="497.7" r="0.9"/><circle cx="220.8" cy="519.8" r="0.9"/><circle cx="220.8" cy="519.7" r="0.9"/><circle cx="222.2" cy="491.0" r="0.9"/><circle cx="222.3" cy="516.8" r="0.9"/><circle cx="222.3" cy="492.5" r="0.9"/><circle cx="221.7" cy="495.6" r="0.9"/><circle cx="222.6" cy="491.6" r="0.9"/><circle cx="221.0" cy="507.9" r="0.9"/><circle cx="221.9" cy="523.5" r="0.9"/><circle cx="222.7" cy="496.0" r="0.9"/><circle cx="221.5" cy="495.4" r="0.9"/><circle cx="222.5" cy="495.1" r="0.9"/><circle cx="222.3" cy="505.5" r="0.9"/><circle cx="221.0" cy="518.4" r="0.9"/><circle cx="222.5" cy="489.8" r="0.9"/><circle cx="223.7" cy="516.4" r="0.9"/><circle cx="221.8" cy="502.9" r="0.9"/><circle cx="222.2" cy="496.5" r="0.9"/><circle cx="222.8" cy="511.1" r="0.9"/><circle cx="221.0" cy="519.7" r="0.9"/><circle cx="222.6" cy="491.8" r="0.9"/><circle cx="222.2" cy="525.8" r="0.9"/><circle cx="222.7" cy="505.5" r="0.9"/><circle cx="220.9" cy="520.4" r="0.9"/><circle cx="222.4" cy="520.3" r="0.9"/><circle cx="221.5" cy="499.0" r="0.9"/><circle cx="223.2" cy="517.9" r="0.9"/><circle cx="220.6" cy="517.3" r="0.9"/><circle cx="221.7" cy="521.5" r="0.9"/><circle cx="221.1" cy="525.2" r="0.9"/><circle cx="221.5" cy="504.4" r="0.9"/><circle cx="222.5" cy="494.0" r="0.9"/><circle cx="222.2" cy="505.3" r="0.9"/><circle cx="223.1" cy="515.7" r="0.9"/><circle cx="221.4" cy="497.6" r="0.9"/><circle cx="222.4" cy="499.7" r="0.9"/><circle cx="221.6" cy="516.2" r="0.9"/><circle cx="221.1" cy="519.1" r="0.9"/><circle cx="221.5" cy="516.6" r="0.9"/><circle cx="222.1" cy="524.2" r="0.9"/><circle cx="223.2" cy="509.5" r="0.9"/><circle cx="222.2" cy="510.4" r="0.9"/><circle cx="221.1" cy="510.4" r="0.9"/><circle cx="221.7" cy="520.9" r="0.9"/><circle cx="221.3" cy="508.1" r="0.9"/><circle cx="223.2" cy="510.1" r="0.9"/><circle cx="220.7" cy="520.5" r="0.9"/><circle cx="222.5" cy="489.1" r="0.9"/><circle cx="221.4" cy="521.2" r="0.9"/><circle cx="221.8" cy="493.8" r="0.9"/><circle cx="222.2" cy="513.1" r="0.9"/><circle cx="220.8" cy="518.1" r="0.9"/><circle cx="222.3" cy="498.0" r="0.9"/><circle cx="221.0" cy="523.5" r="0.9"/><circle cx="223.6" cy="517.6" r="0.9"/><circle cx="222.8" cy="515.0" r="0.9"/><circle cx="222.5" cy="492.2" r="0.9"/></g>
<line x1="208.9" y1="517.5" x2="218.0" y2="517.5" stroke="#1a1a1a" stroke-width="1.0"/>
<line x1="218.0" y1="514.5" x2="227.1" y2="514.5" stroke="#1a1a1a" stroke-width="1.0"/>
<text transform="translate(219.3,584) rotate(-45)" font-size="6.9" text-anchor="end" fill="#2a2a2a" stroke="#2a2a2a" stroke-width="0.1">Mono.</text>
<line x1="239.5" y1="576.2" x2="239.5" y2="579.0" stroke="#2a2a2a" stroke-width="0.9"/>
<g fill="#1a4576"><circle cx="233.8" cy="547.9" r="0.9"/><circle cx="235.1" cy="521.6" r="0.9"/><circle cx="236.1" cy="537.5" r="0.9"/><circle cx="234.9" cy="526.2" r="0.9"/><circle cx="234.2" cy="536.4" r="0.9"/><circle cx="236.7" cy="545.7" r="0.9"/><circle cx="235.2" cy="524.2" r="0.9"/><circle cx="235.7" cy="552.9" r="0.9"/><circle cx="235.5" cy="526.9" r="0.9"/><circle cx="234.4" cy="553.9" r="0.9"/><circle cx="234.5" cy="525.5" r="0.9"/><circle cx="235.6" cy="555.7" r="0.9"/><circle cx="236.8" cy="542.3" r="0.9"/><circle cx="235.8" cy="554.8" r="0.9"/><circle cx="235.1" cy="553.2" r="0.9"/><circle cx="235.9" cy="553.6" r="0.9"/><circle cx="235.3" cy="545.2" r="0.9"/><circle cx="235.9" cy="521.5" r="0.9"/><circle cx="235.8" cy="524.3" r="0.9"/><circle cx="235.1" cy="534.5" r="0.9"/><circle cx="236.5" cy="534.4" r="0.9"/><circle cx="235.0" cy="551.4" r="0.9"/><circle cx="235.6" cy="552.9" r="0.9"/><circle cx="235.0" cy="555.3" r="0.9"/><circle cx="236.5" cy="541.4" r="0.9"/><circle cx="236.2" cy="545.9" r="0.9"/><circle cx="235.2" cy="524.2" r="0.9"/><circle cx="236.4" cy="539.1" r="0.9"/><circle cx="235.1" cy="547.2" r="0.9"/><circle cx="234.8" cy="532.5" r="0.9"/><circle cx="234.8" cy="553.9" r="0.9"/><circle cx="235.9" cy="537.5" r="0.9"/><circle cx="236.1" cy="547.6" r="0.9"/><circle cx="233.5" cy="542.1" r="0.9"/><circle cx="234.8" cy="523.7" r="0.9"/><circle cx="234.8" cy="521.3" r="0.9"/><circle cx="235.9" cy="554.5" r="0.9"/><circle cx="236.5" cy="531.4" r="0.9"/><circle cx="234.4" cy="548.6" r="0.9"/><circle cx="235.2" cy="523.5" r="0.9"/><circle cx="237.0" cy="539.6" r="0.9"/><circle cx="234.5" cy="547.8" r="0.9"/><circle cx="235.4" cy="532.2" r="0.9"/><circle cx="235.0" cy="554.1" r="0.9"/><circle cx="235.5" cy="555.1" r="0.9"/><circle cx="235.0" cy="541.2" r="0.9"/><circle cx="235.4" cy="521.3" r="0.9"/><circle cx="235.2" cy="527.0" r="0.9"/><circle cx="235.2" cy="551.3" r="0.9"/><circle cx="233.9" cy="546.3" r="0.9"/><circle cx="235.3" cy="553.7" r="0.9"/><circle cx="236.3" cy="547.7" r="0.9"/><circle cx="234.2" cy="552.1" r="0.9"/><circle cx="236.6" cy="532.7" r="0.9"/><circle cx="235.3" cy="522.5" r="0.9"/><circle cx="235.0" cy="528.0" r="0.9"/><circle cx="234.7" cy="552.4" r="0.9"/><circle cx="235.3" cy="524.7" r="0.9"/><circle cx="235.6" cy="547.2" r="0.9"/><circle cx="235.0" cy="553.3" r="0.9"/><circle cx="235.5" cy="555.6" r="0.9"/><circle cx="235.4" cy="533.6" r="0.9"/><circle cx="234.9" cy="553.6" r="0.9"/><circle cx="236.6" cy="542.4" r="0.9"/><circle cx="234.0" cy="542.8" r="0.9"/><circle cx="234.6" cy="532.9" r="0.9"/><circle cx="236.6" cy="546.6" r="0.9"/><circle cx="236.7" cy="535.4" r="0.9"/><circle cx="235.0" cy="535.2" r="0.9"/><circle cx="234.8" cy="537.0" r="0.9"/></g>
<g fill="#ef9518"><circle cx="243.4" cy="547.3" r="0.9"/><circle cx="243.9" cy="545.2" r="0.9"/><circle cx="244.8" cy="552.3" r="0.9"/><circle cx="244.7" cy="533.4" r="0.9"/><circle cx="244.6" cy="548.3" r="0.9"/><circle cx="243.9" cy="522.7" r="0.9"/><circle cx="243.6" cy="553.1" r="0.9"/><circle cx="244.5" cy="525.6" r="0.9"/><circle cx="244.3" cy="543.1" r="0.9"/><circle cx="243.4" cy="547.0" r="0.9"/><circle cx="244.2" cy="535.3" r="0.9"/><circle cx="243.9" cy="551.4" r="0.9"/><circle cx="243.9" cy="521.4" r="0.9"/><circle cx="244.4" cy="550.2" r="0.9"/><circle cx="243.8" cy="550.7" r="0.9"/><circle cx="243.7" cy="553.4" r="0.9"/><circle cx="243.7" cy="547.4" r="0.9"/><circle cx="244.2" cy="544.9" r="0.9"/><circle cx="245.2" cy="548.9" r="0.9"/><circle cx="242.8" cy="538.3" r="0.9"/><circle cx="245.1" cy="547.6" r="0.9"/><circle cx="243.9" cy="550.5" r="0.9"/><circle cx="244.7" cy="527.0" r="0.9"/><circle cx="243.3" cy="551.8" r="0.9"/><circle cx="244.1" cy="550.5" r="0.9"/><circle cx="244.7" cy="552.9" r="0.9"/><circle cx="245.0" cy="552.1" r="0.9"/><circle cx="244.8" cy="544.3" r="0.9"/><circle cx="243.4" cy="526.1" r="0.9"/><circle cx="243.5" cy="549.8" r="0.9"/><circle cx="243.0" cy="536.1" r="0.9"/><circle cx="244.9" cy="550.6" r="0.9"/><circle cx="242.8" cy="547.0" r="0.9"/><circle cx="243.5" cy="520.7" r="0.9"/><circle cx="243.8" cy="525.7" r="0.9"/><circle cx="244.3" cy="540.4" r="0.9"/><circle cx="244.5" cy="521.4" r="0.9"/><circle cx="244.5" cy="538.9" r="0.9"/><circle cx="244.3" cy="532.8" r="0.9"/><circle cx="243.2" cy="545.3" r="0.9"/><circle cx="244.2" cy="552.3" r="0.9"/><circle cx="242.4" cy="542.9" r="0.9"/><circle cx="243.3" cy="528.7" r="0.9"/><circle cx="244.3" cy="550.1" r="0.9"/><circle cx="244.4" cy="547.5" r="0.9"/><circle cx="245.7" cy="545.4" r="0.9"/><circle cx="243.7" cy="551.9" r="0.9"/><circle cx="244.1" cy="517.3" r="0.9"/><circle cx="244.7" cy="538.2" r="0.9"/><circle cx="243.9" cy="523.8" r="0.9"/><circle cx="243.5" cy="536.7" r="0.9"/><circle cx="244.2" cy="545.1" r="0.9"/><circle cx="244.5" cy="530.3" r="0.9"/><circle cx="244.3" cy="536.5" r="0.9"/><circle cx="244.7" cy="550.8" r="0.9"/><circle cx="244.6" cy="553.5" r="0.9"/><circle cx="243.7" cy="523.5" r="0.9"/><circle cx="244.9" cy="542.6" r="0.9"/><circle cx="243.9" cy="525.6" r="0.9"/><circle cx="245.7" cy="544.7" r="0.9"/><circle cx="243.3" cy="533.7" r="0.9"/><circle cx="245.0" cy="547.0" r="0.9"/><circle cx="243.3" cy="529.9" r="0.9"/><circle cx="244.0" cy="544.6" r="0.9"/><circle cx="244.7" cy="553.9" r="0.9"/><circle cx="243.0" cy="548.3" r="0.9"/><circle cx="244.1" cy="544.0" r="0.9"/><circle cx="242.8" cy="536.2" r="0.9"/><circle cx="245.1" cy="553.0" r="0.9"/><circle cx="244.4" cy="517.4" r="0.9"/><circle cx="245.1" cy="547.3" r="0.9"/><circle cx="243.2" cy="538.2" r="0.9"/><circle cx="243.3" cy="526.7" r="0.9"/><circle cx="244.0" cy="552.2" r="0.9"/><circle cx="244.2" cy="543.1" r="0.9"/><circle cx="244.5" cy="540.1" r="0.9"/><circle cx="244.3" cy="519.6" r="0.9"/><circle cx="245.2" cy="536.3" r="0.9"/><circle cx="244.3" cy="531.7" r="0.9"/><circle cx="244.0" cy="538.5" r="0.9"/><circle cx="244.7" cy="549.6" r="0.9"/><circle cx="244.6" cy="530.3" r="0.9"/><circle cx="243.8" cy="540.6" r="0.9"/><circle cx="243.4" cy="550.5" r="0.9"/><circle cx="244.0" cy="550.3" r="0.9"/><circle cx="244.4" cy="544.4" r="0.9"/></g>
<line x1="230.9" y1="539.5" x2="240.0" y2="539.5" stroke="#1a1a1a" stroke-width="1.0"/>
<line x1="240.0" y1="542.5" x2="249.1" y2="542.5" stroke="#1a1a1a" stroke-width="1.0"/>
<text transform="translate(241.3,584) rotate(-45)" font-size="6.9" text-anchor="end" fill="#2a2a2a" stroke="#2a2a2a" stroke-width="0.1">MEP</text>
<line x1="261.5" y1="576.2" x2="261.5" y2="579.0" stroke="#2a2a2a" stroke-width="0.9"/>
<g fill="#1a4576"><circle cx="259.0" cy="546.9" r="0.9"/><circle cx="258.1" cy="543.7" r="0.9"/><circle cx="257.8" cy="554.9" r="0.9"/><circle cx="259.0" cy="547.4" r="0.9"/><circle cx="256.6" cy="534.1" r="0.9"/><circle cx="256.2" cy="550.5" r="0.9"/><circle cx="257.6" cy="553.8" r="0.9"/><circle cx="256.7" cy="532.3" r="0.9"/><circle cx="255.6" cy="548.5" r="0.9"/><circle cx="256.4" cy="556.0" r="0.9"/><circle cx="257.2" cy="534.0" r="0.9"/><circle cx="258.7" cy="549.3" r="0.9"/><circle cx="257.7" cy="532.3" r="0.9"/><circle cx="257.2" cy="553.0" r="0.9"/><circle cx="258.1" cy="553.4" r="0.9"/><circle cx="257.4" cy="546.6" r="0.9"/><circle cx="255.8" cy="542.6" r="0.9"/><circle cx="257.7" cy="535.0" r="0.9"/><circle cx="256.7" cy="534.0" r="0.9"/><circle cx="257.1" cy="536.6" r="0.9"/><circle cx="257.4" cy="549.4" r="0.9"/><circle cx="257.8" cy="541.5" r="0.9"/><circle cx="256.2" cy="555.1" r="0.9"/><circle cx="257.9" cy="541.3" r="0.9"/><circle cx="259.0" cy="549.7" r="0.9"/><circle cx="256.6" cy="534.6" r="0.9"/><circle cx="257.6" cy="549.4" r="0.9"/><circle cx="257.0" cy="538.7" r="0.9"/><circle cx="258.4" cy="553.4" r="0.9"/><circle cx="258.3" cy="554.3" r="0.9"/><circle cx="256.0" cy="555.0" r="0.9"/><circle cx="257.0" cy="553.9" r="0.9"/><circle cx="257.8" cy="532.9" r="0.9"/><circle cx="256.4" cy="552.1" r="0.9"/><circle cx="256.7" cy="542.4" r="0.9"/><circle cx="258.9" cy="546.2" r="0.9"/><circle cx="258.0" cy="553.7" r="0.9"/><circle cx="257.9" cy="555.0" r="0.9"/><circle cx="256.9" cy="542.9" r="0.9"/><circle cx="258.7" cy="547.8" r="0.9"/><circle cx="257.6" cy="532.2" r="0.9"/><circle cx="258.0" cy="554.6" r="0.9"/><circle cx="257.8" cy="538.5" r="0.9"/><circle cx="256.7" cy="551.1" r="0.9"/><circle cx="256.2" cy="552.8" r="0.9"/><circle cx="257.3" cy="552.8" r="0.9"/><circle cx="257.8" cy="532.0" r="0.9"/><circle cx="256.0" cy="554.0" r="0.9"/><circle cx="258.5" cy="544.0" r="0.9"/><circle cx="258.0" cy="547.9" r="0.9"/><circle cx="257.1" cy="531.2" r="0.9"/><circle cx="257.9" cy="553.9" r="0.9"/></g>
<g fill="#ef9518"><circle cx="265.7" cy="534.1" r="0.9"/><circle cx="265.1" cy="545.3" r="0.9"/><circle cx="266.5" cy="548.4" r="0.9"/><circle cx="266.3" cy="552.4" r="0.9"/><circle cx="265.3" cy="534.9" r="0.9"/><circle cx="265.6" cy="543.6" r="0.9"/><circle cx="266.1" cy="542.4" r="0.9"/><circle cx="265.8" cy="556.7" r="0.9"/><circle cx="265.4" cy="533.9" r="0.9"/><circle cx="266.6" cy="540.1" r="0.9"/><circle cx="265.1" cy="550.7" r="0.9"/><circle cx="266.5" cy="531.8" r="0.9"/><circle cx="265.1" cy="545.3" r="0.9"/><circle cx="266.4" cy="555.4" r="0.9"/><circle cx="265.2" cy="540.4" r="0.9"/><circle cx="266.3" cy="532.2" r="0.9"/><circle cx="265.4" cy="552.4" r="0.9"/><circle cx="267.6" cy="542.4" r="0.9"/><circle cx="266.3" cy="549.9" r="0.9"/><circle cx="264.7" cy="541.2" r="0.9"/><circle cx="266.8" cy="532.8" r="0.9"/><circle cx="265.1" cy="549.7" r="0.9"/><circle cx="265.9" cy="533.7" r="0.9"/><circle cx="265.5" cy="537.1" r="0.9"/><circle cx="265.9" cy="533.6" r="0.9"/><circle cx="265.6" cy="534.0" r="0.9"/><circle cx="265.7" cy="541.3" r="0.9"/><circle cx="266.8" cy="535.5" r="0.9"/><circle cx="267.3" cy="545.6" r="0.9"/><circle cx="265.9" cy="541.1" r="0.9"/><circle cx="266.8" cy="542.8" r="0.9"/><circle cx="266.0" cy="543.2" r="0.9"/><circle cx="265.9" cy="541.9" r="0.9"/><circle cx="265.7" cy="542.8" r="0.9"/><circle cx="266.2" cy="551.0" r="0.9"/><circle cx="266.9" cy="543.5" r="0.9"/><circle cx="267.2" cy="552.1" r="0.9"/><circle cx="266.7" cy="532.8" r="0.9"/><circle cx="265.4" cy="537.1" r="0.9"/><circle cx="265.5" cy="532.7" r="0.9"/><circle cx="266.0" cy="548.5" r="0.9"/><circle cx="266.0" cy="534.4" r="0.9"/><circle cx="266.5" cy="539.9" r="0.9"/><circle cx="267.4" cy="539.3" r="0.9"/><circle cx="265.0" cy="537.7" r="0.9"/><circle cx="265.1" cy="553.1" r="0.9"/><circle cx="266.2" cy="551.0" r="0.9"/><circle cx="266.4" cy="541.1" r="0.9"/><circle cx="266.7" cy="535.4" r="0.9"/><circle cx="266.6" cy="556.4" r="0.9"/><circle cx="265.2" cy="549.8" r="0.9"/><circle cx="267.3" cy="548.0" r="0.9"/><circle cx="264.6" cy="543.3" r="0.9"/><circle cx="265.4" cy="538.2" r="0.9"/><circle cx="266.9" cy="554.2" r="0.9"/><circle cx="264.8" cy="550.2" r="0.9"/><circle cx="266.1" cy="531.6" r="0.9"/><circle cx="266.1" cy="551.5" r="0.9"/><circle cx="265.7" cy="556.9" r="0.9"/><circle cx="266.8" cy="533.1" r="0.9"/><circle cx="267.2" cy="538.0" r="0.9"/><circle cx="265.7" cy="539.8" r="0.9"/><circle cx="265.9" cy="535.2" r="0.9"/><circle cx="264.5" cy="547.2" r="0.9"/></g>
<line x1="252.9" y1="548.5" x2="262.0" y2="548.5" stroke="#1a1a1a" stroke-width="1.0"/>
<line x1="262.0" y1="544.5" x2="271.1" y2="544.5" stroke="#1a1a1a" stroke-width="1.0"/>
<text transform="translate(263.3,584) rotate(-45)" font-size="6.9" text-anchor="end" fill="#2a2a2a" stroke="#2a2a2a" stroke-width="0.1">CLP</text>
<line x1="283.5" y1="576.2" x2="283.5" y2="579.0" stroke="#2a2a2a" stroke-width="0.9"/>
<g fill="#1a4576"><circle cx="279.1" cy="494.3" r="0.9"/><circle cx="278.3" cy="515.7" r="0.9"/><circle cx="280.7" cy="500.9" r="0.9"/><circle cx="279.3" cy="502.7" r="0.9"/><circle cx="278.1" cy="516.0" r="0.9"/><circle cx="279.5" cy="501.0" r="0.9"/><circle cx="280.2" cy="497.0" r="0.9"/><circle cx="280.3" cy="517.2" r="0.9"/><circle cx="278.9" cy="511.0" r="0.9"/><circle cx="277.7" cy="507.1" r="0.9"/><circle cx="278.4" cy="505.5" r="0.9"/><circle cx="279.1" cy="521.8" r="0.9"/><circle cx="280.0" cy="515.2" r="0.9"/><circle cx="278.3" cy="517.1" r="0.9"/><circle cx="279.5" cy="510.6" r="0.9"/><circle cx="280.1" cy="519.4" r="0.9"/><circle cx="280.5" cy="501.8" r="0.9"/><circle cx="279.6" cy="495.0" r="0.9"/><circle cx="278.8" cy="500.6" r="0.9"/><circle cx="278.1" cy="515.1" r="0.9"/><circle cx="279.1" cy="518.5" r="0.9"/><circle cx="278.1" cy="517.4" r="0.9"/><circle cx="279.8" cy="514.3" r="0.9"/><circle cx="280.2" cy="493.6" r="0.9"/><circle cx="279.1" cy="491.3" r="0.9"/><circle cx="279.1" cy="488.4" r="0.9"/><circle cx="278.8" cy="521.7" r="0.9"/><circle cx="279.5" cy="492.1" r="0.9"/><circle cx="278.7" cy="491.6" r="0.9"/><circle cx="277.7" cy="501.4" r="0.9"/><circle cx="278.9" cy="503.0" r="0.9"/><circle cx="280.9" cy="507.6" r="0.9"/><circle cx="279.7" cy="494.8" r="0.9"/><circle cx="279.2" cy="497.3" r="0.9"/><circle cx="277.9" cy="506.4" r="0.9"/><circle cx="280.0" cy="512.7" r="0.9"/><circle cx="279.5" cy="519.9" r="0.9"/><circle cx="278.5" cy="517.9" r="0.9"/><circle cx="278.8" cy="491.6" r="0.9"/><circle cx="279.9" cy="519.7" r="0.9"/><circle cx="278.6" cy="520.5" r="0.9"/><circle cx="280.1" cy="506.4" r="0.9"/><circle cx="277.6" cy="500.3" r="0.9"/><circle cx="277.5" cy="509.4" r="0.9"/><circle cx="279.9" cy="501.1" r="0.9"/><circle cx="278.7" cy="487.9" r="0.9"/><circle cx="278.6" cy="521.3" r="0.9"/><circle cx="278.6" cy="512.1" r="0.9"/><circle cx="278.5" cy="497.7" r="0.9"/><circle cx="277.9" cy="504.7" r="0.9"/><circle cx="279.9" cy="507.9" r="0.9"/><circle cx="279.9" cy="510.9" r="0.9"/><circle cx="278.3" cy="499.0" r="0.9"/><circle cx="278.4" cy="521.3" r="0.9"/><circle cx="278.8" cy="509.0" r="0.9"/><circle cx="279.8" cy="492.4" r="0.9"/><circle cx="279.4" cy="491.0" r="0.9"/><circle cx="280.2" cy="509.7" r="0.9"/><circle cx="278.5" cy="491.2" r="0.9"/><circle cx="278.4" cy="517.3" r="0.9"/><circle cx="277.8" cy="509.7" r="0.9"/><circle cx="278.7" cy="493.9" r="0.9"/><circle cx="279.8" cy="513.5" r="0.9"/><circle cx="278.1" cy="506.7" r="0.9"/><circle cx="279.8" cy="511.4" r="0.9"/><circle cx="278.5" cy="516.5" r="0.9"/><circle cx="278.4" cy="511.7" r="0.9"/><circle cx="280.1" cy="502.5" r="0.9"/></g>
<g fill="#ef9518"><circle cx="289.2" cy="515.4" r="0.9"/><circle cx="287.9" cy="485.0" r="0.9"/><circle cx="288.2" cy="486.8" r="0.9"/><circle cx="288.1" cy="503.7" r="0.9"/><circle cx="289.4" cy="508.6" r="0.9"/><circle cx="287.4" cy="493.4" r="0.9"/><circle cx="287.7" cy="512.3" r="0.9"/><circle cx="288.8" cy="514.3" r="0.9"/><circle cx="287.7" cy="503.2" r="0.9"/><circle cx="288.4" cy="492.8" r="0.9"/><circle cx="288.0" cy="499.8" r="0.9"/><circle cx="287.8" cy="514.3" r="0.9"/><circle cx="289.4" cy="511.7" r="0.9"/><circle cx="288.0" cy="489.4" r="0.9"/><circle cx="287.5" cy="488.9" r="0.9"/><circle cx="287.2" cy="516.8" r="0.9"/><circle cx="287.5" cy="511.9" r="0.9"/><circle cx="289.0" cy="507.6" r="0.9"/><circle cx="287.9" cy="494.0" r="0.9"/><circle cx="286.6" cy="507.9" r="0.9"/><circle cx="286.9" cy="510.1" r="0.9"/><circle cx="287.0" cy="503.1" r="0.9"/><circle cx="287.2" cy="512.5" r="0.9"/><circle cx="287.9" cy="508.8" r="0.9"/><circle cx="287.5" cy="496.6" r="0.9"/><circle cx="287.8" cy="480.7" r="0.9"/><circle cx="289.2" cy="514.6" r="0.9"/><circle cx="288.4" cy="511.9" r="0.9"/><circle cx="288.6" cy="498.0" r="0.9"/><circle cx="287.7" cy="486.5" r="0.9"/><circle cx="288.5" cy="481.0" r="0.9"/><circle cx="287.5" cy="496.6" r="0.9"/><circle cx="287.1" cy="511.9" r="0.9"/><circle cx="287.7" cy="483.5" r="0.9"/><circle cx="287.7" cy="486.2" r="0.9"/><circle cx="289.2" cy="511.4" r="0.9"/><circle cx="288.5" cy="490.5" r="0.9"/><circle cx="289.4" cy="513.3" r="0.9"/><circle cx="289.1" cy="510.5" r="0.9"/><circle cx="287.8" cy="498.6" r="0.9"/><circle cx="287.2" cy="496.2" r="0.9"/><circle cx="287.8" cy="509.4" r="0.9"/><circle cx="288.8" cy="513.6" r="0.9"/><circle cx="289.1" cy="509.6" r="0.9"/><circle cx="288.7" cy="516.9" r="0.9"/><circle cx="288.3" cy="484.5" r="0.9"/><circle cx="287.0" cy="511.0" r="0.9"/><circle cx="288.6" cy="491.4" r="0.9"/><circle cx="289.2" cy="510.7" r="0.9"/><circle cx="288.7" cy="482.9" r="0.9"/><circle cx="288.5" cy="514.6" r="0.9"/><circle cx="288.3" cy="507.4" r="0.9"/><circle cx="288.6" cy="493.5" r="0.9"/><circle cx="287.4" cy="515.0" r="0.9"/><circle cx="287.2" cy="496.6" r="0.9"/><circle cx="288.8" cy="496.9" r="0.9"/><circle cx="286.9" cy="499.7" r="0.9"/><circle cx="288.1" cy="486.3" r="0.9"/><circle cx="289.5" cy="511.2" r="0.9"/><circle cx="289.3" cy="510.3" r="0.9"/><circle cx="288.8" cy="511.9" r="0.9"/><circle cx="288.3" cy="510.3" r="0.9"/><circle cx="289.2" cy="508.1" r="0.9"/><circle cx="288.0" cy="491.9" r="0.9"/><circle cx="287.4" cy="515.9" r="0.9"/><circle cx="289.1" cy="496.0" r="0.9"/><circle cx="288.6" cy="487.4" r="0.9"/><circle cx="287.9" cy="507.2" r="0.9"/><circle cx="287.6" cy="486.9" r="0.9"/><circle cx="288.9" cy="512.5" r="0.9"/><circle cx="288.7" cy="496.1" r="0.9"/><circle cx="288.6" cy="484.8" r="0.9"/><circle cx="287.9" cy="480.2" r="0.9"/><circle cx="287.3" cy="514.3" r="0.9"/><circle cx="288.7" cy="497.6" r="0.9"/><circle cx="288.1" cy="509.0" r="0.9"/><circle cx="288.7" cy="488.1" r="0.9"/><circle cx="288.8" cy="517.0" r="0.9"/><circle cx="288.3" cy="508.9" r="0.9"/><circle cx="287.7" cy="514.7" r="0.9"/><circle cx="287.5" cy="481.8" r="0.9"/><circle cx="289.3" cy="512.2" r="0.9"/><circle cx="289.1" cy="516.6" r="0.9"/><circle cx="288.3" cy="490.9" r="0.9"/><circle cx="288.2" cy="484.8" r="0.9"/><circle cx="287.9" cy="498.8" r="0.9"/></g>
<line x1="274.9" y1="506.5" x2="284.0" y2="506.5" stroke="#1a1a1a" stroke-width="1.0"/>
<line x1="284.0" y1="506.5" x2="293.1" y2="506.5" stroke="#1a1a1a" stroke-width="1.0"/>
<text transform="translate(285.3,584) rotate(-45)" font-size="6.9" text-anchor="end" fill="#2a2a2a" stroke="#2a2a2a" stroke-width="0.1">B cell</text>
<line x1="305.5" y1="576.2" x2="305.5" y2="579.0" stroke="#2a2a2a" stroke-width="0.9"/>
<g fill="#1a4576"><circle cx="300.1" cy="505.1" r="0.9"/><circle cx="302.1" cy="513.6" r="0.9"/><circle cx="300.7" cy="501.6" r="0.9"/><circle cx="301.5" cy="505.0" r="0.9"/><circle cx="301.3" cy="499.4" r="0.9"/><circle cx="301.6" cy="525.8" r="0.9"/><circle cx="301.9" cy="502.2" r="0.9"/><circle cx="301.9" cy="499.1" r="0.9"/><circle cx="300.0" cy="506.2" r="0.9"/><circle cx="300.5" cy="527.0" r="0.9"/><circle cx="302.5" cy="521.8" r="0.9"/><circle cx="300.4" cy="519.8" r="0.9"/><circle cx="300.9" cy="510.0" r="0.9"/><circle cx="300.4" cy="503.5" r="0.9"/><circle cx="300.2" cy="509.7" r="0.9"/><circle cx="300.2" cy="519.5" r="0.9"/><circle cx="302.5" cy="505.6" r="0.9"/><circle cx="301.1" cy="522.2" r="0.9"/><circle cx="300.0" cy="517.5" r="0.9"/><circle cx="301.9" cy="510.5" r="0.9"/><circle cx="301.0" cy="498.5" r="0.9"/><circle cx="301.7" cy="506.4" r="0.9"/><circle cx="302.3" cy="506.9" r="0.9"/><circle cx="302.1" cy="504.2" r="0.9"/><circle cx="301.5" cy="501.9" r="0.9"/><circle cx="301.1" cy="499.1" r="0.9"/><circle cx="301.7" cy="519.2" r="0.9"/><circle cx="300.5" cy="526.1" r="0.9"/><circle cx="302.1" cy="520.3" r="0.9"/><circle cx="300.8" cy="523.8" r="0.9"/><circle cx="301.1" cy="529.2" r="0.9"/><circle cx="302.6" cy="510.3" r="0.9"/><circle cx="300.9" cy="500.8" r="0.9"/><circle cx="300.8" cy="505.6" r="0.9"/><circle cx="301.3" cy="499.5" r="0.9"/><circle cx="301.2" cy="529.0" r="0.9"/><circle cx="301.5" cy="507.9" r="0.9"/><circle cx="300.9" cy="501.1" r="0.9"/><circle cx="302.4" cy="507.0" r="0.9"/><circle cx="300.8" cy="504.7" r="0.9"/><circle cx="301.6" cy="500.5" r="0.9"/><circle cx="299.5" cy="513.2" r="0.9"/><circle cx="300.7" cy="500.8" r="0.9"/><circle cx="302.1" cy="512.5" r="0.9"/><circle cx="302.1" cy="525.8" r="0.9"/><circle cx="300.2" cy="523.2" r="0.9"/><circle cx="300.7" cy="499.1" r="0.9"/><circle cx="301.0" cy="526.3" r="0.9"/><circle cx="302.1" cy="515.6" r="0.9"/><circle cx="300.1" cy="523.9" r="0.9"/><circle cx="299.4" cy="512.5" r="0.9"/><circle cx="300.4" cy="525.7" r="0.9"/><circle cx="301.6" cy="510.6" r="0.9"/><circle cx="300.9" cy="525.1" r="0.9"/><circle cx="301.0" cy="498.3" r="0.9"/><circle cx="302.7" cy="509.1" r="0.9"/><circle cx="300.7" cy="529.9" r="0.9"/><circle cx="300.7" cy="510.3" r="0.9"/><circle cx="301.3" cy="501.8" r="0.9"/><circle cx="301.1" cy="502.6" r="0.9"/><circle cx="301.1" cy="526.9" r="0.9"/><circle cx="300.9" cy="528.2" r="0.9"/><circle cx="302.2" cy="520.8" r="0.9"/><circle cx="300.6" cy="528.7" r="0.9"/></g>
<g fill="#ef9518"><circle cx="310.7" cy="509.1" r="0.9"/><circle cx="311.1" cy="512.1" r="0.9"/><circle cx="310.8" cy="504.3" r="0.9"/><circle cx="310.3" cy="520.6" r="0.9"/><circle cx="311.1" cy="501.5" r="0.9"/><circle cx="310.2" cy="530.2" r="0.9"/><circle cx="309.4" cy="507.0" r="0.9"/><circle cx="310.5" cy="529.3" r="0.9"/><circle cx="310.4" cy="527.9" r="0.9"/><circle cx="309.5" cy="518.8" r="0.9"/><circle cx="310.9" cy="503.0" r="0.9"/><circle cx="311.2" cy="504.6" r="0.9"/><circle cx="311.0" cy="514.0" r="0.9"/><circle cx="310.3" cy="515.4" r="0.9"/><circle cx="310.0" cy="529.4" r="0.9"/><circle cx="310.6" cy="498.8" r="0.9"/><circle cx="308.8" cy="510.2" r="0.9"/><circle cx="310.5" cy="499.6" r="0.9"/><circle cx="310.5" cy="517.6" r="0.9"/><circle cx="310.8" cy="510.3" r="0.9"/><circle cx="309.5" cy="516.8" r="0.9"/><circle cx="311.2" cy="519.8" r="0.9"/><circle cx="310.2" cy="498.0" r="0.9"/><circle cx="310.0" cy="527.7" r="0.9"/><circle cx="310.9" cy="499.7" r="0.9"/><circle cx="310.7" cy="504.9" r="0.9"/><circle cx="308.7" cy="515.3" r="0.9"/><circle cx="310.4" cy="530.8" r="0.9"/><circle cx="309.7" cy="515.1" r="0.9"/><circle cx="308.8" cy="517.4" r="0.9"/><circle cx="311.0" cy="504.8" r="0.9"/><circle cx="310.0" cy="499.4" r="0.9"/><circle cx="310.6" cy="521.6" r="0.9"/><circle cx="309.3" cy="519.3" r="0.9"/><circle cx="308.9" cy="515.2" r="0.9"/><circle cx="309.6" cy="516.2" r="0.9"/><circle cx="310.0" cy="515.7" r="0.9"/><circle cx="310.9" cy="500.7" r="0.9"/><circle cx="310.4" cy="516.9" r="0.9"/><circle cx="310.3" cy="530.5" r="0.9"/><circle cx="310.0" cy="522.8" r="0.9"/><circle cx="311.1" cy="514.4" r="0.9"/><circle cx="309.6" cy="525.5" r="0.9"/><circle cx="311.1" cy="521.5" r="0.9"/><circle cx="310.4" cy="499.0" r="0.9"/><circle cx="309.3" cy="503.8" r="0.9"/><circle cx="310.1" cy="509.7" r="0.9"/><circle cx="310.3" cy="507.7" r="0.9"/><circle cx="309.6" cy="526.9" r="0.9"/><circle cx="310.9" cy="499.4" r="0.9"/><circle cx="310.2" cy="498.2" r="0.9"/><circle cx="310.2" cy="498.4" r="0.9"/><circle cx="309.2" cy="507.1" r="0.9"/><circle cx="310.5" cy="509.9" r="0.9"/><circle cx="310.5" cy="523.3" r="0.9"/><circle cx="310.4" cy="519.6" r="0.9"/><circle cx="310.4" cy="523.0" r="0.9"/><circle cx="309.6" cy="519.6" r="0.9"/><circle cx="310.9" cy="498.4" r="0.9"/><circle cx="310.3" cy="510.8" r="0.9"/><circle cx="309.0" cy="516.6" r="0.9"/><circle cx="310.3" cy="528.2" r="0.9"/><circle cx="310.3" cy="529.7" r="0.9"/><circle cx="309.1" cy="501.7" r="0.9"/><circle cx="309.7" cy="520.8" r="0.9"/><circle cx="309.9" cy="503.6" r="0.9"/><circle cx="310.5" cy="529.3" r="0.9"/><circle cx="309.0" cy="511.7" r="0.9"/><circle cx="310.9" cy="500.1" r="0.9"/><circle cx="310.1" cy="517.8" r="0.9"/><circle cx="309.9" cy="518.9" r="0.9"/><circle cx="310.8" cy="501.9" r="0.9"/><circle cx="310.5" cy="498.2" r="0.9"/><circle cx="309.7" cy="507.7" r="0.9"/><circle cx="311.0" cy="525.1" r="0.9"/><circle cx="310.3" cy="530.9" r="0.9"/><circle cx="310.3" cy="515.7" r="0.9"/><circle cx="309.5" cy="519.6" r="0.9"/></g>
<line x1="296.9" y1="513.5" x2="306.0" y2="513.5" stroke="#1a1a1a" stroke-width="1.0"/>
<line x1="306.0" y1="512.5" x2="315.1" y2="512.5" stroke="#1a1a1a" stroke-width="1.0"/>
<text transform="translate(307.3,584) rotate(-45)" font-size="6.9" text-anchor="end" fill="#2a2a2a" stroke="#2a2a2a" stroke-width="0.1">T cell</text>
<line x1="59.6" y1="535.5" x2="69.3" y2="535.5" stroke="#222" stroke-width="1"/>
<text x="64.4" y="536.2" font-size="8" text-anchor="middle" fill="#222" font-weight="normal"  stroke="#222" stroke-width="0">***</text>
<line x1="103.5" y1="516.5" x2="112.5" y2="516.5" stroke="#222" stroke-width="1"/>
<text x="108" y="516.8" font-size="8" text-anchor="middle" fill="#222" font-weight="normal"  stroke="#222" stroke-width="0">*</text>
<line x1="192" y1="492.5" x2="201.6" y2="492.5" stroke="#222" stroke-width="1"/>
<text x="196.8" y="493.4" font-size="8" text-anchor="middle" fill="#222" font-weight="normal"  stroke="#222" stroke-width="0">*</text>
<line x1="213.7" y1="486.5" x2="223" y2="486.5" stroke="#222" stroke-width="1"/>
<text x="218.3" y="486.8" font-size="8" text-anchor="middle" fill="#222" font-weight="normal"  stroke="#222" stroke-width="0">**</text>
<rect x="379.5" y="143.8" width="133.70000000000005" height="23.69999999999999" fill="#adbd85"/>
<rect x="440.2" y="171.15" width="6.1" height="3.98" fill="#7381b4" stroke="#3c4660" stroke-width="0.7"/>
<rect x="428.0" y="175.13" width="18.3" height="3.98" fill="#7381b4" stroke="#3c4660" stroke-width="0.7"/>
<rect x="427.1" y="179.11" width="19.2" height="3.98" fill="#7381b4" stroke="#3c4660" stroke-width="0.7"/>
<rect x="417.0" y="183.09" width="29.3" height="3.98" fill="#7381b4" stroke="#3c4660" stroke-width="0.7"/>
<rect x="411.0" y="187.07" width="35.3" height="3.98" fill="#7381b4" stroke="#3c4660" stroke-width="0.7"/>
<rect x="419.7" y="191.05" width="26.6" height="3.98" fill="#7381b4" stroke="#3c4660" stroke-width="0.7"/>
<rect x="395.2" y="195.03" width="51.1" height="3.98" fill="#7381b4" stroke="#3c4660" stroke-width="0.7"/>
<rect x="403.9" y="199.01" width="42.4" height="3.98" fill="#7381b4" stroke="#3c4660" stroke-width="0.7"/>
<rect x="401.7" y="202.99" width="44.6" height="3.98" fill="#7381b4" stroke="#3c4660" stroke-width="0.7"/>
<rect x="395.2" y="206.97" width="51.1" height="3.98" fill="#7381b4" stroke="#3c4660" stroke-width="0.7"/>
<rect x="382.2" y="210.95" width="64.1" height="3.98" fill="#7381b4" stroke="#3c4660" stroke-width="0.7"/>
<rect x="387.3" y="214.93" width="59.0" height="3.98" fill="#7381b4" stroke="#3c4660" stroke-width="0.7"/>
<rect x="427.2" y="218.91" width="19.1" height="3.98" fill="#7381b4" stroke="#3c4660" stroke-width="0.7"/>
<rect x="432.0" y="222.89" width="14.3" height="3.98" fill="#7381b4" stroke="#3c4660" stroke-width="0.7"/>
<rect x="446.3" y="167.20" width="4.3" height="3.98" fill="#f9c17e" stroke="#9a6a30" stroke-width="0.7"/>
<rect x="446.3" y="171.18" width="7.9" height="3.98" fill="#f9c17e" stroke="#9a6a30" stroke-width="0.7"/>
<rect x="446.3" y="175.16" width="12.3" height="3.98" fill="#f9c17e" stroke="#9a6a30" stroke-width="0.7"/>
<rect x="446.3" y="179.14" width="22.5" height="3.98" fill="#f9c17e" stroke="#9a6a30" stroke-width="0.7"/>
<rect x="446.3" y="183.12" width="26.8" height="3.98" fill="#f9c17e" stroke="#9a6a30" stroke-width="0.7"/>
<rect x="446.3" y="187.10" width="29.2" height="3.98" fill="#f9c17e" stroke="#9a6a30" stroke-width="0.7"/>
<rect x="446.3" y="191.08" width="37.0" height="3.98" fill="#f9c17e" stroke="#9a6a30" stroke-width="0.7"/>
<rect x="446.3" y="195.06" width="50.0" height="3.98" fill="#f9c17e" stroke="#9a6a30" stroke-width="0.7"/>
<rect x="446.3" y="199.04" width="49.4" height="3.98" fill="#f9c17e" stroke="#9a6a30" stroke-width="0.7"/>
<rect x="446.3" y="203.02" width="54.1" height="3.98" fill="#f9c17e" stroke="#9a6a30" stroke-width="0.7"/>
<rect x="446.3" y="207.00" width="45.0" height="3.98" fill="#f9c17e" stroke="#9a6a30" stroke-width="0.7"/>
<rect x="446.3" y="210.98" width="42.2" height="3.98" fill="#f9c17e" stroke="#9a6a30" stroke-width="0.7"/>
<rect x="446.3" y="214.96" width="51.3" height="3.98" fill="#f9c17e" stroke="#9a6a30" stroke-width="0.7"/>
<rect x="446.3" y="218.94" width="25.3" height="3.98" fill="#f9c17e" stroke="#9a6a30" stroke-width="0.7"/>
<rect x="446.3" y="222.92" width="6.1" height="3.98" fill="#f9c17e" stroke="#9a6a30" stroke-width="0.7"/>
<rect x="446.3" y="147.30" width="1.7" height="3.98" fill="#f9c17e" stroke="#9a6a30" stroke-width="0.6"/>
<rect x="446.3" y="151.30" width="0.9" height="3.98" fill="#f9c17e" stroke="#9a6a30" stroke-width="0.6"/>
<rect x="446.3" y="155.30" width="5.2" height="3.98" fill="#f9c17e" stroke="#9a6a30" stroke-width="0.6"/>
<rect x="446.3" y="159.20" width="0.9" height="3.98" fill="#f9c17e" stroke="#9a6a30" stroke-width="0.6"/>
<rect x="446.3" y="163.20" width="3.2" height="3.98" fill="#f9c17e" stroke="#9a6a30" stroke-width="0.6"/>
<line x1="446.5" y1="143.8" x2="446.5" y2="230" stroke="#6b4a2a" stroke-width="0.8"/>
<circle cx="382.7" cy="177.4" r="1.3" fill="#ad0f2d"/>
<circle cx="414.1" cy="173.3" r="1.3" fill="#ad0f2d"/>
<circle cx="434.3" cy="169.4" r="1.3" fill="#ad0f2d"/>
<circle cx="399.1" cy="181.2" r="1.3" fill="#ad0f2d"/>
<circle cx="399.1" cy="185.2" r="1.3" fill="#ad0f2d"/>
<circle cx="402.9" cy="189.2" r="1.3" fill="#ad0f2d"/>
<circle cx="426.7" cy="193.3" r="1.3" fill="#ad0f2d"/>
<circle cx="417.3" cy="196.9" r="1.3" fill="#ad0f2d"/>
<circle cx="429.1" cy="200.5" r="1.3" fill="#ad0f2d"/>
<circle cx="433.9" cy="204.4" r="1.3" fill="#ad0f2d"/>
<circle cx="436.8" cy="208.8" r="1.3" fill="#ad0f2d"/>
<circle cx="438.1" cy="212.8" r="1.3" fill="#ad0f2d"/>
<circle cx="441.1" cy="216.7" r="1.3" fill="#ad0f2d"/>
<circle cx="445.3" cy="220.3" r="1.3" fill="#ad0f2d"/>
<circle cx="446" cy="223.9" r="1.3" fill="#ad0f2d"/>
<circle cx="496.3" cy="149.6" r="1.3" fill="#ad0f2d"/>
<circle cx="481.7" cy="153.7" r="1.3" fill="#ad0f2d"/>
<circle cx="501.1" cy="157.6" r="1.3" fill="#ad0f2d"/>
<circle cx="456" cy="161.3" r="1.3" fill="#ad0f2d"/>
<circle cx="463.7" cy="165.4" r="1.3" fill="#ad0f2d"/>
<circle cx="462.9" cy="169.3" r="1.3" fill="#ad0f2d"/>
<circle cx="466.8" cy="173.1" r="1.3" fill="#ad0f2d"/>
<circle cx="467.7" cy="177" r="1.3" fill="#ad0f2d"/>
<circle cx="473.9" cy="180.9" r="1.3" fill="#ad0f2d"/>
<circle cx="469.3" cy="184.8" r="1.3" fill="#ad0f2d"/>
<circle cx="463.7" cy="188.7" r="1.3" fill="#ad0f2d"/>
<circle cx="461" cy="192.9" r="1.3" fill="#ad0f2d"/>
<circle cx="459.8" cy="196.8" r="1.3" fill="#ad0f2d"/>
<circle cx="455.6" cy="200.7" r="1.3" fill="#ad0f2d"/>
<circle cx="453.7" cy="204.6" r="1.3" fill="#ad0f2d"/>
<circle cx="450.6" cy="208.5" r="1.3" fill="#ad0f2d"/>
<circle cx="449" cy="212.4" r="1.3" fill="#ad0f2d"/>
<circle cx="448.6" cy="216.2" r="1.3" fill="#ad0f2d"/>
<circle cx="446.2" cy="220.1" r="1.3" fill="#ad0f2d"/>
<circle cx="446.2" cy="224" r="1.3" fill="#ad0f2d"/>
<rect x="379.5" y="143.8" width="133.70000000000005" height="86.19999999999999" fill="none" stroke="#2a2a22" stroke-width="1.2"/>
<line x1="377.0" y1="146.5" x2="379.5" y2="146.5" stroke="#2a2a2a" stroke-width="0.9"/>
<text x="373.2" y="149.0" font-size="6.4" text-anchor="end" fill="#3a3a3a" stroke="#3a3a3a" stroke-width="0.1">10<tspan dy="-2.8" font-size="4.3">&#8722;2</tspan></text>
<line x1="377.0" y1="171.5" x2="379.5" y2="171.5" stroke="#2a2a2a" stroke-width="0.9"/>
<text x="373.2" y="173.8" font-size="6.4" text-anchor="end" fill="#3a3a3a" stroke="#3a3a3a" stroke-width="0.1">10<tspan dy="-2.8" font-size="4.3">&#8722;3</tspan></text>
<line x1="377.0" y1="196.5" x2="379.5" y2="196.5" stroke="#2a2a2a" stroke-width="0.9"/>
<text x="373.2" y="198.60000000000002" font-size="6.4" text-anchor="end" fill="#3a3a3a" stroke="#3a3a3a" stroke-width="0.1">10<tspan dy="-2.8" font-size="4.3">&#8722;4</tspan></text>
<line x1="377.0" y1="220.5" x2="379.5" y2="220.5" stroke="#2a2a2a" stroke-width="0.9"/>
<text x="373.2" y="223.10000000000002" font-size="6.4" text-anchor="end" fill="#3a3a3a" stroke="#3a3a3a" stroke-width="0.1">10<tspan dy="-2.8" font-size="4.3">&#8722;5</tspan></text>
<line x1="378.1" y1="164.5" x2="379.5" y2="164.5" stroke="#2a2a2a" stroke-width="0.6"/>
<line x1="378.1" y1="159.5" x2="379.5" y2="159.5" stroke="#2a2a2a" stroke-width="0.6"/>
<line x1="378.1" y1="156.5" x2="379.5" y2="156.5" stroke="#2a2a2a" stroke-width="0.6"/>
<line x1="378.1" y1="154.5" x2="379.5" y2="154.5" stroke="#2a2a2a" stroke-width="0.6"/>
<line x1="378.1" y1="152.5" x2="379.5" y2="152.5" stroke="#2a2a2a" stroke-width="0.6"/>
<line x1="378.1" y1="150.5" x2="379.5" y2="150.5" stroke="#2a2a2a" stroke-width="0.6"/>
<line x1="378.1" y1="149.5" x2="379.5" y2="149.5" stroke="#2a2a2a" stroke-width="0.6"/>
<line x1="378.1" y1="147.5" x2="379.5" y2="147.5" stroke="#2a2a2a" stroke-width="0.6"/>
<line x1="378.1" y1="188.5" x2="379.5" y2="188.5" stroke="#2a2a2a" stroke-width="0.6"/>
<line x1="378.1" y1="184.5" x2="379.5" y2="184.5" stroke="#2a2a2a" stroke-width="0.6"/>
<line x1="378.1" y1="181.5" x2="379.5" y2="181.5" stroke="#2a2a2a" stroke-width="0.6"/>
<line x1="378.1" y1="178.5" x2="379.5" y2="178.5" stroke="#2a2a2a" stroke-width="0.6"/>
<line x1="378.1" y1="177.5" x2="379.5" y2="177.5" stroke="#2a2a2a" stroke-width="0.6"/>
<line x1="378.1" y1="175.5" x2="379.5" y2="175.5" stroke="#2a2a2a" stroke-width="0.6"/>
<line x1="378.1" y1="173.5" x2="379.5" y2="173.5" stroke="#2a2a2a" stroke-width="0.6"/>
<line x1="378.1" y1="172.5" x2="379.5" y2="172.5" stroke="#2a2a2a" stroke-width="0.6"/>
<line x1="378.1" y1="213.5" x2="379.5" y2="213.5" stroke="#2a2a2a" stroke-width="0.6"/>
<line x1="378.1" y1="209.5" x2="379.5" y2="209.5" stroke="#2a2a2a" stroke-width="0.6"/>
<line x1="378.1" y1="206.5" x2="379.5" y2="206.5" stroke="#2a2a2a" stroke-width="0.6"/>
<line x1="378.1" y1="203.5" x2="379.5" y2="203.5" stroke="#2a2a2a" stroke-width="0.6"/>
<line x1="378.1" y1="201.5" x2="379.5" y2="201.5" stroke="#2a2a2a" stroke-width="0.6"/>
<line x1="378.1" y1="200.5" x2="379.5" y2="200.5" stroke="#2a2a2a" stroke-width="0.6"/>
<line x1="378.1" y1="198.5" x2="379.5" y2="198.5" stroke="#2a2a2a" stroke-width="0.6"/>
<line x1="378.1" y1="197.5" x2="379.5" y2="197.5" stroke="#2a2a2a" stroke-width="0.6"/>
<line x1="378.1" y1="228.5" x2="379.5" y2="228.5" stroke="#2a2a2a" stroke-width="0.6"/>
<line x1="378.1" y1="226.5" x2="379.5" y2="226.5" stroke="#2a2a2a" stroke-width="0.6"/>
<line x1="378.1" y1="224.5" x2="379.5" y2="224.5" stroke="#2a2a2a" stroke-width="0.6"/>
<line x1="378.1" y1="223.5" x2="379.5" y2="223.5" stroke="#2a2a2a" stroke-width="0.6"/>
<line x1="378.1" y1="222.5" x2="379.5" y2="222.5" stroke="#2a2a2a" stroke-width="0.6"/>
<line x1="411.5" y1="141.4" x2="411.5" y2="143.8" stroke="#333" stroke-width="0.8"/>
<line x1="446.5" y1="141.4" x2="446.5" y2="143.8" stroke="#333" stroke-width="0.8"/>
<line x1="480.5" y1="141.4" x2="480.5" y2="143.8" stroke="#333" stroke-width="0.8"/>
<text x="411.7" y="136.3" font-size="6.6" text-anchor="middle" fill="#b42a56" font-weight="normal"  stroke="#b42a56" stroke-width="0.1">10%</text>
<text x="446.3" y="136.3" font-size="6.6" text-anchor="middle" fill="#b42a56" font-weight="normal"  stroke="#b42a56" stroke-width="0.1">0%</text>
<text x="480.8" y="136.3" font-size="6.6" text-anchor="middle" fill="#b42a56" font-weight="normal"  stroke="#b42a56" stroke-width="0.1">10%</text>
<circle cx="403.9" cy="124.2" r="1.9" fill="#ad0f2d"/>
<text x="409.2" y="125.9" font-size="6.7" text-anchor="start" fill="#b42a56" font-weight="normal" textLength="81" lengthAdjust="spacingAndGlyphs"  stroke="#b42a56" stroke-width="0.1">Total abundance of each bin</text>
<text x="446.3" y="116.4" font-size="8.2" text-anchor="middle" fill="#222" font-weight="normal"  stroke="#222" stroke-width="0.1">Granulocyte</text>
<line x1="397.5" y1="230" x2="397.5" y2="232.6" stroke="#2a2a2a" stroke-width="0.9"/>
<text x="397.9" y="242.5" font-size="6.6" text-anchor="middle" fill="#3a3a3a" font-weight="normal"  stroke="#3a3a3a" stroke-width="0.1">10%</text>
<line x1="422.5" y1="230" x2="422.5" y2="232.6" stroke="#2a2a2a" stroke-width="0.9"/>
<text x="422.1" y="242.5" font-size="6.6" text-anchor="middle" fill="#3a3a3a" font-weight="normal"  stroke="#3a3a3a" stroke-width="0.1">5%</text>
<line x1="446.5" y1="230" x2="446.5" y2="232.6" stroke="#2a2a2a" stroke-width="0.9"/>
<text x="446.3" y="242.5" font-size="6.6" text-anchor="middle" fill="#3a3a3a" font-weight="normal"  stroke="#3a3a3a" stroke-width="0.1">0%</text>
<line x1="470.5" y1="230" x2="470.5" y2="232.6" stroke="#2a2a2a" stroke-width="0.9"/>
<text x="470.5" y="242.5" font-size="6.6" text-anchor="middle" fill="#3a3a3a" font-weight="normal"  stroke="#3a3a3a" stroke-width="0.1">5%</text>
<line x1="494.5" y1="230" x2="494.5" y2="232.6" stroke="#2a2a2a" stroke-width="0.9"/>
<text x="494.7" y="242.5" font-size="6.6" text-anchor="middle" fill="#3a3a3a" font-weight="normal"  stroke="#3a3a3a" stroke-width="0.1">10%</text>
<text x="446.3" y="252.6" font-size="8.2" text-anchor="middle" fill="#3a3a3a" font-weight="normal" textLength="41" lengthAdjust="spacingAndGlyphs"  stroke="#3a3a3a" stroke-width="0.1">Clone number</text>
<text transform="translate(355.8,187.2) rotate(-90)" font-size="7.8" text-anchor="middle" fill="#3a3a3a" textLength="94" lengthAdjust="spacingAndGlyphs" stroke="#3a3a3a" stroke-width="0.1">Clonal abundance (% MNC in PB)</text>
<rect x="379.5" y="322" width="133.70000000000005" height="19.80000000000001" fill="#adbd85"/>
<rect x="442.2" y="341.80" width="4.1" height="3.98" fill="#7381b4" stroke="#3c4660" stroke-width="0.7"/>
<rect x="432.2" y="345.78" width="14.1" height="3.98" fill="#7381b4" stroke="#3c4660" stroke-width="0.7"/>
<rect x="433.8" y="349.76" width="12.5" height="3.98" fill="#7381b4" stroke="#3c4660" stroke-width="0.7"/>
<rect x="415.7" y="353.74" width="30.6" height="3.98" fill="#7381b4" stroke="#3c4660" stroke-width="0.7"/>
<rect x="403.1" y="357.72" width="43.2" height="3.98" fill="#7381b4" stroke="#3c4660" stroke-width="0.7"/>
<rect x="424.4" y="361.70" width="21.9" height="3.98" fill="#7381b4" stroke="#3c4660" stroke-width="0.7"/>
<rect x="399.5" y="365.68" width="46.8" height="3.98" fill="#7381b4" stroke="#3c4660" stroke-width="0.7"/>
<rect x="407.6" y="369.66" width="38.7" height="3.98" fill="#7381b4" stroke="#3c4660" stroke-width="0.7"/>
<rect x="407.6" y="373.64" width="38.7" height="3.98" fill="#7381b4" stroke="#3c4660" stroke-width="0.7"/>
<rect x="389.4" y="377.62" width="56.9" height="3.98" fill="#7381b4" stroke="#3c4660" stroke-width="0.7"/>
<rect x="399.5" y="381.60" width="46.8" height="3.98" fill="#7381b4" stroke="#3c4660" stroke-width="0.7"/>
<rect x="387.8" y="385.58" width="58.5" height="3.98" fill="#7381b4" stroke="#3c4660" stroke-width="0.7"/>
<rect x="424.7" y="389.56" width="21.6" height="3.98" fill="#7381b4" stroke="#3c4660" stroke-width="0.7"/>
<rect x="438.5" y="393.54" width="7.8" height="3.98" fill="#7381b4" stroke="#3c4660" stroke-width="0.7"/>
<rect x="422.8" y="397.52" width="23.5" height="3.98" fill="#7381b4" stroke="#3c4660" stroke-width="0.7"/>
<rect x="433.8" y="401.50" width="12.5" height="3.98" fill="#7381b4" stroke="#3c4660" stroke-width="0.7"/>
<rect x="446.3" y="341.80" width="7.4" height="3.98" fill="#f9c17e" stroke="#9a6a30" stroke-width="0.7"/>
<rect x="446.3" y="345.78" width="8.5" height="3.98" fill="#f9c17e" stroke="#9a6a30" stroke-width="0.7"/>
<rect x="446.3" y="349.76" width="13.1" height="3.98" fill="#f9c17e" stroke="#9a6a30" stroke-width="0.7"/>
<rect x="446.3" y="353.74" width="13.9" height="3.98" fill="#f9c17e" stroke="#9a6a30" stroke-width="0.7"/>
<rect x="446.3" y="357.72" width="34.9" height="3.98" fill="#f9c17e" stroke="#9a6a30" stroke-width="0.7"/>
<rect x="446.3" y="361.70" width="47.4" height="3.98" fill="#f9c17e" stroke="#9a6a30" stroke-width="0.7"/>
<rect x="446.3" y="365.68" width="43.5" height="3.98" fill="#f9c17e" stroke="#9a6a30" stroke-width="0.7"/>
<rect x="446.3" y="369.66" width="38.8" height="3.98" fill="#f9c17e" stroke="#9a6a30" stroke-width="0.7"/>
<rect x="446.3" y="373.64" width="51.3" height="3.98" fill="#f9c17e" stroke="#9a6a30" stroke-width="0.7"/>
<rect x="446.3" y="377.62" width="64.0" height="3.98" fill="#f9c17e" stroke="#9a6a30" stroke-width="0.7"/>
<rect x="446.3" y="381.60" width="49.7" height="3.98" fill="#f9c17e" stroke="#9a6a30" stroke-width="0.7"/>
<rect x="446.3" y="385.58" width="41.9" height="3.98" fill="#f9c17e" stroke="#9a6a30" stroke-width="0.7"/>
<rect x="446.3" y="389.56" width="34.9" height="3.98" fill="#f9c17e" stroke="#9a6a30" stroke-width="0.7"/>
<rect x="446.3" y="393.54" width="13.1" height="3.98" fill="#f9c17e" stroke="#9a6a30" stroke-width="0.7"/>
<rect x="446.3" y="397.52" width="2.7" height="3.98" fill="#f9c17e" stroke="#9a6a30" stroke-width="0.7"/>
<rect x="446.3" y="324.50" width="1.7" height="4.00" fill="#f9c17e" stroke="#9a6a30" stroke-width="0.6"/>
<rect x="446.3" y="328.50" width="1.7" height="4.00" fill="#f9c17e" stroke="#9a6a30" stroke-width="0.6"/>
<rect x="446.3" y="333.00" width="1.7" height="4.00" fill="#f9c17e" stroke="#9a6a30" stroke-width="0.6"/>
<rect x="446.3" y="337.00" width="1.7" height="4.00" fill="#f9c17e" stroke="#9a6a30" stroke-width="0.6"/>
<line x1="446.5" y1="322" x2="446.5" y2="409" stroke="#6b4a2a" stroke-width="0.8"/>
<circle cx="422.1" cy="343.8" r="1.3" fill="#ad0f2d"/>
<circle cx="383.4" cy="347.8" r="1.3" fill="#ad0f2d"/>
<circle cx="411.6" cy="351.8" r="1.3" fill="#ad0f2d"/>
<circle cx="383.4" cy="355.9" r="1.3" fill="#ad0f2d"/>
<circle cx="384" cy="359.9" r="1.3" fill="#ad0f2d"/>
<circle cx="425.8" cy="364" r="1.3" fill="#ad0f2d"/>
<circle cx="415.3" cy="367.6" r="1.3" fill="#ad0f2d"/>
<circle cx="428.7" cy="371.6" r="1.3" fill="#ad0f2d"/>
<circle cx="430.5" cy="375.2" r="1.3" fill="#ad0f2d"/>
<circle cx="433.8" cy="378.8" r="1.3" fill="#ad0f2d"/>
<circle cx="436.5" cy="382.5" r="1.3" fill="#ad0f2d"/>
<circle cx="439.9" cy="386.2" r="1.3" fill="#ad0f2d"/>
<circle cx="443" cy="389.8" r="1.3" fill="#ad0f2d"/>
<circle cx="445.3" cy="393" r="1.3" fill="#ad0f2d"/>
<circle cx="446" cy="397" r="1.3" fill="#ad0f2d"/>
<circle cx="446" cy="401" r="1.3" fill="#ad0f2d"/>
<circle cx="510" cy="327.8" r="1.3" fill="#ad0f2d"/>
<circle cx="470.8" cy="335.7" r="1.3" fill="#ad0f2d"/>
<circle cx="466.1" cy="339.6" r="1.3" fill="#ad0f2d"/>
<circle cx="481.2" cy="343.8" r="1.3" fill="#ad0f2d"/>
<circle cx="473.5" cy="347.7" r="1.3" fill="#ad0f2d"/>
<circle cx="475" cy="351.9" r="1.3" fill="#ad0f2d"/>
<circle cx="467.2" cy="355.8" r="1.3" fill="#ad0f2d"/>
<circle cx="481.7" cy="359.8" r="1.3" fill="#ad0f2d"/>
<circle cx="480.1" cy="363.5" r="1.3" fill="#ad0f2d"/>
<circle cx="467.2" cy="367.6" r="1.3" fill="#ad0f2d"/>
<circle cx="459" cy="371.3" r="1.3" fill="#ad0f2d"/>
<circle cx="457.9" cy="375.4" r="1.3" fill="#ad0f2d"/>
<circle cx="455.9" cy="379.1" r="1.3" fill="#ad0f2d"/>
<circle cx="452.1" cy="383.5" r="1.3" fill="#ad0f2d"/>
<circle cx="449.6" cy="387.4" r="1.3" fill="#ad0f2d"/>
<circle cx="447" cy="391.2" r="1.3" fill="#ad0f2d"/>
<circle cx="446.5" cy="395.1" r="1.3" fill="#ad0f2d"/>
<circle cx="446.5" cy="399" r="1.3" fill="#ad0f2d"/>
<rect x="379.5" y="322" width="133.70000000000005" height="87" fill="none" stroke="#2a2a22" stroke-width="1.2"/>
<line x1="377.0" y1="342.5" x2="379.5" y2="342.5" stroke="#2a2a2a" stroke-width="0.9"/>
<text x="373.2" y="345.0" font-size="6.4" text-anchor="end" fill="#3a3a3a" stroke="#3a3a3a" stroke-width="0.1">10<tspan dy="-2.8" font-size="4.3">&#8722;2</tspan></text>
<line x1="377.0" y1="367.5" x2="379.5" y2="367.5" stroke="#2a2a2a" stroke-width="0.9"/>
<text x="373.2" y="369.40000000000003" font-size="6.4" text-anchor="end" fill="#3a3a3a" stroke="#3a3a3a" stroke-width="0.1">10<tspan dy="-2.8" font-size="4.3">&#8722;3</tspan></text>
<line x1="377.0" y1="391.5" x2="379.5" y2="391.5" stroke="#2a2a2a" stroke-width="0.9"/>
<text x="373.2" y="393.6" font-size="6.4" text-anchor="end" fill="#3a3a3a" stroke="#3a3a3a" stroke-width="0.1">10<tspan dy="-2.8" font-size="4.3">&#8722;4</tspan></text>
<line x1="378.1" y1="335.5" x2="379.5" y2="335.5" stroke="#2a2a2a" stroke-width="0.6"/>
<line x1="378.1" y1="331.5" x2="379.5" y2="331.5" stroke="#2a2a2a" stroke-width="0.6"/>
<line x1="378.1" y1="328.5" x2="379.5" y2="328.5" stroke="#2a2a2a" stroke-width="0.6"/>
<line x1="378.1" y1="325.5" x2="379.5" y2="325.5" stroke="#2a2a2a" stroke-width="0.6"/>
<line x1="378.1" y1="323.5" x2="379.5" y2="323.5" stroke="#2a2a2a" stroke-width="0.6"/>
<line x1="378.1" y1="322.5" x2="379.5" y2="322.5" stroke="#2a2a2a" stroke-width="0.6"/>
<line x1="378.1" y1="359.5" x2="379.5" y2="359.5" stroke="#2a2a2a" stroke-width="0.6"/>
<line x1="378.1" y1="355.5" x2="379.5" y2="355.5" stroke="#2a2a2a" stroke-width="0.6"/>
<line x1="378.1" y1="352.5" x2="379.5" y2="352.5" stroke="#2a2a2a" stroke-width="0.6"/>
<line x1="378.1" y1="350.5" x2="379.5" y2="350.5" stroke="#2a2a2a" stroke-width="0.6"/>
<line x1="378.1" y1="348.5" x2="379.5" y2="348.5" stroke="#2a2a2a" stroke-width="0.6"/>
<line x1="378.1" y1="346.5" x2="379.5" y2="346.5" stroke="#2a2a2a" stroke-width="0.6"/>
<line x1="378.1" y1="345.5" x2="379.5" y2="345.5" stroke="#2a2a2a" stroke-width="0.6"/>
<line x1="378.1" y1="343.5" x2="379.5" y2="343.5" stroke="#2a2a2a" stroke-width="0.6"/>
<line x1="378.1" y1="384.5" x2="379.5" y2="384.5" stroke="#2a2a2a" stroke-width="0.6"/>
<line x1="378.1" y1="379.5" x2="379.5" y2="379.5" stroke="#2a2a2a" stroke-width="0.6"/>
<line x1="378.1" y1="376.5" x2="379.5" y2="376.5" stroke="#2a2a2a" stroke-width="0.6"/>
<line x1="378.1" y1="374.5" x2="379.5" y2="374.5" stroke="#2a2a2a" stroke-width="0.6"/>
<line x1="378.1" y1="372.5" x2="379.5" y2="372.5" stroke="#2a2a2a" stroke-width="0.6"/>
<line x1="378.1" y1="370.5" x2="379.5" y2="370.5" stroke="#2a2a2a" stroke-width="0.6"/>
<line x1="378.1" y1="369.5" x2="379.5" y2="369.5" stroke="#2a2a2a" stroke-width="0.6"/>
<line x1="378.1" y1="368.5" x2="379.5" y2="368.5" stroke="#2a2a2a" stroke-width="0.6"/>
<line x1="378.1" y1="408.5" x2="379.5" y2="408.5" stroke="#2a2a2a" stroke-width="0.6"/>
<line x1="378.1" y1="404.5" x2="379.5" y2="404.5" stroke="#2a2a2a" stroke-width="0.6"/>
<line x1="378.1" y1="401.5" x2="379.5" y2="401.5" stroke="#2a2a2a" stroke-width="0.6"/>
<line x1="378.1" y1="398.5" x2="379.5" y2="398.5" stroke="#2a2a2a" stroke-width="0.6"/>
<line x1="378.1" y1="396.5" x2="379.5" y2="396.5" stroke="#2a2a2a" stroke-width="0.6"/>
<line x1="378.1" y1="395.5" x2="379.5" y2="395.5" stroke="#2a2a2a" stroke-width="0.6"/>
<line x1="378.1" y1="393.5" x2="379.5" y2="393.5" stroke="#2a2a2a" stroke-width="0.6"/>
<line x1="378.1" y1="392.5" x2="379.5" y2="392.5" stroke="#2a2a2a" stroke-width="0.6"/>
<line x1="411.5" y1="319.6" x2="411.5" y2="322" stroke="#333" stroke-width="0.8"/>
<line x1="446.5" y1="319.6" x2="446.5" y2="322" stroke="#333" stroke-width="0.8"/>
<line x1="481.5" y1="319.6" x2="481.5" y2="322" stroke="#333" stroke-width="0.8"/>
<text x="411.5" y="314.5" font-size="6.6" text-anchor="middle" fill="#b42a56" font-weight="normal"  stroke="#b42a56" stroke-width="0.1">10%</text>
<text x="446.3" y="314.5" font-size="6.6" text-anchor="middle" fill="#b42a56" font-weight="normal"  stroke="#b42a56" stroke-width="0.1">0%</text>
<text x="481.2" y="314.5" font-size="6.6" text-anchor="middle" fill="#b42a56" font-weight="normal"  stroke="#b42a56" stroke-width="0.1">10%</text>
<circle cx="403.9" cy="301.4" r="1.9" fill="#ad0f2d"/>
<text x="409.2" y="303.1" font-size="6.7" text-anchor="start" fill="#b42a56" font-weight="normal" textLength="81" lengthAdjust="spacingAndGlyphs"  stroke="#b42a56" stroke-width="0.1">Total abundance of each bin</text>
<text x="446.3" y="293.6" font-size="8.2" text-anchor="middle" fill="#222" font-weight="normal"  stroke="#222" stroke-width="0.1">MPP3</text>
<line x1="397.5" y1="409" x2="397.5" y2="411.6" stroke="#2a2a2a" stroke-width="0.9"/>
<text x="397.9" y="421.5" font-size="6.6" text-anchor="middle" fill="#3a3a3a" font-weight="normal"  stroke="#3a3a3a" stroke-width="0.1">10%</text>
<line x1="422.5" y1="409" x2="422.5" y2="411.6" stroke="#2a2a2a" stroke-width="0.9"/>
<text x="422.1" y="421.5" font-size="6.6" text-anchor="middle" fill="#3a3a3a" font-weight="normal"  stroke="#3a3a3a" stroke-width="0.1">5%</text>
<line x1="446.5" y1="409" x2="446.5" y2="411.6" stroke="#2a2a2a" stroke-width="0.9"/>
<text x="446.3" y="421.5" font-size="6.6" text-anchor="middle" fill="#3a3a3a" font-weight="normal"  stroke="#3a3a3a" stroke-width="0.1">0%</text>
<line x1="470.5" y1="409" x2="470.5" y2="411.6" stroke="#2a2a2a" stroke-width="0.9"/>
<text x="470.5" y="421.5" font-size="6.6" text-anchor="middle" fill="#3a3a3a" font-weight="normal"  stroke="#3a3a3a" stroke-width="0.1">5%</text>
<line x1="494.5" y1="409" x2="494.5" y2="411.6" stroke="#2a2a2a" stroke-width="0.9"/>
<text x="494.7" y="421.5" font-size="6.6" text-anchor="middle" fill="#3a3a3a" font-weight="normal"  stroke="#3a3a3a" stroke-width="0.1">10%</text>
<text x="446.3" y="431.6" font-size="8.2" text-anchor="middle" fill="#3a3a3a" font-weight="normal" textLength="41" lengthAdjust="spacingAndGlyphs"  stroke="#3a3a3a" stroke-width="0.1">Clone number</text>
<text transform="translate(355.8,366) rotate(-90)" font-size="7.8" text-anchor="middle" fill="#3a3a3a" textLength="96.5" lengthAdjust="spacingAndGlyphs" stroke="#3a3a3a" stroke-width="0.1">Clonal abundance (% MNC in BM)</text>
<rect x="379.5" y="489.8" width="132.79999999999995" height="20.0" fill="#adbd85"/>
<rect x="445.5" y="509.60" width="0.8" height="3.98" fill="#7381b4" stroke="#3c4660" stroke-width="0.7"/>
<rect x="438.5" y="513.58" width="7.8" height="3.98" fill="#7381b4" stroke="#3c4660" stroke-width="0.7"/>
<rect x="434.3" y="517.56" width="12.0" height="3.98" fill="#7381b4" stroke="#3c4660" stroke-width="0.7"/>
<rect x="428.2" y="521.54" width="18.1" height="3.98" fill="#7381b4" stroke="#3c4660" stroke-width="0.7"/>
<rect x="416.2" y="525.52" width="30.1" height="3.98" fill="#7381b4" stroke="#3c4660" stroke-width="0.7"/>
<rect x="410.2" y="529.50" width="36.1" height="3.98" fill="#7381b4" stroke="#3c4660" stroke-width="0.7"/>
<rect x="416.2" y="533.48" width="30.1" height="3.98" fill="#7381b4" stroke="#3c4660" stroke-width="0.7"/>
<rect x="399.5" y="537.46" width="46.8" height="3.98" fill="#7381b4" stroke="#3c4660" stroke-width="0.7"/>
<rect x="393.4" y="541.44" width="52.9" height="3.98" fill="#7381b4" stroke="#3c4660" stroke-width="0.7"/>
<rect x="406.9" y="545.42" width="39.4" height="3.98" fill="#7381b4" stroke="#3c4660" stroke-width="0.7"/>
<rect x="402.5" y="549.40" width="43.8" height="3.98" fill="#7381b4" stroke="#3c4660" stroke-width="0.7"/>
<rect x="414.3" y="553.38" width="32.0" height="3.98" fill="#7381b4" stroke="#3c4660" stroke-width="0.7"/>
<rect x="382.8" y="557.36" width="63.5" height="3.98" fill="#7381b4" stroke="#3c4660" stroke-width="0.7"/>
<rect x="402.5" y="561.34" width="43.8" height="3.98" fill="#7381b4" stroke="#3c4660" stroke-width="0.7"/>
<rect x="429.8" y="565.32" width="16.5" height="3.98" fill="#7381b4" stroke="#3c4660" stroke-width="0.7"/>
<rect x="426.6" y="569.30" width="19.7" height="3.98" fill="#7381b4" stroke="#3c4660" stroke-width="0.7"/>
<rect x="446.3" y="493.50" width="3.2" height="3.98" fill="#f9c17e" stroke="#9a6a30" stroke-width="0.7"/>
<rect x="446.3" y="497.48" width="4.0" height="3.98" fill="#f9c17e" stroke="#9a6a30" stroke-width="0.7"/>
<rect x="446.3" y="501.46" width="5.7" height="3.98" fill="#f9c17e" stroke="#9a6a30" stroke-width="0.7"/>
<rect x="446.3" y="505.44" width="6.6" height="3.98" fill="#f9c17e" stroke="#9a6a30" stroke-width="0.7"/>
<rect x="446.3" y="509.42" width="8.3" height="3.98" fill="#f9c17e" stroke="#9a6a30" stroke-width="0.7"/>
<rect x="446.3" y="513.40" width="12.3" height="3.98" fill="#f9c17e" stroke="#9a6a30" stroke-width="0.7"/>
<rect x="446.3" y="517.38" width="23.0" height="3.98" fill="#f9c17e" stroke="#9a6a30" stroke-width="0.7"/>
<rect x="446.3" y="521.36" width="27.3" height="3.98" fill="#f9c17e" stroke="#9a6a30" stroke-width="0.7"/>
<rect x="446.3" y="525.34" width="37.1" height="3.98" fill="#f9c17e" stroke="#9a6a30" stroke-width="0.7"/>
<rect x="446.3" y="529.32" width="46.2" height="3.98" fill="#f9c17e" stroke="#9a6a30" stroke-width="0.7"/>
<rect x="446.3" y="533.30" width="34.1" height="3.98" fill="#f9c17e" stroke="#9a6a30" stroke-width="0.7"/>
<rect x="446.3" y="537.28" width="52.2" height="3.98" fill="#f9c17e" stroke="#9a6a30" stroke-width="0.7"/>
<rect x="446.3" y="541.26" width="49.1" height="3.98" fill="#f9c17e" stroke="#9a6a30" stroke-width="0.7"/>
<rect x="446.3" y="545.24" width="57.4" height="3.98" fill="#f9c17e" stroke="#9a6a30" stroke-width="0.7"/>
<rect x="446.3" y="549.22" width="45.0" height="3.98" fill="#f9c17e" stroke="#9a6a30" stroke-width="0.7"/>
<rect x="446.3" y="553.20" width="32.4" height="3.98" fill="#f9c17e" stroke="#9a6a30" stroke-width="0.7"/>
<rect x="446.3" y="557.18" width="14.7" height="3.98" fill="#f9c17e" stroke="#9a6a30" stroke-width="0.7"/>
<rect x="446.3" y="561.16" width="16.9" height="3.98" fill="#f9c17e" stroke="#9a6a30" stroke-width="0.7"/>
<rect x="446.3" y="565.14" width="6.6" height="3.98" fill="#f9c17e" stroke="#9a6a30" stroke-width="0.7"/>
<rect x="446.3" y="569.12" width="6.1" height="3.98" fill="#f9c17e" stroke="#9a6a30" stroke-width="0.7"/>
<line x1="446.5" y1="489.8" x2="446.5" y2="576.4" stroke="#6b4a2a" stroke-width="0.8"/>
<circle cx="432" cy="511.1" r="1.3" fill="#ad0f2d"/>
<circle cx="399.8" cy="515.2" r="1.3" fill="#ad0f2d"/>
<circle cx="396.2" cy="519" r="1.3" fill="#ad0f2d"/>
<circle cx="391" cy="523.1" r="1.3" fill="#ad0f2d"/>
<circle cx="382.6" cy="527.2" r="1.3" fill="#ad0f2d"/>
<circle cx="394.9" cy="531.1" r="1.3" fill="#ad0f2d"/>
<circle cx="417.2" cy="535.4" r="1.3" fill="#ad0f2d"/>
<circle cx="413.4" cy="539" r="1.3" fill="#ad0f2d"/>
<circle cx="420" cy="542.8" r="1.3" fill="#ad0f2d"/>
<circle cx="433.1" cy="546.9" r="1.3" fill="#ad0f2d"/>
<circle cx="435.9" cy="550.8" r="1.3" fill="#ad0f2d"/>
<circle cx="440.8" cy="554.6" r="1.3" fill="#ad0f2d"/>
<circle cx="438.5" cy="558.7" r="1.3" fill="#ad0f2d"/>
<circle cx="443" cy="562.8" r="1.3" fill="#ad0f2d"/>
<circle cx="445.1" cy="566.6" r="1.3" fill="#ad0f2d"/>
<circle cx="445.7" cy="570.5" r="1.3" fill="#ad0f2d"/>
<circle cx="491.3" cy="495.3" r="1.3" fill="#ad0f2d"/>
<circle cx="489.1" cy="499.6" r="1.3" fill="#ad0f2d"/>
<circle cx="488.2" cy="503.4" r="1.3" fill="#ad0f2d"/>
<circle cx="481.3" cy="507.4" r="1.3" fill="#ad0f2d"/>
<circle cx="477.5" cy="511.5" r="1.3" fill="#ad0f2d"/>
<circle cx="477.5" cy="515.4" r="1.3" fill="#ad0f2d"/>
<circle cx="485.1" cy="519.4" r="1.3" fill="#ad0f2d"/>
<circle cx="478.7" cy="523.2" r="1.3" fill="#ad0f2d"/>
<circle cx="476.1" cy="527" r="1.3" fill="#ad0f2d"/>
<circle cx="473" cy="530.9" r="1.3" fill="#ad0f2d"/>
<circle cx="460.7" cy="534.9" r="1.3" fill="#ad0f2d"/>
<circle cx="461" cy="539" r="1.3" fill="#ad0f2d"/>
<circle cx="456.4" cy="542.6" r="1.3" fill="#ad0f2d"/>
<circle cx="454.6" cy="546.4" r="1.3" fill="#ad0f2d"/>
<circle cx="450.7" cy="550.4" r="1.3" fill="#ad0f2d"/>
<circle cx="448.3" cy="554.5" r="1.3" fill="#ad0f2d"/>
<circle cx="446.9" cy="558.5" r="1.3" fill="#ad0f2d"/>
<circle cx="446.5" cy="562.8" r="1.3" fill="#ad0f2d"/>
<circle cx="446" cy="567.1" r="1.3" fill="#ad0f2d"/>
<circle cx="446" cy="570.5" r="1.3" fill="#ad0f2d"/>
<rect x="379.5" y="489.8" width="132.79999999999995" height="86.59999999999997" fill="none" stroke="#2a2a22" stroke-width="1.2"/>
<line x1="377.0" y1="509.5" x2="379.5" y2="509.5" stroke="#2a2a2a" stroke-width="0.9"/>
<text x="373.2" y="511.8" font-size="6.4" text-anchor="end" fill="#3a3a3a" stroke="#3a3a3a" stroke-width="0.1">10<tspan dy="-2.8" font-size="4.3">&#8722;3</tspan></text>
<line x1="377.0" y1="534.5" x2="379.5" y2="534.5" stroke="#2a2a2a" stroke-width="0.9"/>
<text x="373.2" y="537.1999999999999" font-size="6.4" text-anchor="end" fill="#3a3a3a" stroke="#3a3a3a" stroke-width="0.1">10<tspan dy="-2.8" font-size="4.3">&#8722;4</tspan></text>
<line x1="377.0" y1="560.5" x2="379.5" y2="560.5" stroke="#2a2a2a" stroke-width="0.9"/>
<text x="373.2" y="562.5999999999999" font-size="6.4" text-anchor="end" fill="#3a3a3a" stroke="#3a3a3a" stroke-width="0.1">10<tspan dy="-2.8" font-size="4.3">&#8722;5</tspan></text>
<line x1="378.1" y1="501.5" x2="379.5" y2="501.5" stroke="#2a2a2a" stroke-width="0.6"/>
<line x1="378.1" y1="497.5" x2="379.5" y2="497.5" stroke="#2a2a2a" stroke-width="0.6"/>
<line x1="378.1" y1="494.5" x2="379.5" y2="494.5" stroke="#2a2a2a" stroke-width="0.6"/>
<line x1="378.1" y1="491.5" x2="379.5" y2="491.5" stroke="#2a2a2a" stroke-width="0.6"/>
<line x1="378.1" y1="527.5" x2="379.5" y2="527.5" stroke="#2a2a2a" stroke-width="0.6"/>
<line x1="378.1" y1="522.5" x2="379.5" y2="522.5" stroke="#2a2a2a" stroke-width="0.6"/>
<line x1="378.1" y1="519.5" x2="379.5" y2="519.5" stroke="#2a2a2a" stroke-width="0.6"/>
<line x1="378.1" y1="517.5" x2="379.5" y2="517.5" stroke="#2a2a2a" stroke-width="0.6"/>
<line x1="378.1" y1="515.5" x2="379.5" y2="515.5" stroke="#2a2a2a" stroke-width="0.6"/>
<line x1="378.1" y1="513.5" x2="379.5" y2="513.5" stroke="#2a2a2a" stroke-width="0.6"/>
<line x1="378.1" y1="511.5" x2="379.5" y2="511.5" stroke="#2a2a2a" stroke-width="0.6"/>
<line x1="378.1" y1="510.5" x2="379.5" y2="510.5" stroke="#2a2a2a" stroke-width="0.6"/>
<line x1="378.1" y1="552.5" x2="379.5" y2="552.5" stroke="#2a2a2a" stroke-width="0.6"/>
<line x1="378.1" y1="548.5" x2="379.5" y2="548.5" stroke="#2a2a2a" stroke-width="0.6"/>
<line x1="378.1" y1="545.5" x2="379.5" y2="545.5" stroke="#2a2a2a" stroke-width="0.6"/>
<line x1="378.1" y1="542.5" x2="379.5" y2="542.5" stroke="#2a2a2a" stroke-width="0.6"/>
<line x1="378.1" y1="540.5" x2="379.5" y2="540.5" stroke="#2a2a2a" stroke-width="0.6"/>
<line x1="378.1" y1="538.5" x2="379.5" y2="538.5" stroke="#2a2a2a" stroke-width="0.6"/>
<line x1="378.1" y1="537.5" x2="379.5" y2="537.5" stroke="#2a2a2a" stroke-width="0.6"/>
<line x1="378.1" y1="536.5" x2="379.5" y2="536.5" stroke="#2a2a2a" stroke-width="0.6"/>
<line x1="378.1" y1="573.5" x2="379.5" y2="573.5" stroke="#2a2a2a" stroke-width="0.6"/>
<line x1="378.1" y1="570.5" x2="379.5" y2="570.5" stroke="#2a2a2a" stroke-width="0.6"/>
<line x1="378.1" y1="567.5" x2="379.5" y2="567.5" stroke="#2a2a2a" stroke-width="0.6"/>
<line x1="378.1" y1="565.5" x2="379.5" y2="565.5" stroke="#2a2a2a" stroke-width="0.6"/>
<line x1="378.1" y1="564.5" x2="379.5" y2="564.5" stroke="#2a2a2a" stroke-width="0.6"/>
<line x1="378.1" y1="562.5" x2="379.5" y2="562.5" stroke="#2a2a2a" stroke-width="0.6"/>
<line x1="378.1" y1="561.5" x2="379.5" y2="561.5" stroke="#2a2a2a" stroke-width="0.6"/>
<line x1="405.5" y1="487.40000000000003" x2="405.5" y2="489.8" stroke="#333" stroke-width="0.8"/>
<line x1="446.5" y1="487.40000000000003" x2="446.5" y2="489.8" stroke="#333" stroke-width="0.8"/>
<line x1="487.5" y1="487.40000000000003" x2="487.5" y2="489.8" stroke="#333" stroke-width="0.8"/>
<text x="405" y="482.3" font-size="6.6" text-anchor="middle" fill="#b42a56" font-weight="normal"  stroke="#b42a56" stroke-width="0.1">10%</text>
<text x="446.3" y="482.3" font-size="6.6" text-anchor="middle" fill="#b42a56" font-weight="normal"  stroke="#b42a56" stroke-width="0.1">0%</text>
<text x="487.3" y="482.3" font-size="6.6" text-anchor="middle" fill="#b42a56" font-weight="normal"  stroke="#b42a56" stroke-width="0.1">10%</text>
<circle cx="403.9" cy="470.2" r="1.9" fill="#ad0f2d"/>
<text x="409.2" y="471.9" font-size="6.7" text-anchor="start" fill="#b42a56" font-weight="normal" textLength="81" lengthAdjust="spacingAndGlyphs"  stroke="#b42a56" stroke-width="0.1">Total abundance of each bin</text>
<text x="446.3" y="462.4" font-size="8.2" text-anchor="middle" fill="#222" font-weight="normal"  stroke="#222" stroke-width="0.1">HSC</text>
<line x1="397.5" y1="576.4" x2="397.5" y2="579.0" stroke="#2a2a2a" stroke-width="0.9"/>
<text x="397.9" y="588.9" font-size="6.6" text-anchor="middle" fill="#3a3a3a" font-weight="normal"  stroke="#3a3a3a" stroke-width="0.1">10%</text>
<line x1="422.5" y1="576.4" x2="422.5" y2="579.0" stroke="#2a2a2a" stroke-width="0.9"/>
<text x="422.1" y="588.9" font-size="6.6" text-anchor="middle" fill="#3a3a3a" font-weight="normal"  stroke="#3a3a3a" stroke-width="0.1">5%</text>
<line x1="446.5" y1="576.4" x2="446.5" y2="579.0" stroke="#2a2a2a" stroke-width="0.9"/>
<text x="446.3" y="588.9" font-size="6.6" text-anchor="middle" fill="#3a3a3a" font-weight="normal"  stroke="#3a3a3a" stroke-width="0.1">0%</text>
<line x1="470.5" y1="576.4" x2="470.5" y2="579.0" stroke="#2a2a2a" stroke-width="0.9"/>
<text x="470.5" y="588.9" font-size="6.6" text-anchor="middle" fill="#3a3a3a" font-weight="normal"  stroke="#3a3a3a" stroke-width="0.1">5%</text>
<line x1="494.5" y1="576.4" x2="494.5" y2="579.0" stroke="#2a2a2a" stroke-width="0.9"/>
<text x="494.7" y="588.9" font-size="6.6" text-anchor="middle" fill="#3a3a3a" font-weight="normal"  stroke="#3a3a3a" stroke-width="0.1">10%</text>
<text x="446.3" y="599.0" font-size="8.2" text-anchor="middle" fill="#3a3a3a" font-weight="normal" textLength="41" lengthAdjust="spacingAndGlyphs"  stroke="#3a3a3a" stroke-width="0.1">Clone number</text>
<text transform="translate(355.8,532.7) rotate(-90)" font-size="7.8" text-anchor="middle" fill="#3a3a3a" textLength="97" lengthAdjust="spacingAndGlyphs" stroke="#3a3a3a" stroke-width="0.1">Clonal abundance (% MNC in BM)</text>
<path d="M30.4,56.4 q1.36,-3.40 2.72,0 q1.36,3.40 2.72,0 q1.36,-3.40 2.72,0 q1.36,3.40 2.72,0 q1.36,-3.40 2.72,0 " fill="none" stroke="#4a4a4a" stroke-width="1.05" stroke-linejoin="round"/>
<path d="M44.00,59.20 C44.00,49.94 52.00,44.40 62.00,44.30 C70.00,44.20 76.00,47.42 80.00,51.45 C83.00,54.47 85.00,55.98 84.50,57.99 L84.50,59.20 Z" fill="#c4c4c4" stroke="#4a4a4a" stroke-width="1"/>
<line x1="43.5" y1="59.2" x2="85.0" y2="59.2" stroke="#4a4a4a" stroke-width="1.3"/>
<circle cx="72.9" cy="41.6" r="5.1" fill="#d6d0d6" stroke="#6a5a70" stroke-width="0.8"/>
<circle cx="72.9" cy="41.6" r="3.0" fill="#e6a0c0" stroke="#8a4a6a" stroke-width="0.6"/>
<circle cx="75.2" cy="51.6" r="1.4" fill="#111"/>
<path d="M82.0,56.0 l4,-3 M82.0,56.2 l4.3,0.6" stroke="#4a4a4a" stroke-width="0.7" fill="none"/>
<path d="M222.7,56.4 q1.46,-3.40 2.92,0 q1.46,3.40 2.92,0 q1.46,-3.40 2.92,0 q1.46,3.40 2.92,0 q1.46,-3.40 2.92,0 " fill="none" stroke="#4a4a4a" stroke-width="1.05" stroke-linejoin="round"/>
<path d="M237.30,59.20 C237.30,50.12 244.90,44.70 254.41,44.60 C262.02,44.50 267.72,47.66 271.52,51.60 C274.37,54.56 276.28,56.04 275.80,58.02 L275.80,59.20 Z" fill="#c4c4c4" stroke="#4a4a4a" stroke-width="1"/>
<line x1="236.8" y1="59.2" x2="276.3" y2="59.2" stroke="#4a4a4a" stroke-width="1.3"/>
<circle cx="265" cy="41.5" r="5.1" fill="#d6d0d6" stroke="#6a5a70" stroke-width="0.8"/>
<circle cx="265" cy="41.5" r="3.0" fill="#e6a0c0" stroke="#8a4a6a" stroke-width="0.6"/>
<circle cx="268" cy="51.2" r="1.4" fill="#111"/>
<path d="M273.3,56.0 l4,-3 M273.3,56.2 l4.3,0.6" stroke="#4a4a4a" stroke-width="0.7" fill="none"/>
<line x1="90.4" y1="51.2" x2="99.7" y2="51.2" stroke="#222" stroke-width="1.1"/>
<path d="M102.7,51.2 L98.3,48.900000000000006 L98.3,53.5 Z" fill="#222"/>
<line x1="160.5" y1="50.8" x2="168.5" y2="50.8" stroke="#222" stroke-width="1.1"/>
<path d="M171.5,50.8 L167.1,48.5 L167.1,53.099999999999994 Z" fill="#222"/>
<text x="40" y="78" font-size="7" fill="#3a3a3a" stroke="#3a3a3a" stroke-width="0.1">CRE<tspan dy="-2.6" font-size="4.3">&#8722;/&#8722;</tspan><tspan dy="2.6">Tet2</tspan><tspan dy="-2.6" font-size="4.3">fl/fl</tspan><tspan dy="2.6"> or</tspan></text>
<text x="40" y="87.3" font-size="7" fill="#3a3a3a" stroke="#3a3a3a" stroke-width="0.1">CRE<tspan dy="-2.6" font-size="4.3">+/&#8722;</tspan><tspan dy="2.6">Tet2</tspan><tspan dy="-2.6" font-size="4.3">fl/fl</tspan></text>
<g fill="#e25a4e"><rect x="109.80" y="43.1" width="1.61" height="6.70"/><rect x="112.56" y="43.1" width="1.04" height="6.70"/><rect x="114.63" y="43.1" width="1.84" height="6.70"/><rect x="117.50" y="43.1" width="0.92" height="6.70"/><rect x="119.46" y="43.1" width="1.84" height="6.70"/><rect x="109.8" y="48.60" width="11.50" height="1.2"/><path d="M113.35,49.8 L117.75,49.8 L115.55,52.2 Z"/></g>
<g fill="#55b4dc"><rect x="120.20" y="36.3" width="1.57" height="6.80"/><rect x="122.89" y="36.3" width="1.01" height="6.80"/><rect x="124.90" y="36.3" width="1.79" height="6.80"/><rect x="127.70" y="36.3" width="0.90" height="6.80"/><rect x="129.61" y="36.3" width="1.79" height="6.80"/><rect x="120.2" y="41.90" width="11.20" height="1.2"/><path d="M123.60000000000001,43.1 L128.0,43.1 L125.80000000000001,45.2 Z"/></g>
<g fill="#f3c64a"><rect x="130.50" y="43.5" width="1.61" height="6.30"/><rect x="133.26" y="43.5" width="1.04" height="6.30"/><rect x="135.33" y="43.5" width="1.84" height="6.30"/><rect x="138.21" y="43.5" width="0.92" height="6.30"/><rect x="140.16" y="43.5" width="1.84" height="6.30"/><rect x="130.5" y="48.60" width="11.50" height="1.2"/><path d="M134.05,49.8 L138.45,49.8 L136.25,52 Z"/></g>
<g fill="#7d5fa8"><rect x="141.00" y="36.3" width="1.55" height="6.30"/><rect x="143.66" y="36.3" width="1.00" height="6.30"/><rect x="145.66" y="36.3" width="1.78" height="6.30"/><rect x="148.44" y="36.3" width="0.89" height="6.30"/><rect x="150.32" y="36.3" width="1.78" height="6.30"/><rect x="141" y="41.40" width="11.10" height="1.2"/><path d="M144.35000000000002,42.6 L148.75,42.6 L146.55,45 Z"/></g>
<ellipse cx="111.7" cy="59.4" rx="5.3" ry="4.6" fill="#fff" stroke="#333" stroke-width="1.0"/>
<ellipse cx="111.7" cy="59.5" rx="2.8" ry="2.1" fill="#d4d4d4" stroke="#555" stroke-width="0.65"/>
<ellipse cx="123.3" cy="59.4" rx="5.3" ry="4.6" fill="#fff" stroke="#333" stroke-width="1.0"/>
<ellipse cx="123.3" cy="59.5" rx="2.8" ry="2.1" fill="#d4d4d4" stroke="#555" stroke-width="0.65"/>
<ellipse cx="135.3" cy="59.4" rx="5.3" ry="4.6" fill="#fff" stroke="#333" stroke-width="1.0"/>
<ellipse cx="135.3" cy="59.5" rx="2.8" ry="2.1" fill="#d4d4d4" stroke="#555" stroke-width="0.65"/>
<ellipse cx="147.3" cy="59.4" rx="5.3" ry="4.6" fill="#fff" stroke="#333" stroke-width="1.0"/>
<ellipse cx="147.3" cy="59.5" rx="2.8" ry="2.1" fill="#d4d4d4" stroke="#555" stroke-width="0.65"/>
<text x="130.4" y="78" font-size="7.2" text-anchor="middle" fill="#3a3a3a" font-weight="normal" textLength="50.8" lengthAdjust="spacingAndGlyphs"  stroke="#3a3a3a" stroke-width="0.1">Isolate &amp; barcode</text>
<text x="130.4" y="85.4" font-size="7.0" text-anchor="middle" fill="#3a3a3a" font-weight="normal" textLength="15.5" lengthAdjust="spacingAndGlyphs"  stroke="#3a3a3a" stroke-width="0.1">HSCs</text>
<rect x="179.1" y="41.8" width="10.2" height="9.4" rx="3.8" fill="#fff" stroke="#3a3a3a" stroke-width="0.9"/>
<ellipse cx="184.2" cy="46.8" rx="2.9" ry="2.3" fill="#c0233e"/>
<rect x="191.4" y="41.699999999999996" width="10.2" height="9.4" rx="3.8" fill="#fff" stroke="#3a3a3a" stroke-width="0.9"/>
<ellipse cx="196.5" cy="46.699999999999996" rx="2.9" ry="2.3" fill="#e2c22e"/>
<rect x="176.70000000000002" y="52.599999999999994" width="10.2" height="9.4" rx="3.8" fill="#fff" stroke="#3a3a3a" stroke-width="0.9"/>
<ellipse cx="181.8" cy="57.599999999999994" rx="2.9" ry="2.3" fill="#2b9fd6"/>
<rect x="189.5" y="52.8" width="10.2" height="9.4" rx="3.8" fill="#fff" stroke="#3a3a3a" stroke-width="0.9"/>
<ellipse cx="194.6" cy="57.8" rx="2.9" ry="2.3" fill="#5a2b7c"/>
<path d="M203,51.5 C213,53 211,36 226.2,33.8" fill="none" stroke="#cfcfcf" stroke-width="1.2"/>
<path d="M226.8,33.6 l-3.2,-0.6 l1.4,2.4 z" fill="#cfcfcf"/>
<text x="214.6" y="73.8" font-size="7.2" text-anchor="middle" fill="#3a3a3a" font-weight="normal" textLength="43" lengthAdjust="spacingAndGlyphs"  stroke="#3a3a3a" stroke-width="0.1">Transplant into</text>
<text x="214.4" y="81.3" font-size="7.2" text-anchor="middle" fill="#3a3a3a" font-weight="normal" textLength="54" lengthAdjust="spacingAndGlyphs"  stroke="#3a3a3a" stroke-width="0.1">irradiated wildtype</text>
<text x="214.2" y="89.5" font-size="7.2" text-anchor="middle" fill="#3a3a3a" font-weight="normal" textLength="28" lengthAdjust="spacingAndGlyphs"  stroke="#3a3a3a" stroke-width="0.1">recipients</text>
<g transform="translate(225.3,24.2) rotate(48.3)"><line x1="0" y1="-2.8" x2="0" y2="2.8" stroke="#2f3a55" stroke-width="1.2"/><line x1="0" y1="0" x2="5" y2="0" stroke="#2f3a55" stroke-width="1"/><rect x="5" y="-2.4" width="19" height="4.8" fill="#bfe0ee" stroke="#2f3a55" stroke-width="0.8"/><rect x="11" y="-2.0" width="12.6" height="4" fill="#e8739f"/><line x1="5" y1="-3.2" x2="5" y2="3.2" stroke="#2f3a55" stroke-width="0.8"/><line x1="24" y1="0" x2="35" y2="0" stroke="#2f3a55" stroke-width="0.8"/></g>
<circle cx="252.3" cy="29.6" r="8.1" fill="#141414" stroke="#b9c22a" stroke-width="0.5"/>
<path d="M251.00,27.35 L248.65,23.28 A7.3,7.3 0 0 1 255.95,23.28 L253.60,27.35 A2.6,2.6 0 0 0 251.00,27.35 Z" fill="#e6e84a"/>
<path d="M254.90,29.60 L259.60,29.60 A7.3,7.3 0 0 1 255.95,35.92 L253.60,31.85 A2.6,2.6 0 0 0 254.90,29.60 Z" fill="#e6e84a"/>
<path d="M251.00,31.85 L248.65,35.92 A7.3,7.3 0 0 1 245.00,29.60 L249.70,29.60 A2.6,2.6 0 0 0 251.00,31.85 Z" fill="#e6e84a"/>
<circle cx="252.3" cy="29.6" r="1.6" fill="#141414"/>
<text x="331.4" y="37.8" font-size="8.0" text-anchor="middle" fill="#3a3a3a" font-weight="normal" textLength="76.8" lengthAdjust="spacingAndGlyphs"  stroke="#3a3a3a" stroke-width="0.1">Month post transplantation</text>
<line x1="282.4" y1="51.6" x2="377.6" y2="51.6" stroke="#1a1a1a" stroke-width="1.2"/>
<path d="M380.6,51.6 L374.8,48.9 L374.8,54.300000000000004 Z" fill="#1a1a1a"/>
<line x1="291.5" y1="51.6" x2="291.5" y2="54" stroke="#1a1a1a" stroke-width="0.9"/>
<text x="291.5" y="48" font-size="7" text-anchor="middle" fill="#222" font-weight="normal"  stroke="#222" stroke-width="0.1">1</text>
<line x1="309.5" y1="51.6" x2="309.5" y2="54" stroke="#1a1a1a" stroke-width="0.9"/>
<text x="309.5" y="48" font-size="7" text-anchor="middle" fill="#222" font-weight="normal"  stroke="#222" stroke-width="0.1">4</text>
<line x1="320.5" y1="51.6" x2="320.5" y2="54" stroke="#1a1a1a" stroke-width="0.9"/>
<text x="320.5" y="48" font-size="7" text-anchor="middle" fill="#222" font-weight="normal"  stroke="#222" stroke-width="0.1">5</text>
<line x1="331.5" y1="51.6" x2="331.5" y2="54" stroke="#1a1a1a" stroke-width="0.9"/>
<text x="331.7" y="48" font-size="7" text-anchor="middle" fill="#222" font-weight="normal"  stroke="#222" stroke-width="0.1">6</text>
<line x1="342.5" y1="51.6" x2="342.5" y2="54" stroke="#1a1a1a" stroke-width="0.9"/>
<text x="342.7" y="48" font-size="7" text-anchor="middle" fill="#222" font-weight="normal"  stroke="#222" stroke-width="0.1">7</text>
<line x1="366.5" y1="51.6" x2="366.5" y2="54" stroke="#1a1a1a" stroke-width="0.9"/>
<text x="366.4" y="48" font-size="7" text-anchor="middle" fill="#222" font-weight="normal"  stroke="#222" stroke-width="0.1">12</text>
<path d="M309.5,65.3 C310.55,68.25 313.7,70.38 313.7,72.89999999999999 A4.2,4.2 0 0 1 305.3,72.89999999999999 C305.3,70.38 308.45,68.25 309.5,65.3 Z" fill="#c8102e"/>
<path d="M320.5,65.3 C321.55,68.25 324.7,70.38 324.7,72.89999999999999 A4.2,4.2 0 0 1 316.3,72.89999999999999 C316.3,70.38 319.45,68.25 320.5,65.3 Z" fill="#c8102e"/>
<path d="M331.7,65.3 C332.75,68.25 335.9,70.38 335.9,72.89999999999999 A4.2,4.2 0 0 1 327.5,72.89999999999999 C327.5,70.38 330.65,68.25 331.7,65.3 Z" fill="#c8102e"/>
<path d="M342.7,65.3 C343.75,68.25 346.9,70.38 346.9,72.89999999999999 A4.2,4.2 0 0 1 338.5,72.89999999999999 C338.5,70.38 341.65,68.25 342.7,65.3 Z" fill="#c8102e"/>
<path d="M366.4,65.3 C367.45,68.25 370.59999999999997,70.38 370.59999999999997,72.89999999999999 A4.2,4.2 0 0 1 362.2,72.89999999999999 C362.2,70.38 365.34999999999997,68.25 366.4,65.3 Z" fill="#c8102e"/>
<path d="M390.3,30.0 C391.95,34.725 396.90000000000003,38.339999999999996 396.90000000000003,42.3 A6.6,6.6 0 0 1 383.7,42.3 C383.7,38.339999999999996 388.65000000000003,34.725 390.3,30.0 Z" fill="#c8102e"/>
<g transform="translate(299.6,63.2) rotate(137)" stroke="#7cc4e6" fill="#e6f4fb" stroke-width="0.9"><line x1="0" y1="-2.3" x2="0" y2="2.3"/><line x1="0" y1="0" x2="3.5" y2="0"/><rect x="3.5" y="-2" width="10" height="4"/><line x1="13.5" y1="0" x2="20" y2="0"/><line x1="6" y1="-2" x2="6" y2="0"/><line x1="8.5" y1="-2" x2="8.5" y2="0"/><line x1="11" y1="-2" x2="11" y2="0"/></g>
<text x="291.9" y="89.5" font-size="7.2" text-anchor="middle" fill="#3a3a3a" font-weight="normal" textLength="29.6" lengthAdjust="spacingAndGlyphs"  stroke="#3a3a3a" stroke-width="0.1">Tamoxifen</text>
<g transform="translate(390.9,60.2) rotate(-37) scale(0.86)"><path d="M-8,-1.3 L8,-1.3 C8.5,-4.5 12.3,-4 11.7,-1.4 C13.5,-0.8 13.5,0.8 11.7,1.4 C12.3,4 8.5,4.5 8,1.3 L-8,1.3 C-8.5,4.5 -12.3,4 -11.7,1.4 C-13.5,0.8 -13.5,-0.8 -11.7,-1.4 C-12.3,-4 -8.5,-4.5 -8,-1.3 Z" fill="#fff" stroke="#333" stroke-width="0.9"/></g>
<text x="397.3" y="81.3" font-size="7.2" text-anchor="middle" fill="#3a3a3a" font-weight="normal" textLength="36.2" lengthAdjust="spacingAndGlyphs"  stroke="#3a3a3a" stroke-width="0.1">FACS HSPCs</text>
<text x="397.7" y="88.6" font-size="7.2" text-anchor="middle" fill="#3a3a3a" font-weight="normal" textLength="23" lengthAdjust="spacingAndGlyphs"  stroke="#3a3a3a" stroke-width="0.1">&amp; WBCs</text>
<path d="M404.3,49.7 C414,52 413,64 416,70 C418,74 420,75 422.8,75.6" fill="none" stroke="#b8b8b8" stroke-width="0.9"/>
<text transform="translate(421,46) rotate(-90)" font-size="7.4" text-anchor="middle" fill="#3a3a3a" textLength="51" lengthAdjust="spacingAndGlyphs" stroke="#3a3a3a" stroke-width="0.1">Clonal abundance</text>
<rect x="426.9" y="20" width="8.8" height="18.95" fill="#c8102e"/>
<rect x="426.9" y="38.9" width="8.8" height="7.75" fill="#f7b512"/>
<rect x="426.9" y="46.6" width="8.8" height="4.65" fill="#2ba4df"/>
<rect x="426.9" y="51.2" width="8.8" height="19.05" fill="#5c2a84"/>
<rect x="443.8" y="20" width="8.8" height="18.95" fill="#c8102e"/>
<rect x="443.8" y="38.9" width="8.8" height="12.85" fill="#f7b512"/>
<rect x="443.8" y="51.7" width="8.8" height="10.35" fill="#2ba4df"/>
<rect x="443.8" y="62" width="8.8" height="8.25" fill="#5c2a84"/>
<rect x="460.8" y="20" width="8.8" height="34.35" fill="#c8102e"/>
<rect x="460.8" y="54.3" width="8.8" height="7.75" fill="#f7b512"/>
<rect x="460.8" y="62" width="8.8" height="3.85" fill="#2ba4df"/>
<rect x="460.8" y="65.8" width="8.8" height="4.45" fill="#5c2a84"/>
<rect x="477.7" y="20" width="8.8" height="39.45" fill="#c8102e"/>
<rect x="477.7" y="59.4" width="8.8" height="4.15" fill="#f7b512"/>
<rect x="477.7" y="63.5" width="8.8" height="4.25" fill="#2ba4df"/>
<rect x="477.7" y="67.7" width="8.8" height="2.55" fill="#5c2a84"/>
<line x1="425.8" y1="71.2" x2="487.8" y2="71.2" stroke="#1a1a1a" stroke-width="1.4"/>
<ellipse cx="431.2" cy="78.5" rx="4.4" ry="4.1" fill="none" stroke="#333" stroke-width="0.8"/>
<ellipse cx="431.2" cy="78.3" rx="2.3" ry="1.8" fill="none" stroke="#333" stroke-width="0.7"/><circle cx="431.2" cy="78.3" r="0.6" fill="#333"/>
<path d="M443.5,76 C444.5,73.5 450,73.5 452.2,75 C453,77 451.5,80 450.5,82.5 C448,84 444,83.5 443,81.5 C442.5,79.5 443,77.5 443.5,76 Z" fill="none" stroke="#333" stroke-width="0.8"/>
<ellipse cx="447.4" cy="78.6" rx="1.9" ry="1.5" fill="none" stroke="#333" stroke-width="0.7"/>
<path d="M458.5,78.7 C458.5,75.5 462,74.8 465,75 C469,75 471,76.5 471,78.7 C471,81 468,82.5 464.5,82.4 C461,82.3 458.5,81.5 458.5,78.7 Z" fill="none" stroke="#333" stroke-width="0.8"/>
<ellipse cx="465" cy="78.8" rx="2" ry="1.5" fill="#ddd" stroke="#555" stroke-width="0.6"/>
<polygon points="482.60,72.90 483.71,75.08 485.89,73.97 485.51,76.38 487.93,76.77 486.20,78.50 487.93,80.23 485.51,80.62 485.89,83.03 483.71,81.92 482.60,84.10 481.49,81.92 479.31,83.03 479.69,80.62 477.27,80.23 479.00,78.50 477.27,76.77 479.69,76.38 479.31,73.97 481.49,75.08" fill="none" stroke="#333" stroke-width="0.7"/>
<ellipse cx="482.6" cy="78.5" rx="2" ry="1.6" fill="none" stroke="#555" stroke-width="0.6"/>
</svg></body></html>
